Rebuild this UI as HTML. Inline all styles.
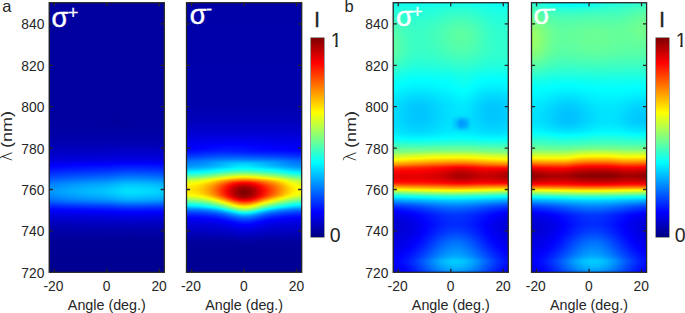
<!DOCTYPE html>
<html><head><meta charset="utf-8"><title>figure</title>
<style>
html,body{margin:0;padding:0;background:#fff}
#fig{position:relative;width:685px;height:313px;overflow:hidden;background:#fff;font-family:"Liberation Sans",sans-serif}
.hm{position:absolute;top:3px;width:115.1px;height:269.3px;overflow:hidden}
.hm i{display:block;height:1px;width:100%}
.cb{position:absolute;top:37.6px;width:13px;height:199.6px;background:linear-gradient(180deg,#800000 0%,#ff0000 12.5%,#ffff00 37.5%,#80ff80 50%,#00ffff 62.5%,#0000ff 87.5%,#000080 100%);box-shadow:0 0 0 0.6px rgba(38,38,38,.75)}
svg{position:absolute;left:0;top:0}
svg text{font-family:"Liberation Sans",sans-serif;fill:#262626}

</style></head>
<body>
<div id="fig">
<div class="hm" style="left:49.2px"><i style="background:#0000a0;height:99px"></i><i style="background:linear-gradient(90deg,#0000a1,#0000a1,#0000a0,#0000a0,#0000a0,#0000a0,#0000a0,#0000a0,#0000a0,#0000a0,#0000a0,#0000a0,#0000a0,#0000a0,#0000a0,#0000a0,#0000a0,#0000a0,#0000a0,#0000a0,#0000a0,#0000a0,#0000a0)"></i><i style="background:linear-gradient(90deg,#0000a1,#0000a1,#0000a1,#0000a1,#0000a1,#0000a1,#0000a1,#0000a0,#0000a0,#0000a0,#0000a0,#0000a0,#0000a0,#0000a0,#0000a0,#0000a0,#0000a0,#0000a0,#0000a0,#0000a0,#0000a0,#0000a0,#0000a0)"></i><i style="background:linear-gradient(90deg,#0000a1,#0000a1,#0000a1,#0000a1,#0000a1,#0000a1,#0000a1,#0000a1,#0000a1,#0000a1,#0000a1,#0000a1,#0000a0,#0000a0,#0000a0,#0000a0,#0000a0,#0000a0,#0000a0,#0000a0,#0000a0,#0000a0,#0000a0)"></i><i style="background:linear-gradient(90deg,#0000a1,#0000a1,#0000a1,#0000a1,#0000a1,#0000a1,#0000a1,#0000a1,#0000a1,#0000a1,#0000a1,#0000a1,#0000a1,#0000a0,#0000a0,#0000a0,#0000a1,#0000a1,#0000a1,#0000a1,#0000a1,#0000a1,#0000a1)"></i><i style="background:#0000a1;height:2px"></i><i style="background:linear-gradient(90deg,#0000a1,#0000a1,#0000a1,#0000a1,#0000a1,#0000a1,#0000a1,#0000a1,#0000a1,#0000a1,#0000a1,#0000a1,#0000a1,#0000a0,#0000a0,#0000a1,#0000a1,#0000a1,#0000a1,#0000a1,#0000a1,#0000a1,#0000a1)"></i><i style="background:linear-gradient(90deg,#0000a1,#0000a1,#0000a1,#0000a1,#0000a1,#0000a1,#0000a1,#0000a1,#0000a1,#0000a1,#0000a1,#0000a1,#0000a0,#0000a0,#0000a0,#0000a1,#0000a1,#0000a1,#0000a1,#0000a1,#0000a1,#0000a1,#0000a1);height:3px"></i><i style="background:linear-gradient(90deg,#0000a1,#0000a1,#0000a1,#0000a1,#0000a1,#0000a1,#0000a1,#0000a1,#0000a1,#0000a1,#0000a1,#0000a1,#0000a0,#0000a0,#0000a0,#0000a0,#0000a1,#0000a1,#0000a1,#0000a1,#0000a1,#0000a1,#0000a1)"></i><i style="background:linear-gradient(90deg,#0000a1,#0000a1,#0000a1,#0000a1,#0000a1,#0000a1,#0000a1,#0000a1,#0000a1,#0000a1,#0000a1,#0000a1,#0000a0,#00009f,#0000a0,#0000a0,#0000a1,#0000a1,#0000a1,#0000a1,#0000a1,#0000a1,#0000a1)"></i><i style="background:linear-gradient(90deg,#0000a1,#0000a1,#0000a1,#0000a1,#0000a1,#0000a1,#0000a1,#0000a1,#0000a1,#0000a1,#0000a1,#0000a0,#0000a0,#00009f,#00009f,#0000a0,#0000a1,#0000a1,#0000a1,#0000a1,#0000a1,#0000a1,#0000a1)"></i><i style="background:linear-gradient(90deg,#0000a1,#0000a1,#0000a1,#0000a1,#0000a1,#0000a1,#0000a1,#0000a1,#0000a1,#0000a1,#0000a1,#0000a0,#00009f,#00009e,#00009f,#0000a0,#0000a1,#0000a1,#0000a1,#0000a1,#0000a1,#0000a1,#0000a1)"></i><i style="background:linear-gradient(90deg,#0000a1,#0000a1,#0000a1,#0000a1,#0000a1,#0000a1,#0000a1,#0000a1,#0000a1,#0000a1,#0000a1,#0000a0,#00009f,#00009e,#00009e,#0000a0,#0000a1,#0000a1,#0000a1,#0000a1,#0000a1,#0000a1,#0000a1)"></i><i style="background:linear-gradient(90deg,#0000a1,#0000a1,#0000a1,#0000a1,#0000a1,#0000a1,#0000a1,#0000a1,#0000a1,#0000a1,#0000a1,#0000a0,#00009e,#00009d,#00009e,#0000a0,#0000a1,#0000a1,#0000a1,#0000a1,#0000a1,#0000a1,#0000a1)"></i><i style="background:linear-gradient(90deg,#0000a1,#0000a1,#0000a1,#0000a1,#0000a1,#0000a1,#0000a1,#0000a1,#0000a1,#0000a1,#0000a1,#0000a0,#00009e,#00009c,#00009d,#00009f,#0000a1,#0000a1,#0000a1,#0000a1,#0000a1,#0000a1,#0000a1);height:2px"></i><i style="background:linear-gradient(90deg,#0000a1,#0000a1,#0000a1,#0000a1,#0000a1,#0000a1,#0000a1,#0000a1,#0000a1,#0000a1,#0000a1,#0000a0,#00009d,#00009b,#00009d,#00009f,#0000a1,#0000a1,#0000a1,#0000a1,#0000a1,#0000a1,#0000a1)"></i><i style="background:linear-gradient(90deg,#0000a1,#0000a1,#0000a1,#0000a1,#0000a1,#0000a1,#0000a1,#0000a1,#0000a1,#0000a1,#0000a1,#0000a0,#00009d,#00009b,#00009c,#00009f,#0000a1,#0000a1,#0000a1,#0000a1,#0000a1,#0000a1,#0000a1)"></i><i style="background:linear-gradient(90deg,#0000a1,#0000a1,#0000a1,#0000a1,#0000a1,#0000a1,#0000a1,#0000a1,#0000a1,#0000a1,#0000a1,#0000a0,#00009d,#00009b,#00009d,#00009f,#0000a1,#0000a1,#0000a1,#0000a1,#0000a1,#0000a1,#0000a1)"></i><i style="background:linear-gradient(90deg,#0000a2,#0000a2,#0000a2,#0000a2,#0000a2,#0000a2,#0000a2,#0000a2,#0000a2,#0000a2,#0000a1,#0000a0,#00009e,#00009c,#00009d,#0000a0,#0000a1,#0000a2,#0000a2,#0000a2,#0000a2,#0000a2,#0000a2)"></i><i style="background:linear-gradient(90deg,#0000a2,#0000a2,#0000a2,#0000a2,#0000a2,#0000a2,#0000a2,#0000a2,#0000a2,#0000a2,#0000a2,#0000a1,#00009e,#00009d,#00009e,#0000a0,#0000a1,#0000a2,#0000a2,#0000a2,#0000a2,#0000a2,#0000a2)"></i><i style="background:linear-gradient(90deg,#0000a2,#0000a2,#0000a2,#0000a2,#0000a2,#0000a2,#0000a2,#0000a2,#0000a2,#0000a2,#0000a2,#0000a1,#00009f,#00009d,#00009e,#0000a1,#0000a2,#0000a2,#0000a2,#0000a2,#0000a2,#0000a2,#0000a2)"></i><i style="background:linear-gradient(90deg,#0000a3,#0000a3,#0000a3,#0000a3,#0000a3,#0000a3,#0000a3,#0000a3,#0000a3,#0000a3,#0000a2,#0000a2,#0000a0,#00009e,#00009f,#0000a1,#0000a2,#0000a2,#0000a3,#0000a3,#0000a3,#0000a3,#0000a3)"></i><i style="background:linear-gradient(90deg,#0000a3,#0000a3,#0000a3,#0000a3,#0000a3,#0000a3,#0000a3,#0000a3,#0000a3,#0000a3,#0000a3,#0000a2,#0000a1,#0000a0,#0000a0,#0000a2,#0000a3,#0000a3,#0000a3,#0000a3,#0000a3,#0000a3,#0000a3)"></i><i style="background:linear-gradient(90deg,#0000a4,#0000a3,#0000a3,#0000a3,#0000a3,#0000a3,#0000a3,#0000a3,#0000a3,#0000a3,#0000a3,#0000a3,#0000a2,#0000a1,#0000a1,#0000a2,#0000a3,#0000a3,#0000a3,#0000a3,#0000a3,#0000a3,#0000a3)"></i><i style="background:linear-gradient(90deg,#0000a4,#0000a4,#0000a4,#0000a4,#0000a4,#0000a4,#0000a4,#0000a4,#0000a4,#0000a4,#0000a4,#0000a3,#0000a3,#0000a2,#0000a2,#0000a3,#0000a4,#0000a4,#0000a4,#0000a4,#0000a4,#0000a4,#0000a4)"></i><i style="background:linear-gradient(90deg,#0000a5,#0000a5,#0000a5,#0000a5,#0000a4,#0000a4,#0000a4,#0000a4,#0000a4,#0000a4,#0000a4,#0000a4,#0000a3,#0000a3,#0000a3,#0000a4,#0000a4,#0000a4,#0000a4,#0000a4,#0000a4,#0000a4,#0000a4)"></i><i style="background:linear-gradient(90deg,#0000a5,#0000a5,#0000a5,#0000a5,#0000a5,#0000a5,#0000a5,#0000a5,#0000a5,#0000a5,#0000a5,#0000a5,#0000a4,#0000a4,#0000a4,#0000a5,#0000a5,#0000a5,#0000a5,#0000a5,#0000a5,#0000a5,#0000a5)"></i><i style="background:linear-gradient(90deg,#0000a6,#0000a6,#0000a6,#0000a6,#0000a6,#0000a6,#0000a6,#0000a6,#0000a6,#0000a6,#0000a6,#0000a5,#0000a5,#0000a5,#0000a5,#0000a5,#0000a5,#0000a5,#0000a6,#0000a6,#0000a6,#0000a6,#0000a6)"></i><i style="background:#0000a6"></i><i style="background:#0000a7"></i><i style="background:linear-gradient(90deg,#0000a8,#0000a8,#0000a8,#0000a8,#0000a8,#0000a8,#0000a8,#0000a8,#0000a8,#0000a8,#0000a8,#0000a8,#0000a8,#0000a7,#0000a7,#0000a7,#0000a8,#0000a8,#0000a8,#0000a8,#0000a8,#0000a8,#0000a8)"></i><i style="background:linear-gradient(90deg,#0000a9,#0000a9,#0000a9,#0000a9,#0000a9,#0000a9,#0000a9,#0000a8,#0000a8,#0000a8,#0000a8,#0000a8,#0000a8,#0000a8,#0000a8,#0000a8,#0000a8,#0000a8,#0000a8,#0000a8,#0000a8,#0000a8,#0000a8)"></i><i style="background:#0000a9"></i><i style="background:#0000aa"></i><i style="background:#0000ab"></i><i style="background:#0000ac"></i><i style="background:#0000ad"></i><i style="background:#0000af"></i><i style="background:#0000b1"></i><i style="background:linear-gradient(90deg,#0000b3,#0000b3,#0000b3,#0000b3,#0000b3,#0000b3,#0000b3,#0000b3,#0000b3,#0000b3,#0000b4,#0000b4,#0000b4,#0000b4,#0000b4,#0000b4,#0000b4,#0000b4,#0000b4,#0000b4,#0000b4,#0000b4,#0000b4)"></i><i style="background:linear-gradient(90deg,#0000b5,#0000b5,#0000b5,#0000b5,#0000b6,#0000b6,#0000b6,#0000b6,#0000b6,#0000b6,#0000b6,#0000b6,#0000b6,#0000b6,#0000b7,#0000b7,#0000b7,#0000b7,#0000b7,#0000b7,#0000b7,#0000b6,#0000b6)"></i><i style="background:linear-gradient(90deg,#0000b8,#0000b8,#0000b8,#0000b8,#0000b8,#0000b8,#0000b8,#0000b9,#0000b9,#0000b9,#0000b9,#0000b9,#0000b9,#0000b9,#0000ba,#0000ba,#0000ba,#0000ba,#0000ba,#0000ba,#0000b9,#0000b9,#0000b9)"></i><i style="background:linear-gradient(90deg,#0000ba,#0000ba,#0000ba,#0000bb,#0000bb,#0000bb,#0000bb,#0000bb,#0000bb,#0000bb,#0000bc,#0000bc,#0000bc,#0000bc,#0000bd,#0000bd,#0000bd,#0000bd,#0000bd,#0000bd,#0000bc,#0000bc,#0000bc)"></i><i style="background:linear-gradient(90deg,#0000bc,#0000bd,#0000bd,#0000bd,#0000bd,#0000be,#0000be,#0000be,#0000be,#0000be,#0000be,#0000bf,#0000bf,#0000bf,#0000c0,#0000c0,#0000c0,#0000c0,#0000c0,#0000c0,#0000bf,#0000bf,#0000bf)"></i><i style="background:linear-gradient(90deg,#0000bf,#0000bf,#0000bf,#0000c0,#0000c0,#0000c0,#0000c0,#0000c1,#0000c1,#0000c1,#0000c1,#0000c1,#0000c2,#0000c2,#0000c3,#0000c3,#0000c3,#0000c3,#0000c3,#0000c2,#0000c2,#0000c2,#0000c2)"></i><i style="background:linear-gradient(90deg,#0000c1,#0000c1,#0000c2,#0000c2,#0000c2,#0000c3,#0000c3,#0000c3,#0000c3,#0000c4,#0000c4,#0000c4,#0000c4,#0000c5,#0000c5,#0000c6,#0000c6,#0000c6,#0000c5,#0000c5,#0000c5,#0000c5,#0000c4)"></i><i style="background:linear-gradient(90deg,#0000c3,#0000c3,#0000c4,#0000c4,#0000c5,#0000c5,#0000c5,#0000c5,#0000c6,#0000c6,#0000c6,#0000c7,#0000c7,#0000c8,#0000c8,#0000c8,#0000c8,#0000c8,#0000c8,#0000c8,#0000c8,#0000c7,#0000c7)"></i><i style="background:linear-gradient(90deg,#0000c5,#0000c6,#0000c6,#0000c6,#0000c7,#0000c7,#0000c8,#0000c8,#0000c8,#0000c8,#0000c9,#0000c9,#0000ca,#0000ca,#0000cb,#0000cb,#0000cb,#0000cb,#0000cb,#0000cb,#0000ca,#0000ca,#0000ca)"></i><i style="background:linear-gradient(90deg,#0000c7,#0000c8,#0000c8,#0000c9,#0000c9,#0000ca,#0000ca,#0000ca,#0000cb,#0000cb,#0000cb,#0000cc,#0000cc,#0000cd,#0000cd,#0000ce,#0000ce,#0000ce,#0000ce,#0000cd,#0000cd,#0000cd,#0000cc)"></i><i style="background:linear-gradient(90deg,#0000c9,#0000ca,#0000cb,#0000cb,#0000cb,#0000cc,#0000cc,#0000cd,#0000cd,#0000cd,#0000ce,#0000ce,#0000cf,#0000cf,#0000d0,#0000d1,#0000d1,#0000d1,#0000d0,#0000d0,#0000d0,#0000cf,#0000cf)"></i><i style="background:linear-gradient(90deg,#0000cc,#0000cc,#0000cd,#0000cd,#0000ce,#0000cf,#0000cf,#0000cf,#0000d0,#0000d0,#0000d0,#0000d1,#0000d2,#0000d2,#0000d3,#0000d4,#0000d4,#0000d4,#0000d3,#0000d3,#0000d3,#0000d2,#0000d2)"></i><i style="background:linear-gradient(90deg,#0000ce,#0000cf,#0000d0,#0000d0,#0000d1,#0000d1,#0000d2,#0000d2,#0000d3,#0000d3,#0000d3,#0000d4,#0000d5,#0000d6,#0000d6,#0000d7,#0000d7,#0000d7,#0000d7,#0000d6,#0000d6,#0000d5,#0000d5)"></i><i style="background:linear-gradient(90deg,#0000d1,#0000d2,#0000d2,#0000d3,#0000d4,#0000d4,#0000d5,#0000d5,#0000d6,#0000d6,#0000d7,#0000d7,#0000d8,#0000d9,#0000da,#0000db,#0000db,#0000da,#0000da,#0000da,#0000d9,#0000d9,#0000d8)"></i><i style="background:linear-gradient(90deg,#0000d4,#0000d5,#0000d6,#0000d6,#0000d7,#0000d8,#0000d8,#0000d9,#0000d9,#0000da,#0000da,#0000db,#0000dc,#0000dd,#0000de,#0000de,#0000df,#0000de,#0000de,#0000de,#0000dd,#0000dd,#0000dc)"></i><i style="background:linear-gradient(90deg,#0000d7,#0000d8,#0000d9,#0000da,#0000db,#0000db,#0000dc,#0000dd,#0000dd,#0000de,#0000de,#0000df,#0000e0,#0000e1,#0000e2,#0000e3,#0000e3,#0000e3,#0000e2,#0000e2,#0000e1,#0000e1,#0000e0)"></i><i style="background:linear-gradient(90deg,#0000db,#0000dc,#0000dd,#0000de,#0000df,#0000e0,#0000e1,#0000e1,#0000e2,#0000e2,#0000e3,#0000e4,#0000e5,#0000e6,#0000e7,#0000e8,#0000e8,#0000e8,#0000e8,#0000e7,#0000e7,#0000e6,#0000e5)"></i><i style="background:linear-gradient(90deg,#0000e1,#0000e2,#0000e3,#0000e4,#0000e5,#0000e6,#0000e7,#0000e8,#0000e8,#0000e9,#0000ea,#0000ea,#0000ec,#0000ed,#0000ef,#0000f0,#0000f0,#0000ef,#0000ef,#0000ee,#0000ee,#0000ed,#0000ec)"></i><i style="background:linear-gradient(90deg,#0000e8,#0000e9,#0000ea,#0000eb,#0000ec,#0000ed,#0000ee,#0000ef,#0000f0,#0000f1,#0000f2,#0000f3,#0000f4,#0000f6,#0000f7,#0000f8,#0000f9,#0000f8,#0000f8,#0000f7,#0000f6,#0000f5,#0000f4)"></i><i style="background:linear-gradient(90deg,#0000ee,#0000f0,#0000f1,#0000f3,#0000f4,#0000f5,#0000f6,#0000f7,#0000f8,#0000f9,#0000fa,#0000fb,#0000fc,#0000fe,#0001ff,#0002ff,#0003ff,#0002ff,#0001ff,#0001ff,#0000ff,#0000fe,#0000fc)"></i><i style="background:linear-gradient(90deg,#0000f4,#0000f6,#0000f8,#0000f9,#0000fa,#0000fc,#0000fd,#0000fe,#0000ff,#0001ff,#0002ff,#0003ff,#0005ff,#0007ff,#0009ff,#000bff,#000bff,#000aff,#000aff,#0009ff,#0008ff,#0007ff,#0005ff)"></i><i style="background:linear-gradient(90deg,#0000fa,#0000fc,#0000fe,#0000ff,#0002ff,#0003ff,#0005ff,#0006ff,#0007ff,#0008ff,#0009ff,#000aff,#000cff,#000fff,#0011ff,#0012ff,#0012ff,#0012ff,#0011ff,#0010ff,#000fff,#000eff,#000cff)"></i><i style="background:linear-gradient(90deg,#0001ff,#0003ff,#0005ff,#0007ff,#0008ff,#000aff,#000bff,#000cff,#000eff,#000fff,#0010ff,#0011ff,#0013ff,#0016ff,#0018ff,#001aff,#001aff,#001aff,#0019ff,#0018ff,#0017ff,#0015ff,#0014ff)"></i><i style="background:linear-gradient(90deg,#0007ff,#0009ff,#000bff,#000dff,#000eff,#0010ff,#0012ff,#0013ff,#0014ff,#0015ff,#0017ff,#0018ff,#001aff,#001dff,#0020ff,#0022ff,#0022ff,#0021ff,#0020ff,#001fff,#001eff,#001dff,#001bff)"></i><i style="background:linear-gradient(90deg,#000dff,#000fff,#0011ff,#0013ff,#0015ff,#0017ff,#0018ff,#001aff,#001bff,#001cff,#001eff,#001fff,#0022ff,#0025ff,#0028ff,#0029ff,#002aff,#0029ff,#0028ff,#0027ff,#0026ff,#0024ff,#0022ff)"></i><i style="background:linear-gradient(90deg,#0013ff,#0015ff,#0017ff,#0019ff,#001bff,#001dff,#001fff,#0021ff,#0022ff,#0023ff,#0025ff,#0027ff,#0029ff,#002cff,#002fff,#0031ff,#0032ff,#0031ff,#0030ff,#002fff,#002dff,#002cff,#0029ff)"></i><i style="background:linear-gradient(90deg,#0019ff,#001bff,#001eff,#0020ff,#0022ff,#0024ff,#0026ff,#0028ff,#0029ff,#002bff,#002cff,#002eff,#0031ff,#0034ff,#0038ff,#003aff,#003aff,#0039ff,#0038ff,#0037ff,#0036ff,#0034ff,#0031ff)"></i><i style="background:linear-gradient(90deg,#001fff,#0022ff,#0025ff,#0027ff,#0029ff,#002cff,#002eff,#002fff,#0031ff,#0033ff,#0034ff,#0036ff,#0039ff,#003dff,#0040ff,#0043ff,#0043ff,#0042ff,#0041ff,#0040ff,#003eff,#003cff,#0039ff)"></i><i style="background:linear-gradient(90deg,#0026ff,#0029ff,#002cff,#002eff,#0031ff,#0033ff,#0035ff,#0037ff,#0039ff,#003bff,#003cff,#003eff,#0042ff,#0046ff,#0049ff,#004cff,#004cff,#004bff,#004aff,#0049ff,#0047ff,#0045ff,#0042ff)"></i><i style="background:linear-gradient(90deg,#002dff,#0030ff,#0033ff,#0036ff,#0039ff,#003bff,#003dff,#0040ff,#0041ff,#0043ff,#0045ff,#0047ff,#004aff,#004fff,#0053ff,#0055ff,#0056ff,#0055ff,#0053ff,#0052ff,#0050ff,#004eff,#004bff)"></i><i style="background:linear-gradient(90deg,#0035ff,#0038ff,#003bff,#003eff,#0041ff,#0043ff,#0046ff,#0048ff,#004aff,#004cff,#004eff,#0050ff,#0054ff,#0058ff,#005cff,#005fff,#005fff,#005fff,#005dff,#005cff,#005aff,#0057ff,#0054ff)"></i><i style="background:linear-gradient(90deg,#003cff,#0040ff,#0043ff,#0046ff,#0049ff,#004cff,#004eff,#0051ff,#0053ff,#0055ff,#0057ff,#0059ff,#005dff,#0062ff,#0066ff,#0069ff,#0069ff,#0069ff,#0067ff,#0065ff,#0063ff,#0061ff,#005dff)"></i><i style="background:linear-gradient(90deg,#0044ff,#0047ff,#004bff,#004eff,#0051ff,#0054ff,#0057ff,#0059ff,#005bff,#005eff,#0060ff,#0062ff,#0066ff,#006bff,#0070ff,#0073ff,#0074ff,#0073ff,#0071ff,#006fff,#006dff,#006aff,#0067ff)"></i><i style="background:linear-gradient(90deg,#004bff,#004fff,#0053ff,#0056ff,#0059ff,#005dff,#0060ff,#0062ff,#0064ff,#0067ff,#0069ff,#006cff,#0070ff,#0075ff,#007aff,#007dff,#007eff,#007dff,#007bff,#0079ff,#0077ff,#0074ff,#0070ff)"></i><i style="background:linear-gradient(90deg,#0053ff,#0057ff,#005bff,#005eff,#0062ff,#0065ff,#0068ff,#006bff,#006dff,#006fff,#0072ff,#0075ff,#0079ff,#007fff,#0084ff,#0088ff,#0088ff,#0087ff,#0085ff,#0083ff,#0081ff,#007eff,#007aff)"></i><i style="background:linear-gradient(90deg,#005aff,#005eff,#0062ff,#0066ff,#006aff,#006dff,#0071ff,#0073ff,#0076ff,#0078ff,#007bff,#007eff,#0083ff,#0088ff,#008eff,#0092ff,#0092ff,#0091ff,#008fff,#008dff,#008aff,#0087ff,#0083ff)"></i><i style="background:linear-gradient(90deg,#0062ff,#0066ff,#006bff,#006fff,#0073ff,#0076ff,#007aff,#007dff,#007fff,#0082ff,#0084ff,#0088ff,#008cff,#0093ff,#0098ff,#009cff,#009dff,#009bff,#0099ff,#0097ff,#0095ff,#0091ff,#008dff)"></i><i style="background:linear-gradient(90deg,#006aff,#006fff,#0073ff,#0078ff,#007cff,#0080ff,#0083ff,#0086ff,#0089ff,#008cff,#008fff,#0092ff,#0097ff,#009dff,#00a4ff,#00a8ff,#00a8ff,#00a7ff,#00a5ff,#00a2ff,#00a0ff,#009cff,#0098ff)"></i><i style="background:linear-gradient(90deg,#0073ff,#0077ff,#007cff,#0080ff,#0085ff,#0089ff,#008cff,#0090ff,#0093ff,#0095ff,#0098ff,#009cff,#00a1ff,#00a8ff,#00aeff,#00b3ff,#00b3ff,#00b2ff,#00afff,#00adff,#00aaff,#00a6ff,#00a2ff)"></i><i style="background:linear-gradient(90deg,#007aff,#007fff,#0084ff,#0088ff,#008dff,#0091ff,#0095ff,#0098ff,#009bff,#009eff,#00a1ff,#00a5ff,#00aaff,#00b1ff,#00b8ff,#00bcff,#00bdff,#00bbff,#00b9ff,#00b7ff,#00b4ff,#00b0ff,#00abff)"></i><i style="background:linear-gradient(90deg,#007fff,#0085ff,#0089ff,#008eff,#0093ff,#0097ff,#009bff,#009eff,#00a2ff,#00a5ff,#00a8ff,#00acff,#00b1ff,#00b9ff,#00bfff,#00c4ff,#00c4ff,#00c3ff,#00c1ff,#00beff,#00bbff,#00b7ff,#00b2ff)"></i><i style="background:linear-gradient(90deg,#0084ff,#0089ff,#008eff,#0093ff,#0098ff,#009cff,#00a0ff,#00a4ff,#00a7ff,#00aaff,#00adff,#00b1ff,#00b7ff,#00beff,#00c5ff,#00caff,#00caff,#00c9ff,#00c7ff,#00c4ff,#00c1ff,#00bdff,#00b8ff)"></i><i style="background:linear-gradient(90deg,#0088ff,#008eff,#0093ff,#0098ff,#009dff,#00a1ff,#00a5ff,#00a9ff,#00acff,#00afff,#00b3ff,#00b7ff,#00bdff,#00c4ff,#00cbff,#00d0ff,#00d0ff,#00cfff,#00cdff,#00caff,#00c7ff,#00c2ff,#00bdff)"></i><i style="background:linear-gradient(90deg,#008cff,#0092ff,#0097ff,#009cff,#00a1ff,#00a6ff,#00aaff,#00aeff,#00b1ff,#00b4ff,#00b8ff,#00bcff,#00c2ff,#00c9ff,#00d1ff,#00d5ff,#00d6ff,#00d4ff,#00d2ff,#00cfff,#00ccff,#00c8ff,#00c2ff)"></i><i style="background:linear-gradient(90deg,#0090ff,#0095ff,#009bff,#00a0ff,#00a5ff,#00a9ff,#00aeff,#00b2ff,#00b5ff,#00b8ff,#00bcff,#00c0ff,#00c6ff,#00ceff,#00d5ff,#00daff,#00dbff,#00d9ff,#00d7ff,#00d4ff,#00d0ff,#00ccff,#00c7ff)"></i><i style="background:linear-gradient(90deg,#0092ff,#0098ff,#009eff,#00a3ff,#00a8ff,#00acff,#00b1ff,#00b5ff,#00b8ff,#00bbff,#00bfff,#00c3ff,#00c9ff,#00d1ff,#00d9ff,#00deff,#00deff,#00dcff,#00daff,#00d7ff,#00d4ff,#00cfff,#00caff)"></i><i style="background:linear-gradient(90deg,#0094ff,#0099ff,#009fff,#00a4ff,#00a9ff,#00aeff,#00b2ff,#00b6ff,#00baff,#00bdff,#00c0ff,#00c5ff,#00cbff,#00d3ff,#00dbff,#00dfff,#00e0ff,#00deff,#00dcff,#00d9ff,#00d6ff,#00d1ff,#00ccff);height:2px"></i><i style="background:linear-gradient(90deg,#0092ff,#0098ff,#009dff,#00a3ff,#00a8ff,#00acff,#00b1ff,#00b5ff,#00b8ff,#00bbff,#00bfff,#00c3ff,#00c9ff,#00d1ff,#00d9ff,#00deff,#00deff,#00dcff,#00daff,#00d7ff,#00d4ff,#00cfff,#00caff)"></i><i style="background:linear-gradient(90deg,#0090ff,#0095ff,#009bff,#00a0ff,#00a5ff,#00a9ff,#00aeff,#00b2ff,#00b5ff,#00b8ff,#00bcff,#00c0ff,#00c6ff,#00ceff,#00d5ff,#00daff,#00daff,#00d9ff,#00d6ff,#00d4ff,#00d0ff,#00ccff,#00c7ff)"></i><i style="background:linear-gradient(90deg,#008cff,#0092ff,#0097ff,#009cff,#00a1ff,#00a5ff,#00aaff,#00adff,#00b1ff,#00b4ff,#00b7ff,#00bbff,#00c1ff,#00c9ff,#00d0ff,#00d5ff,#00d6ff,#00d4ff,#00d2ff,#00cfff,#00ccff,#00c7ff,#00c2ff)"></i><i style="background:linear-gradient(90deg,#0088ff,#008dff,#0092ff,#0097ff,#009cff,#00a1ff,#00a5ff,#00a8ff,#00acff,#00afff,#00b2ff,#00b6ff,#00bcff,#00c4ff,#00cbff,#00cfff,#00d0ff,#00ceff,#00ccff,#00c9ff,#00c6ff,#00c2ff,#00bdff)"></i><i style="background:linear-gradient(90deg,#0083ff,#0088ff,#008dff,#0092ff,#0097ff,#009bff,#009fff,#00a3ff,#00a6ff,#00a9ff,#00acff,#00b0ff,#00b6ff,#00bdff,#00c4ff,#00c9ff,#00c9ff,#00c8ff,#00c5ff,#00c3ff,#00c0ff,#00bbff,#00b7ff)"></i><i style="background:linear-gradient(90deg,#007eff,#0083ff,#0088ff,#008dff,#0091ff,#0095ff,#0099ff,#009dff,#00a0ff,#00a3ff,#00a6ff,#00aaff,#00afff,#00b7ff,#00bdff,#00c2ff,#00c2ff,#00c1ff,#00bfff,#00bcff,#00b9ff,#00b5ff,#00b0ff)"></i><i style="background:linear-gradient(90deg,#0078ff,#007dff,#0082ff,#0087ff,#008bff,#008fff,#0093ff,#0096ff,#0099ff,#009cff,#009fff,#00a3ff,#00a8ff,#00afff,#00b6ff,#00baff,#00bbff,#00b9ff,#00b7ff,#00b5ff,#00b2ff,#00aeff,#00a9ff)"></i><i style="background:linear-gradient(90deg,#0071ff,#0075ff,#007aff,#007eff,#0083ff,#0086ff,#008aff,#008dff,#0090ff,#0093ff,#0096ff,#0099ff,#009fff,#00a5ff,#00acff,#00b0ff,#00b0ff,#00afff,#00adff,#00abff,#00a8ff,#00a4ff,#009fff)"></i><i style="background:linear-gradient(90deg,#0067ff,#006cff,#0070ff,#0074ff,#0078ff,#007cff,#0080ff,#0083ff,#0085ff,#0088ff,#008bff,#008eff,#0093ff,#0099ff,#00a0ff,#00a3ff,#00a4ff,#00a3ff,#00a1ff,#009eff,#009cff,#0098ff,#0094ff)"></i><i style="background:linear-gradient(90deg,#005dff,#0061ff,#0066ff,#006aff,#006dff,#0071ff,#0074ff,#0077ff,#0079ff,#007cff,#007fff,#0082ff,#0086ff,#008cff,#0092ff,#0096ff,#0096ff,#0095ff,#0093ff,#0091ff,#008eff,#008bff,#0087ff)"></i><i style="background:linear-gradient(90deg,#0052ff,#0056ff,#005aff,#005eff,#0061ff,#0065ff,#0068ff,#006aff,#006dff,#006fff,#0072ff,#0075ff,#0079ff,#007fff,#0084ff,#0087ff,#0088ff,#0086ff,#0085ff,#0083ff,#0080ff,#007dff,#0079ff)"></i><i style="background:linear-gradient(90deg,#0046ff,#004aff,#004dff,#0050ff,#0054ff,#0057ff,#0059ff,#005cff,#005eff,#0060ff,#0063ff,#0065ff,#0069ff,#006eff,#0073ff,#0076ff,#0077ff,#0076ff,#0074ff,#0072ff,#0070ff,#006dff,#006aff)"></i><i style="background:linear-gradient(90deg,#0039ff,#003cff,#0040ff,#0043ff,#0046ff,#0048ff,#004bff,#004dff,#004fff,#0051ff,#0053ff,#0056ff,#0059ff,#005eff,#0062ff,#0065ff,#0065ff,#0065ff,#0063ff,#0061ff,#005fff,#005dff,#005aff)"></i><i style="background:linear-gradient(90deg,#002dff,#0030ff,#0033ff,#0036ff,#0039ff,#003bff,#003eff,#0040ff,#0041ff,#0043ff,#0045ff,#0047ff,#004bff,#004fff,#0053ff,#0055ff,#0056ff,#0055ff,#0054ff,#0052ff,#0050ff,#004eff,#004bff)"></i><i style="background:linear-gradient(90deg,#0022ff,#0025ff,#0027ff,#002aff,#002cff,#002fff,#0031ff,#0033ff,#0034ff,#0036ff,#0037ff,#0039ff,#003cff,#0040ff,#0044ff,#0046ff,#0047ff,#0046ff,#0045ff,#0043ff,#0042ff,#003fff,#003dff)"></i><i style="background:linear-gradient(90deg,#0017ff,#0019ff,#001cff,#001eff,#0020ff,#0022ff,#0024ff,#0026ff,#0027ff,#0029ff,#002aff,#002cff,#002fff,#0032ff,#0035ff,#0037ff,#0038ff,#0037ff,#0036ff,#0035ff,#0033ff,#0031ff,#002fff)"></i><i style="background:linear-gradient(90deg,#000cff,#000fff,#0011ff,#0013ff,#0015ff,#0016ff,#0018ff,#001aff,#001bff,#001cff,#001dff,#001fff,#0021ff,#0025ff,#0027ff,#0029ff,#0029ff,#0029ff,#0028ff,#0027ff,#0026ff,#0024ff,#0022ff)"></i><i style="background:linear-gradient(90deg,#0003ff,#0005ff,#0007ff,#0008ff,#000aff,#000cff,#000dff,#000fff,#0010ff,#0011ff,#0012ff,#0013ff,#0016ff,#0018ff,#001bff,#001dff,#001dff,#001cff,#001bff,#001aff,#0019ff,#0018ff,#0016ff)"></i><i style="background:linear-gradient(90deg,#0000fa,#0000fb,#0000fd,#0000ff,#0001ff,#0003ff,#0004ff,#0005ff,#0006ff,#0007ff,#0008ff,#000aff,#000bff,#000eff,#0010ff,#0012ff,#0012ff,#0011ff,#0011ff,#0010ff,#000fff,#000dff,#000cff)"></i><i style="background:linear-gradient(90deg,#0000f3,#0000f4,#0000f6,#0000f7,#0000f9,#0000fa,#0000fb,#0000fc,#0000fd,#0000fe,#0000ff,#0001ff,#0003ff,#0005ff,#0007ff,#0009ff,#0009ff,#0008ff,#0008ff,#0007ff,#0006ff,#0005ff,#0003ff)"></i><i style="background:linear-gradient(90deg,#0000ec,#0000ee,#0000ef,#0000f1,#0000f2,#0000f3,#0000f4,#0000f5,#0000f6,#0000f7,#0000f8,#0000f9,#0000fa,#0000fc,#0000fe,#0000ff,#0001ff,#0000ff,#0000ff,#0000fe,#0000fd,#0000fc,#0000fa)"></i><i style="background:linear-gradient(90deg,#0000e7,#0000e8,#0000e9,#0000eb,#0000ec,#0000ed,#0000ee,#0000ef,#0000ef,#0000f0,#0000f1,#0000f2,#0000f3,#0000f5,#0000f7,#0000f8,#0000f8,#0000f8,#0000f7,#0000f6,#0000f6,#0000f5,#0000f3)"></i><i style="background:linear-gradient(90deg,#0000e2,#0000e3,#0000e4,#0000e5,#0000e6,#0000e7,#0000e8,#0000e9,#0000e9,#0000ea,#0000eb,#0000ec,#0000ed,#0000ef,#0000f0,#0000f1,#0000f1,#0000f1,#0000f0,#0000f0,#0000ef,#0000ee,#0000ed)"></i><i style="background:linear-gradient(90deg,#0000dd,#0000de,#0000df,#0000e0,#0000e1,#0000e1,#0000e2,#0000e3,#0000e4,#0000e4,#0000e5,#0000e6,#0000e7,#0000e8,#0000ea,#0000eb,#0000eb,#0000ea,#0000ea,#0000e9,#0000e9,#0000e8,#0000e7)"></i><i style="background:linear-gradient(90deg,#0000d8,#0000d9,#0000da,#0000db,#0000db,#0000dc,#0000dd,#0000de,#0000de,#0000df,#0000df,#0000e0,#0000e1,#0000e2,#0000e4,#0000e5,#0000e5,#0000e4,#0000e4,#0000e3,#0000e3,#0000e2,#0000e1)"></i><i style="background:linear-gradient(90deg,#0000d3,#0000d4,#0000d5,#0000d6,#0000d7,#0000d7,#0000d8,#0000d8,#0000d9,#0000d9,#0000da,#0000db,#0000dc,#0000dd,#0000de,#0000df,#0000df,#0000de,#0000de,#0000de,#0000dd,#0000dc,#0000dc)"></i><i style="background:linear-gradient(90deg,#0000cf,#0000d0,#0000d0,#0000d1,#0000d2,#0000d2,#0000d3,#0000d4,#0000d4,#0000d4,#0000d5,#0000d5,#0000d6,#0000d7,#0000d8,#0000d9,#0000d9,#0000d9,#0000d9,#0000d8,#0000d8,#0000d7,#0000d6)"></i><i style="background:linear-gradient(90deg,#0000cb,#0000cc,#0000cc,#0000cd,#0000cd,#0000ce,#0000ce,#0000cf,#0000cf,#0000d0,#0000d0,#0000d1,#0000d1,#0000d2,#0000d3,#0000d4,#0000d4,#0000d4,#0000d3,#0000d3,#0000d3,#0000d2,#0000d1)"></i><i style="background:linear-gradient(90deg,#0000c7,#0000c8,#0000c8,#0000c9,#0000c9,#0000ca,#0000ca,#0000ca,#0000cb,#0000cb,#0000cc,#0000cc,#0000cd,#0000cd,#0000ce,#0000cf,#0000cf,#0000cf,#0000ce,#0000ce,#0000ce,#0000cd,#0000cd)"></i><i style="background:linear-gradient(90deg,#0000c3,#0000c4,#0000c4,#0000c5,#0000c5,#0000c6,#0000c6,#0000c6,#0000c7,#0000c7,#0000c7,#0000c8,#0000c8,#0000c9,#0000ca,#0000ca,#0000ca,#0000ca,#0000ca,#0000c9,#0000c9,#0000c9,#0000c8)"></i><i style="background:linear-gradient(90deg,#0000c0,#0000c0,#0000c1,#0000c1,#0000c1,#0000c2,#0000c2,#0000c2,#0000c3,#0000c3,#0000c3,#0000c4,#0000c4,#0000c5,#0000c5,#0000c6,#0000c6,#0000c6,#0000c5,#0000c5,#0000c5,#0000c5,#0000c4)"></i><i style="background:linear-gradient(90deg,#0000bd,#0000bd,#0000bd,#0000be,#0000be,#0000be,#0000bf,#0000bf,#0000bf,#0000bf,#0000c0,#0000c0,#0000c0,#0000c1,#0000c1,#0000c2,#0000c2,#0000c1,#0000c1,#0000c1,#0000c1,#0000c1,#0000c0)"></i><i style="background:linear-gradient(90deg,#0000b9,#0000ba,#0000ba,#0000ba,#0000bb,#0000bb,#0000bb,#0000bb,#0000bc,#0000bc,#0000bc,#0000bc,#0000bd,#0000bd,#0000bd,#0000be,#0000be,#0000be,#0000bd,#0000bd,#0000bd,#0000bd,#0000bd)"></i><i style="background:linear-gradient(90deg,#0000b6,#0000b7,#0000b7,#0000b7,#0000b7,#0000b8,#0000b8,#0000b8,#0000b8,#0000b8,#0000b8,#0000b9,#0000b9,#0000b9,#0000ba,#0000ba,#0000ba,#0000ba,#0000ba,#0000ba,#0000b9,#0000b9,#0000b9)"></i><i style="background:linear-gradient(90deg,#0000b4,#0000b4,#0000b4,#0000b4,#0000b4,#0000b5,#0000b5,#0000b5,#0000b5,#0000b5,#0000b5,#0000b5,#0000b6,#0000b6,#0000b6,#0000b6,#0000b6,#0000b6,#0000b6,#0000b6,#0000b6,#0000b6,#0000b6)"></i><i style="background:linear-gradient(90deg,#0000b1,#0000b1,#0000b1,#0000b1,#0000b1,#0000b2,#0000b2,#0000b2,#0000b2,#0000b2,#0000b2,#0000b2,#0000b2,#0000b3,#0000b3,#0000b3,#0000b3,#0000b3,#0000b3,#0000b3,#0000b3,#0000b3,#0000b2)"></i><i style="background:linear-gradient(90deg,#0000ae,#0000ae,#0000af,#0000af,#0000af,#0000af,#0000af,#0000af,#0000af,#0000af,#0000af,#0000af,#0000af,#0000b0,#0000b0,#0000b0,#0000b0,#0000b0,#0000b0,#0000b0,#0000b0,#0000b0,#0000af)"></i><i style="background:linear-gradient(90deg,#0000ac,#0000ac,#0000ac,#0000ac,#0000ac,#0000ac,#0000ac,#0000ac,#0000ad,#0000ad,#0000ad,#0000ad,#0000ad,#0000ad,#0000ad,#0000ad,#0000ad,#0000ad,#0000ad,#0000ad,#0000ad,#0000ad,#0000ad)"></i><i style="background:linear-gradient(90deg,#0000aa,#0000aa,#0000aa,#0000aa,#0000aa,#0000aa,#0000aa,#0000aa,#0000aa,#0000aa,#0000aa,#0000aa,#0000aa,#0000aa,#0000ab,#0000ab,#0000ab,#0000ab,#0000ab,#0000aa,#0000aa,#0000aa,#0000aa)"></i><i style="background:#0000a8"></i><i style="background:#0000a6"></i><i style="background:#0000a4"></i><i style="background:linear-gradient(90deg,#0000a2,#0000a2,#0000a2,#0000a2,#0000a2,#0000a2,#0000a2,#0000a2,#0000a2,#0000a2,#0000a2,#0000a2,#0000a2,#0000a2,#0000a2,#0000a1,#0000a1,#0000a2,#0000a2,#0000a2,#0000a2,#0000a2,#0000a2)"></i><i style="background:linear-gradient(90deg,#0000a0,#0000a0,#0000a0,#0000a0,#0000a0,#0000a0,#0000a0,#0000a0,#0000a0,#0000a0,#0000a0,#0000a0,#0000a0,#0000a0,#00009f,#00009f,#00009f,#00009f,#00009f,#0000a0,#0000a0,#0000a0,#0000a0)"></i><i style="background:#00009e"></i><i style="background:#00009c"></i><i style="background:linear-gradient(90deg,#00009b,#00009b,#00009b,#00009b,#00009b,#00009b,#00009b,#00009b,#00009b,#00009b,#00009b,#00009b,#00009b,#00009b,#00009b,#00009a,#00009a,#00009b,#00009b,#00009b,#00009b,#00009b,#00009b)"></i><i style="background:linear-gradient(90deg,#00009a,#00009a,#00009a,#00009a,#00009a,#00009a,#00009a,#00009a,#00009a,#00009a,#00009a,#000099,#000099,#000099,#000099,#000099,#000099,#000099,#000099,#000099,#000099,#000099,#000099)"></i><i style="background:linear-gradient(90deg,#000099,#000099,#000099,#000099,#000099,#000099,#000099,#000099,#000099,#000099,#000099,#000099,#000099,#000099,#000098,#000098,#000098,#000098,#000098,#000098,#000098,#000099,#000099)"></i><i style="background:#000098;height:2px"></i><i style="background:#000097;height:2px"></i><i style="background:linear-gradient(90deg,#000096,#000096,#000096,#000096,#000096,#000096,#000096,#000096,#000096,#000096,#000096,#000096,#000096,#000096,#000097,#000097,#000097,#000097,#000097,#000096,#000096,#000096,#000096)"></i><i style="background:#000096;height:2px"></i><i style="background:linear-gradient(90deg,#000095,#000095,#000095,#000095,#000095,#000095,#000095,#000095,#000095,#000095,#000095,#000095,#000095,#000095,#000095,#000096,#000096,#000096,#000095,#000095,#000095,#000095,#000095)"></i><i style="background:#000095;height:3px"></i><i style="background:#000094;height:4px"></i><i style="background:#000093;height:6px"></i><i style="background:#000092;height:10px"></i></div>
<div class="hm" style="left:186.5px"><i style="background:#0000a8;height:4px"></i><i style="background:#0000a9;height:18px"></i><i style="background:#0000aa;height:19px"></i><i style="background:#0000ab;height:19px"></i><i style="background:#0000ac;height:25px"></i><i style="background:#0000ad;height:13px"></i><i style="background:#0000ae;height:3px"></i><i style="background:#0000af;height:3px"></i><i style="background:#0000b0;height:2px"></i><i style="background:#0000b1"></i><i style="background:#0000b2;height:2px"></i><i style="background:#0000b3"></i><i style="background:#0000b4"></i><i style="background:#0000b5;height:2px"></i><i style="background:#0000b6"></i><i style="background:#0000b7"></i><i style="background:#0000b8"></i><i style="background:#0000b9"></i><i style="background:#0000ba"></i><i style="background:#0000bc"></i><i style="background:#0000bd"></i><i style="background:#0000bf"></i><i style="background:#0000c0"></i><i style="background:#0000c2"></i><i style="background:#0000c4"></i><i style="background:#0000c6"></i><i style="background:#0000c8"></i><i style="background:#0000ca"></i><i style="background:#0000cc"></i><i style="background:#0000ce"></i><i style="background:linear-gradient(90deg,#0000d0,#0000d0,#0000d0,#0000d1,#0000d1,#0000d1,#0000d1,#0000d1,#0000d1,#0000d1,#0000d1,#0000d1,#0000d1,#0000d0,#0000d0,#0000d0,#0000d0,#0000d0,#0000d0,#0000d0,#0000d0,#0000d0,#0000d0)"></i><i style="background:linear-gradient(90deg,#0000d3,#0000d3,#0000d3,#0000d3,#0000d3,#0000d3,#0000d3,#0000d3,#0000d3,#0000d3,#0000d3,#0000d3,#0000d3,#0000d3,#0000d3,#0000d3,#0000d3,#0000d3,#0000d2,#0000d2,#0000d2,#0000d2,#0000d2)"></i><i style="background:linear-gradient(90deg,#0000d5,#0000d5,#0000d5,#0000d5,#0000d5,#0000d6,#0000d6,#0000d6,#0000d6,#0000d6,#0000d6,#0000d5,#0000d5,#0000d5,#0000d5,#0000d5,#0000d5,#0000d5,#0000d5,#0000d5,#0000d5,#0000d5,#0000d5)"></i><i style="background:linear-gradient(90deg,#0000d8,#0000d8,#0000d8,#0000d8,#0000d8,#0000d9,#0000d9,#0000d9,#0000d9,#0000d9,#0000d9,#0000d8,#0000d8,#0000d8,#0000d8,#0000d8,#0000d8,#0000d8,#0000d8,#0000d8,#0000d7,#0000d7,#0000d7)"></i><i style="background:linear-gradient(90deg,#0000db,#0000db,#0000db,#0000db,#0000db,#0000dc,#0000dc,#0000dc,#0000dc,#0000dc,#0000dc,#0000dc,#0000dc,#0000db,#0000db,#0000db,#0000db,#0000db,#0000da,#0000da,#0000da,#0000da,#0000da)"></i><i style="background:linear-gradient(90deg,#0000dd,#0000de,#0000de,#0000de,#0000df,#0000df,#0000e0,#0000e0,#0000e0,#0000e0,#0000e0,#0000df,#0000df,#0000df,#0000de,#0000de,#0000de,#0000de,#0000dd,#0000dd,#0000dd,#0000dd,#0000dd)"></i><i style="background:linear-gradient(90deg,#0000e0,#0000e1,#0000e1,#0000e2,#0000e2,#0000e3,#0000e3,#0000e4,#0000e4,#0000e4,#0000e3,#0000e3,#0000e3,#0000e2,#0000e2,#0000e1,#0000e1,#0000e1,#0000e0,#0000e0,#0000e0,#0000e0,#0000e0)"></i><i style="background:linear-gradient(90deg,#0000e3,#0000e4,#0000e4,#0000e5,#0000e6,#0000e7,#0000e7,#0000e8,#0000e8,#0000e8,#0000e7,#0000e7,#0000e6,#0000e6,#0000e5,#0000e5,#0000e4,#0000e4,#0000e3,#0000e3,#0000e3,#0000e3,#0000e3)"></i><i style="background:linear-gradient(90deg,#0000e6,#0000e7,#0000e8,#0000e8,#0000e9,#0000ea,#0000eb,#0000ec,#0000ec,#0000ec,#0000ec,#0000eb,#0000ea,#0000e9,#0000e9,#0000e8,#0000e7,#0000e7,#0000e6,#0000e6,#0000e5,#0000e5,#0000e5)"></i><i style="background:linear-gradient(90deg,#0000e9,#0000ea,#0000eb,#0000ec,#0000ed,#0000ee,#0000ef,#0000f0,#0000f0,#0000f0,#0000f0,#0000ef,#0000ee,#0000ed,#0000ec,#0000eb,#0000ea,#0000e9,#0000e9,#0000e8,#0000e8,#0000e8,#0000e8)"></i><i style="background:linear-gradient(90deg,#0000ec,#0000ec,#0000ee,#0000ef,#0000f0,#0000f2,#0000f3,#0000f4,#0000f4,#0000f4,#0000f4,#0000f3,#0000f2,#0000f0,#0000ef,#0000ee,#0000ed,#0000ec,#0000eb,#0000eb,#0000ea,#0000ea,#0000ea)"></i><i style="background:linear-gradient(90deg,#0000ee,#0000ef,#0000f1,#0000f2,#0000f4,#0000f6,#0000f7,#0000f8,#0000f9,#0000f9,#0000f8,#0000f7,#0000f6,#0000f4,#0000f3,#0000f1,#0000f0,#0000ef,#0000ee,#0000ed,#0000ed,#0000ec,#0000ec)"></i><i style="background:linear-gradient(90deg,#0000f1,#0000f2,#0000f4,#0000f6,#0000f8,#0000fa,#0000fc,#0000fd,#0000fe,#0000fe,#0000fd,#0000fc,#0000fa,#0000f8,#0000f6,#0000f5,#0000f3,#0000f2,#0000f1,#0000f0,#0000ef,#0000ef,#0000ef)"></i><i style="background:linear-gradient(90deg,#0000f4,#0000f5,#0000f7,#0000f9,#0000fc,#0000fe,#0001ff,#0003ff,#0004ff,#0004ff,#0003ff,#0001ff,#0000fe,#0000fc,#0000fa,#0000f8,#0000f6,#0000f5,#0000f3,#0000f2,#0000f2,#0000f1,#0000f1)"></i><i style="background:linear-gradient(90deg,#0000f7,#0000f8,#0000fa,#0000fd,#0000ff,#0003ff,#0005ff,#0007ff,#0008ff,#0008ff,#0007ff,#0006ff,#0004ff,#0001ff,#0000fd,#0000fb,#0000f9,#0000f7,#0000f6,#0000f5,#0000f4,#0000f4,#0000f3)"></i><i style="background:linear-gradient(90deg,#0000f9,#0000fb,#0000fd,#0001ff,#0004ff,#0007ff,#0009ff,#000bff,#000dff,#000dff,#000cff,#000aff,#0007ff,#0005ff,#0002ff,#0000fe,#0000fc,#0000fa,#0000f9,#0000f7,#0000f6,#0000f6,#0000f5)"></i><i style="background:linear-gradient(90deg,#0000fc,#0000fe,#0001ff,#0004ff,#0007ff,#000aff,#000dff,#000fff,#0010ff,#0011ff,#0010ff,#000eff,#000bff,#0008ff,#0005ff,#0002ff,#0000fe,#0000fc,#0000fb,#0000fa,#0000f9,#0000f8,#0000f8)"></i><i style="background:linear-gradient(90deg,#0001ff,#0003ff,#0006ff,#0009ff,#000cff,#000fff,#0011ff,#0013ff,#0014ff,#0014ff,#0013ff,#0011ff,#000eff,#000bff,#0007ff,#0005ff,#0003ff,#0002ff,#0000ff,#0000fe,#0000fd,#0000fc,#0000fc)"></i><i style="background:linear-gradient(90deg,#0007ff,#0009ff,#000cff,#000fff,#0012ff,#0015ff,#0017ff,#0018ff,#0018ff,#0018ff,#0016ff,#0014ff,#0011ff,#000eff,#000cff,#000aff,#0009ff,#0008ff,#0006ff,#0005ff,#0004ff,#0003ff,#0002ff)"></i><i style="background:linear-gradient(90deg,#000eff,#0010ff,#0013ff,#0016ff,#001aff,#001dff,#001fff,#0020ff,#0020ff,#001eff,#001cff,#0019ff,#0017ff,#0014ff,#0012ff,#0011ff,#0010ff,#000fff,#000eff,#000cff,#000bff,#000aff,#0009ff)"></i><i style="background:linear-gradient(90deg,#0016ff,#0018ff,#001bff,#001fff,#0023ff,#0026ff,#0028ff,#0029ff,#0029ff,#0027ff,#0024ff,#0022ff,#001fff,#001dff,#001cff,#001bff,#001aff,#0019ff,#0017ff,#0015ff,#0013ff,#0011ff,#0010ff)"></i><i style="background:linear-gradient(90deg,#001fff,#0021ff,#0024ff,#0028ff,#002cff,#002fff,#0032ff,#0034ff,#0033ff,#0031ff,#002fff,#002cff,#002aff,#0028ff,#0026ff,#0025ff,#0024ff,#0023ff,#0021ff,#001eff,#001bff,#001aff,#0019ff)"></i><i style="background:linear-gradient(90deg,#0027ff,#002aff,#002dff,#0031ff,#0035ff,#0039ff,#003cff,#003eff,#003eff,#003dff,#003bff,#0038ff,#0036ff,#0034ff,#0032ff,#0031ff,#002fff,#002dff,#002bff,#0027ff,#0024ff,#0022ff,#0021ff)"></i><i style="background:linear-gradient(90deg,#0030ff,#0032ff,#0035ff,#0039ff,#003eff,#0043ff,#0046ff,#0049ff,#004aff,#0049ff,#0047ff,#0045ff,#0042ff,#0040ff,#003eff,#003cff,#003bff,#0038ff,#0035ff,#0031ff,#002dff,#002bff,#0029ff)"></i><i style="background:linear-gradient(90deg,#003aff,#003cff,#003fff,#0043ff,#0048ff,#004cff,#0050ff,#0053ff,#0055ff,#0055ff,#0054ff,#0052ff,#004fff,#004dff,#004aff,#0048ff,#0046ff,#0043ff,#003fff,#003bff,#0037ff,#0034ff,#0033ff)"></i><i style="background:linear-gradient(90deg,#0045ff,#0048ff,#004bff,#004fff,#0053ff,#0058ff,#005cff,#005fff,#0060ff,#0061ff,#0060ff,#005eff,#005cff,#0059ff,#0057ff,#0055ff,#0053ff,#0050ff,#004cff,#0048ff,#0043ff,#0040ff,#003eff)"></i><i style="background:linear-gradient(90deg,#0052ff,#0054ff,#0057ff,#005cff,#0060ff,#0065ff,#006aff,#006dff,#006eff,#006fff,#006eff,#006cff,#006aff,#0068ff,#0066ff,#0064ff,#0062ff,#0060ff,#005bff,#0056ff,#0050ff,#004dff,#004bff)"></i><i style="background:linear-gradient(90deg,#005fff,#0061ff,#0064ff,#0069ff,#006eff,#0073ff,#0078ff,#007cff,#007fff,#007fff,#007fff,#007dff,#007cff,#007aff,#0078ff,#0075ff,#0073ff,#0070ff,#006aff,#0064ff,#005eff,#0059ff,#0057ff)"></i><i style="background:linear-gradient(90deg,#006bff,#006dff,#0070ff,#0075ff,#007bff,#0081ff,#0087ff,#008cff,#0090ff,#0092ff,#0092ff,#0091ff,#008fff,#008dff,#008aff,#0087ff,#0084ff,#007fff,#0078ff,#0071ff,#006aff,#0065ff,#0063ff)"></i><i style="background:linear-gradient(90deg,#0075ff,#0077ff,#007aff,#007fff,#0086ff,#008dff,#0095ff,#009bff,#00a1ff,#00a4ff,#00a5ff,#00a5ff,#00a3ff,#00a0ff,#009cff,#0098ff,#0093ff,#008dff,#0085ff,#007cff,#0075ff,#006fff,#006cff)"></i><i style="background:linear-gradient(90deg,#007cff,#007eff,#0082ff,#0087ff,#008eff,#0097ff,#00a0ff,#00a8ff,#00b0ff,#00b5ff,#00b8ff,#00b8ff,#00b6ff,#00b2ff,#00acff,#00a6ff,#009fff,#0098ff,#008fff,#0085ff,#007dff,#0077ff,#0074ff)"></i><i style="background:linear-gradient(90deg,#0082ff,#0084ff,#0087ff,#008dff,#0094ff,#009dff,#00a8ff,#00b2ff,#00bcff,#00c4ff,#00c8ff,#00c9ff,#00c6ff,#00c1ff,#00b9ff,#00b1ff,#00a8ff,#00a0ff,#0096ff,#008bff,#0083ff,#007dff,#0079ff)"></i><i style="background:linear-gradient(90deg,#0088ff,#008aff,#008dff,#0093ff,#009aff,#00a3ff,#00aeff,#00b9ff,#00c5ff,#00ceff,#00d4ff,#00d6ff,#00d3ff,#00ccff,#00c2ff,#00b9ff,#00b0ff,#00a7ff,#009cff,#0092ff,#0089ff,#0082ff,#007fff)"></i><i style="background:linear-gradient(90deg,#008fff,#0091ff,#0094ff,#0099ff,#00a1ff,#00aaff,#00b5ff,#00c0ff,#00ccff,#00d6ff,#00ddff,#00dfff,#00dcff,#00d4ff,#00cbff,#00c1ff,#00b7ff,#00aeff,#00a4ff,#0099ff,#0090ff,#0089ff,#0086ff)"></i><i style="background:linear-gradient(90deg,#0099ff,#009bff,#009eff,#00a3ff,#00abff,#00b4ff,#00beff,#00c9ff,#00d4ff,#00dfff,#00e6ff,#00e8ff,#00e5ff,#00ddff,#00d3ff,#00caff,#00c1ff,#00b9ff,#00afff,#00a4ff,#009aff,#0093ff,#0090ff)"></i><i style="background:linear-gradient(90deg,#00a6ff,#00a8ff,#00abff,#00b1ff,#00b8ff,#00c1ff,#00cbff,#00d5ff,#00e0ff,#00eaff,#00f1ff,#00f3ff,#00f0ff,#00e9ff,#00e0ff,#00d7ff,#00d0ff,#00c7ff,#00bdff,#00b2ff,#00a7ff,#00a0ff,#009cff)"></i><i style="background:linear-gradient(90deg,#00b6ff,#00b8ff,#00bbff,#00c1ff,#00c9ff,#00d2ff,#00dcff,#00e6ff,#00f1ff,#00faff,#01fffe,#03fffc,#00ffff,#00f9ff,#00f1ff,#00e9ff,#00e2ff,#00d9ff,#00ceff,#00c2ff,#00b7ff,#00afff,#00abff)"></i><i style="background:linear-gradient(90deg,#00c7ff,#00c9ff,#00cdff,#00d3ff,#00dcff,#00e5ff,#00f0ff,#00fbff,#06fff9,#0ffff0,#15ffea,#17ffe8,#14ffeb,#0efff1,#07fff8,#00feff,#00f6ff,#00edff,#00e2ff,#00d4ff,#00c8ff,#00c0ff,#00bbff)"></i><i style="background:linear-gradient(90deg,#00d9ff,#00dbff,#00dfff,#00e6ff,#00efff,#00faff,#07fff8,#13ffec,#1effe1,#28ffd7,#2effd1,#30ffcf,#2dffd2,#27ffd8,#1fffe0,#16ffe9,#0efff1,#04fffb,#00f6ff,#00e8ff,#00daff,#00d1ff,#00ccff)"></i><i style="background:linear-gradient(90deg,#00ebff,#00eeff,#00f2ff,#00f9ff,#05fffa,#10ffef,#1dffe2,#2bffd4,#38ffc7,#43ffbc,#49ffb6,#4bffb4,#49ffb6,#42ffbd,#39ffc6,#2fffd0,#25ffda,#1affe5,#0cfff3,#00fbff,#00edff,#00e3ff,#00deff)"></i><i style="background:linear-gradient(90deg,#01fffe,#03fffc,#08fff7,#10ffef,#1bffe4,#28ffd7,#36ffc9,#44ffbb,#52ffad,#5effa1,#66ff99,#69ff96,#65ff9a,#5effa1,#53ffac,#48ffb7,#3effc1,#33ffcc,#23ffdc,#12ffed,#03fffc,#00f7ff,#00f1ff)"></i><i style="background:linear-gradient(90deg,#17ffe8,#1affe5,#1fffe0,#28ffd7,#33ffcc,#41ffbe,#50ffaf,#60ff9f,#6fff90,#7cff83,#84ff7b,#87ff78,#83ff7c,#7bff84,#70ff8f,#65ff9a,#5affa5,#4dffb2,#3dffc2,#2affd5,#19ffe6,#0efff1,#07fff8)"></i><i style="background:linear-gradient(90deg,#2effd1,#31ffce,#37ffc8,#40ffbf,#4dffb2,#5cffa3,#6dff92,#7eff81,#8eff71,#9cff63,#a5ff5a,#a8ff57,#a4ff5b,#9bff64,#8fff70,#83ff7c,#77ff88,#69ff96,#57ffa8,#43ffbc,#31ffce,#24ffdb,#1dffe2)"></i><i style="background:linear-gradient(90deg,#46ffb9,#49ffb6,#4fffb0,#5affa5,#67ff98,#78ff87,#8aff75,#9dff62,#afff50,#bfff40,#c9ff36,#ccff33,#c8ff37,#beff41,#b1ff4e,#a3ff5c,#95ff6a,#86ff79,#72ff8d,#5cffa3,#49ffb6,#3cffc3,#34ffcb)"></i><i style="background:linear-gradient(90deg,#60ff9f,#63ff9c,#6aff95,#75ff8a,#84ff7b,#96ff69,#a9ff56,#beff41,#d2ff2d,#e3ff1c,#eeff11,#f2ff0d,#edff12,#e2ff1d,#d3ff2c,#c4ff3b,#b5ff4a,#a5ff5a,#90ff6f,#78ff87,#63ff9c,#55ffaa,#4cffb3)"></i><i style="background:linear-gradient(90deg,#7aff85,#7eff81,#85ff7a,#91ff6e,#a1ff5e,#b5ff4a,#caff35,#e1ff1e,#f6ff09,#fff500,#ffe900,#ffe500,#ffea00,#fff600,#f8ff07,#e7ff18,#d7ff28,#c5ff3a,#aeff51,#94ff6b,#7eff81,#6eff91,#65ff9a)"></i><i style="background:linear-gradient(90deg,#95ff6a,#99ff66,#a0ff5f,#adff52,#bfff40,#d4ff2b,#ebff14,#fffa00,#ffe100,#ffcd00,#ffbf00,#ffbb00,#ffc000,#ffce00,#ffe000,#fff200,#f9ff06,#e5ff1a,#ccff33,#b1ff4e,#99ff66,#88ff77,#7fff80)"></i><i style="background:linear-gradient(90deg,#b1ff4e,#b5ff4a,#bdff42,#cbff34,#deff21,#f5ff0a,#fff000,#ffd500,#ffbb00,#ffa400,#ff9500,#ff9000,#ff9600,#ffa500,#ffb900,#ffce00,#ffe100,#fff700,#edff12,#cfff30,#b5ff4a,#a3ff5c,#99ff66)"></i><i style="background:linear-gradient(90deg,#c9ff36,#cdff32,#d6ff29,#e5ff1a,#fbff04,#ffe900,#ffcd00,#ffaf00,#ff9200,#ff7a00,#ff6a00,#ff6400,#ff6b00,#ff7b00,#ff9000,#ffa700,#ffbd00,#ffd600,#fff400,#e9ff16,#cdff32,#baff45,#afff50)"></i><i style="background:linear-gradient(90deg,#d9ff26,#deff21,#e7ff18,#f8ff07,#ffef00,#ffd300,#ffb100,#ff8d00,#ff6a00,#ff4e00,#ff3c00,#ff3600,#ff3d00,#ff4f00,#ff6900,#ff8400,#ffa000,#ffbe00,#ffe000,#fcff03,#deff21,#caff35,#bfff40)"></i><i style="background:linear-gradient(90deg,#e8ff17,#ecff13,#f6ff09,#fff700,#ffde00,#ffc000,#ff9d00,#ff7500,#ff4d00,#ff2a00,#ff1300,#ff0c00,#ff1500,#ff2c00,#ff4b00,#ff6d00,#ff8c00,#ffab00,#ffce00,#fff200,#edff12,#d8ff27,#ccff33)"></i><i style="background:linear-gradient(90deg,#f5ff0a,#f9ff06,#fffa00,#ffe800,#ffcf00,#ffb000,#ff8b00,#ff6100,#ff3600,#ff1100,#f60000,#ee0000,#f80000,#ff1200,#ff3400,#ff5800,#ff7900,#ff9a00,#ffbf00,#ffe400,#faff05,#e5ff1a,#d9ff26)"></i><i style="background:linear-gradient(90deg,#ffff00,#fffa00,#ffef00,#ffdd00,#ffc300,#ffa200,#ff7b00,#ff4f00,#ff2200,#f90000,#de0000,#d50000,#df0000,#fa0000,#ff2000,#ff4500,#ff6900,#ff8c00,#ffb200,#ffd800,#fff900,#efff10,#e3ff1c)"></i><i style="background:linear-gradient(90deg,#fff700,#fff100,#ffe600,#ffd300,#ffb800,#ff9600,#ff6e00,#ff4000,#ff1000,#e50000,#c80000,#be0000,#ca0000,#e60000,#ff0e00,#ff3600,#ff5b00,#ff8000,#ffa700,#ffcf00,#fff000,#f7ff08,#eaff15)"></i><i style="background:linear-gradient(90deg,#fff100,#ffec00,#ffe000,#ffcd00,#ffb100,#ff8e00,#ff6400,#ff3400,#ff0200,#d40000,#b60000,#ac0000,#b70000,#d60000,#ff0000,#ff2a00,#ff5100,#ff7700,#ffa000,#ffc800,#ffeb00,#fcff03,#f0ff0f)"></i><i style="background:linear-gradient(90deg,#ffec00,#ffe700,#ffdc00,#ffc800,#ffac00,#ff8800,#ff5d00,#ff2b00,#f60000,#c80000,#a70000,#9d0000,#a90000,#c90000,#f40000,#ff2100,#ff4a00,#ff7100,#ff9a00,#ffc300,#ffe600,#fffd00,#f4ff0b)"></i><i style="background:linear-gradient(90deg,#ffe900,#ffe300,#ffd800,#ffc400,#ffa700,#ff8300,#ff5700,#ff2500,#ef0000,#bf0000,#9d0000,#920000,#9f0000,#c00000,#ed0000,#ff1b00,#ff4400,#ff6c00,#ff9600,#ffbf00,#ffe200,#fffa00,#f7ff08)"></i><i style="background:linear-gradient(90deg,#ffe700,#ffe200,#ffd600,#ffc200,#ffa500,#ff8000,#ff5300,#ff1f00,#e80000,#b80000,#950000,#8a0000,#970000,#b90000,#e60000,#ff1500,#ff4000,#ff6800,#ff9300,#ffbd00,#ffe000,#fff800,#f9ff06)"></i><i style="background:linear-gradient(90deg,#ffe800,#ffe300,#ffd700,#ffc300,#ffa500,#ff7f00,#ff5100,#ff1d00,#e40000,#b20000,#8f0000,#830000,#910000,#b40000,#e20000,#ff1200,#ff3e00,#ff6800,#ff9300,#ffbe00,#ffe100,#fff900,#f8ff07)"></i><i style="background:linear-gradient(90deg,#ffeb00,#ffe500,#ffd900,#ffc500,#ffa800,#ff8100,#ff5300,#ff1d00,#e30000,#b00000,#8c0000,#800000,#8d0000,#b10000,#e10000,#ff1300,#ff4000,#ff6a00,#ff9600,#ffc000,#ffe400,#fffb00,#f5ff0a)"></i><i style="background:linear-gradient(90deg,#ffef00,#ffe900,#ffde00,#ffc900,#ffac00,#ff8500,#ff5700,#ff2000,#e60000,#b10000,#8c0000,#800000,#8e0000,#b20000,#e30000,#ff1600,#ff4300,#ff6e00,#ff9a00,#ffc500,#ffe800,#ffff00,#f2ff0d)"></i><i style="background:linear-gradient(90deg,#fff400,#ffef00,#ffe300,#ffcf00,#ffb100,#ff8b00,#ff5c00,#ff2500,#ea0000,#b50000,#8f0000,#820000,#910000,#b60000,#e80000,#ff1b00,#ff4900,#ff7400,#ffa000,#ffca00,#ffed00,#faff05,#edff12)"></i><i style="background:linear-gradient(90deg,#fffc00,#fff700,#ffeb00,#ffd600,#ffb900,#ff9200,#ff6200,#ff2c00,#f00000,#bb0000,#950000,#880000,#960000,#bc0000,#ee0000,#ff2200,#ff5000,#ff7b00,#ffa700,#ffd200,#fff500,#f2ff0d,#e5ff1a)"></i><i style="background:linear-gradient(90deg,#f3ff0c,#f8ff07,#fffa00,#ffe600,#ffc700,#ffa000,#ff6e00,#ff3500,#f80000,#c20000,#9c0000,#8f0000,#9d0000,#c30000,#f50000,#ff2b00,#ff5b00,#ff8900,#ffb600,#ffe100,#faff05,#e3ff1c,#d6ff29)"></i><i style="background:linear-gradient(90deg,#dfff20,#e4ff1b,#f0ff0f,#fffa00,#ffdc00,#ffb400,#ff8200,#ff4700,#ff0700,#cd0000,#a50000,#970000,#a60000,#cd0000,#ff0400,#ff3d00,#ff7000,#ff9e00,#ffcb00,#fff600,#e7ff18,#d0ff2f,#c4ff3b)"></i><i style="background:linear-gradient(90deg,#caff35,#cfff30,#daff25,#eeff11,#fff300,#ffcd00,#ff9b00,#ff6000,#ff1f00,#e10000,#b60000,#a70000,#b60000,#e10000,#ff1b00,#ff5500,#ff8900,#ffb800,#ffe300,#f2ff0d,#d1ff2e,#bcff43,#b0ff4f)"></i><i style="background:linear-gradient(90deg,#b3ff4c,#b8ff47,#c3ff3c,#d6ff29,#f2ff0d,#ffe600,#ffb600,#ff7c00,#ff3b00,#fc0000,#cf0000,#bf0000,#d00000,#fb0000,#ff3700,#ff7100,#ffa400,#ffd200,#fffc00,#daff25,#baff45,#a6ff59,#9aff65)"></i><i style="background:linear-gradient(90deg,#98ff67,#9dff62,#a7ff58,#b9ff46,#d5ff2a,#faff05,#ffd400,#ff9900,#ff5900,#ff1c00,#ee0000,#dd0000,#ed0000,#ff1b00,#ff5500,#ff8f00,#ffc300,#fff000,#e3ff1c,#bdff42,#9fff60,#8bff74,#80ff7f)"></i><i style="background:linear-gradient(90deg,#7bff84,#80ff7f,#8aff75,#9bff64,#b5ff4a,#d9ff26,#fff600,#ffbc00,#ff7a00,#ff3c00,#ff0e00,#fd0000,#ff0e00,#ff3a00,#ff7500,#ffb100,#ffe600,#ebff14,#c3ff3c,#9fff60,#82ff7d,#70ff8f,#66ff99)"></i><i style="background:linear-gradient(90deg,#61ff9e,#65ff9a,#6eff91,#7fff80,#97ff68,#b9ff46,#e5ff1a,#ffe200,#ffa100,#ff6200,#ff3200,#ff2000,#ff3100,#ff5e00,#ff9b00,#ffd800,#f4ff0b,#caff35,#a4ff5b,#82ff7d,#67ff98,#56ffa9,#4cffb3)"></i><i style="background:linear-gradient(90deg,#46ffb9,#4affb5,#53ffac,#62ff9d,#79ff86,#99ff66,#c3ff3c,#f8ff07,#ffc900,#ff8b00,#ff5b00,#ff4900,#ff5900,#ff8700,#ffc300,#fffc00,#d2ff2d,#a9ff56,#85ff7a,#65ff9a,#4cffb3,#3cffc3,#33ffcc)"></i><i style="background:linear-gradient(90deg,#2bffd4,#2fffd0,#37ffc8,#46ffb9,#5cffa3,#7aff85,#a2ff5d,#d4ff2b,#ffef00,#ffb300,#ff8500,#ff7300,#ff8300,#ffaf00,#ffe800,#deff21,#b0ff4f,#89ff76,#67ff98,#49ffb6,#31ffce,#22ffdd,#1affe5)"></i><i style="background:linear-gradient(90deg,#11ffee,#14ffeb,#1cffe3,#2affd5,#3effc1,#5affa5,#80ff7f,#b1ff4e,#eaff15,#ffda00,#ffad00,#ff9c00,#ffab00,#ffd600,#f0ff0f,#baff45,#8dff72,#68ff97,#48ffb7,#2cffd3,#16ffe9,#08fff7,#01fffe)"></i><i style="background:linear-gradient(90deg,#00f6ff,#00f9ff,#01fffe,#0efff1,#21ffde,#3bffc4,#5fffa0,#8dff72,#c4ff3b,#fdff02,#ffd500,#ffc400,#ffd200,#fffc00,#cbff34,#96ff69,#6bff94,#48ffb7,#2affd5,#10ffef,#00fbff,#00eeff,#00e7ff)"></i><i style="background:linear-gradient(90deg,#00daff,#00ddff,#00e4ff,#00f0ff,#03fffc,#1cffe3,#3effc1,#6aff95,#9fff60,#d6ff29,#fffd00,#ffec00,#fffa00,#dbff24,#a6ff59,#73ff8c,#4affb5,#28ffd7,#0cfff3,#00f2ff,#00dfff,#00d3ff,#00cdff)"></i><i style="background:linear-gradient(90deg,#00bcff,#00bfff,#00c5ff,#00d0ff,#00e1ff,#00faff,#1cffe3,#47ffb8,#7aff85,#afff50,#d9ff26,#ebff14,#ddff22,#b5ff4a,#81ff7e,#50ffaf,#27ffd8,#06fff9,#00e9ff,#00d2ff,#00c1ff,#00b6ff,#00b0ff)"></i><i style="background:linear-gradient(90deg,#009bff,#009eff,#00a3ff,#00adff,#00bdff,#00d4ff,#00f4ff,#20ffdf,#54ffab,#88ff77,#b2ff4d,#c3ff3c,#b6ff49,#8fff70,#5cffa3,#2affd5,#00feff,#00deff,#00c4ff,#00afff,#00a0ff,#0096ff,#0091ff)"></i><i style="background:linear-gradient(90deg,#0080ff,#0082ff,#0087ff,#008fff,#009cff,#00afff,#00cbff,#00f4ff,#2affd5,#60ff9f,#8aff75,#9cff63,#8eff71,#67ff98,#33ffcc,#00fdff,#00d5ff,#00b8ff,#00a2ff,#0091ff,#0084ff,#007cff,#0077ff)"></i><i style="background:linear-gradient(90deg,#0069ff,#006bff,#006fff,#0076ff,#0082ff,#0092ff,#00aaff,#00cbff,#00faff,#33ffcc,#60ff9f,#72ff8d,#65ff9a,#3cffc3,#05fffa,#00d4ff,#00b2ff,#009aff,#0087ff,#0077ff,#006cff,#0065ff,#0061ff)"></i><i style="background:linear-gradient(90deg,#0054ff,#0056ff,#0059ff,#005fff,#0069ff,#0078ff,#008dff,#00abff,#00d3ff,#03fffc,#2fffd0,#43ffbc,#36ffc9,#0cfff3,#00daff,#00b2ff,#0094ff,#007eff,#006eff,#0061ff,#0057ff,#0051ff,#004dff)"></i><i style="background:linear-gradient(90deg,#0042ff,#0043ff,#0046ff,#004cff,#0054ff,#0061ff,#0073ff,#008dff,#00b1ff,#00dbff,#01fffe,#13ffec,#07fff8,#00e2ff,#00b9ff,#0094ff,#0079ff,#0066ff,#0058ff,#004dff,#0044ff,#003fff,#003cff)"></i><i style="background:linear-gradient(90deg,#0033ff,#0034ff,#0037ff,#003bff,#0043ff,#004dff,#005dff,#0073ff,#0093ff,#00b9ff,#00daff,#00e9ff,#00dfff,#00c0ff,#009aff,#0079ff,#0062ff,#0052ff,#0046ff,#003cff,#0035ff,#0030ff,#002eff)"></i><i style="background:linear-gradient(90deg,#0026ff,#0027ff,#0029ff,#002dff,#0033ff,#003dff,#004aff,#005eff,#0078ff,#009aff,#00b8ff,#00c6ff,#00bdff,#00a0ff,#007fff,#0063ff,#004fff,#0041ff,#0036ff,#002eff,#0027ff,#0023ff,#0021ff)"></i><i style="background:linear-gradient(90deg,#0019ff,#001aff,#001cff,#0020ff,#0025ff,#002eff,#003aff,#004bff,#0062ff,#007fff,#0099ff,#00a6ff,#009eff,#0085ff,#0068ff,#0050ff,#003eff,#0031ff,#0028ff,#0020ff,#001bff,#0017ff,#0015ff)"></i><i style="background:linear-gradient(90deg,#000eff,#000eff,#0010ff,#0013ff,#0018ff,#0020ff,#002aff,#003aff,#004fff,#0068ff,#007fff,#008aff,#0083ff,#006dff,#0054ff,#003eff,#002eff,#0023ff,#001aff,#0014ff,#000fff,#000cff,#000aff)"></i><i style="background:linear-gradient(90deg,#0003ff,#0004ff,#0006ff,#0008ff,#000cff,#0013ff,#001cff,#002aff,#003eff,#0055ff,#0069ff,#0073ff,#006dff,#005aff,#0042ff,#002eff,#0020ff,#0016ff,#000eff,#0009ff,#0005ff,#0002ff,#0001ff)"></i><i style="background:linear-gradient(90deg,#0000fa,#0000fa,#0000fb,#0000fe,#0002ff,#0008ff,#0010ff,#001cff,#002dff,#0042ff,#0055ff,#005eff,#0059ff,#0047ff,#0032ff,#001fff,#0013ff,#000aff,#0004ff,#0000fe,#0000fb,#0000f8,#0000f7)"></i><i style="background:linear-gradient(90deg,#0000f2,#0000f3,#0000f4,#0000f6,#0000f9,#0000fd,#0005ff,#000fff,#001eff,#0031ff,#0043ff,#004bff,#0046ff,#0036ff,#0022ff,#0012ff,#0007ff,#0000ff,#0000fa,#0000f6,#0000f3,#0000f1,#0000f0)"></i><i style="background:linear-gradient(90deg,#0000ec,#0000ed,#0000ee,#0000ef,#0000f2,#0000f6,#0000fb,#0005ff,#0011ff,#0022ff,#0032ff,#003aff,#0035ff,#0026ff,#0015ff,#0007ff,#0000fd,#0000f7,#0000f3,#0000f0,#0000ed,#0000eb,#0000ea)"></i><i style="background:linear-gradient(90deg,#0000e7,#0000e7,#0000e8,#0000e9,#0000ec,#0000ef,#0000f4,#0000fb,#0006ff,#0014ff,#0022ff,#0029ff,#0025ff,#0018ff,#0009ff,#0000fd,#0000f6,#0000f1,#0000ed,#0000ea,#0000e7,#0000e6,#0000e5)"></i><i style="background:linear-gradient(90deg,#0000e2,#0000e2,#0000e3,#0000e4,#0000e6,#0000e9,#0000ed,#0000f4,#0000fd,#0009ff,#0015ff,#001bff,#0017ff,#000cff,#0000ff,#0000f6,#0000ef,#0000ea,#0000e7,#0000e4,#0000e2,#0000e1,#0000e0)"></i><i style="background:linear-gradient(90deg,#0000dd,#0000dd,#0000de,#0000df,#0000e1,#0000e3,#0000e7,#0000ed,#0000f5,#0000ff,#000aff,#000fff,#000cff,#0002ff,#0000f7,#0000ef,#0000e9,#0000e4,#0000e1,#0000df,#0000dd,#0000dc,#0000dc)"></i><i style="background:linear-gradient(90deg,#0000d8,#0000d9,#0000d9,#0000da,#0000dc,#0000de,#0000e1,#0000e7,#0000ee,#0000f7,#0000ff,#0005ff,#0002ff,#0000f9,#0000f0,#0000e8,#0000e3,#0000df,#0000dc,#0000da,#0000d9,#0000d8,#0000d7)"></i><i style="background:linear-gradient(90deg,#0000d4,#0000d5,#0000d5,#0000d6,#0000d7,#0000d9,#0000dc,#0000e1,#0000e7,#0000f0,#0000f7,#0000fb,#0000f9,#0000f2,#0000e9,#0000e2,#0000dd,#0000da,#0000d8,#0000d6,#0000d5,#0000d4,#0000d3)"></i><i style="background:linear-gradient(90deg,#0000d1,#0000d1,#0000d1,#0000d2,#0000d3,#0000d5,#0000d7,#0000db,#0000e1,#0000e9,#0000f0,#0000f3,#0000f1,#0000eb,#0000e3,#0000dd,#0000d8,#0000d6,#0000d4,#0000d2,#0000d1,#0000d0,#0000d0)"></i><i style="background:linear-gradient(90deg,#0000cd,#0000cd,#0000ce,#0000ce,#0000cf,#0000d1,#0000d3,#0000d7,#0000dc,#0000e2,#0000e9,#0000ec,#0000ea,#0000e4,#0000dd,#0000d8,#0000d4,#0000d2,#0000d0,#0000cf,#0000ce,#0000cd,#0000cd)"></i><i style="background:linear-gradient(90deg,#0000ca,#0000ca,#0000cb,#0000cb,#0000cc,#0000cd,#0000cf,#0000d2,#0000d7,#0000dd,#0000e2,#0000e5,#0000e4,#0000de,#0000d8,#0000d3,#0000d0,#0000ce,#0000cc,#0000cb,#0000ca,#0000ca,#0000ca)"></i><i style="background:linear-gradient(90deg,#0000c7,#0000c7,#0000c7,#0000c8,#0000c9,#0000ca,#0000cc,#0000ce,#0000d2,#0000d7,#0000dc,#0000df,#0000de,#0000d9,#0000d3,#0000cf,#0000cc,#0000ca,#0000c9,#0000c8,#0000c7,#0000c7,#0000c7)"></i><i style="background:linear-gradient(90deg,#0000c4,#0000c4,#0000c4,#0000c5,#0000c5,#0000c7,#0000c8,#0000cb,#0000ce,#0000d2,#0000d7,#0000d9,#0000d8,#0000d4,#0000cf,#0000cb,#0000c9,#0000c7,#0000c6,#0000c5,#0000c4,#0000c4,#0000c4)"></i><i style="background:linear-gradient(90deg,#0000c1,#0000c1,#0000c1,#0000c1,#0000c2,#0000c3,#0000c4,#0000c7,#0000ca,#0000ce,#0000d2,#0000d4,#0000d3,#0000cf,#0000cb,#0000c7,#0000c5,#0000c3,#0000c2,#0000c1,#0000c1,#0000c0,#0000c0)"></i><i style="background:linear-gradient(90deg,#0000bd,#0000bd,#0000bd,#0000bd,#0000be,#0000bf,#0000c0,#0000c2,#0000c5,#0000c9,#0000cd,#0000ce,#0000cd,#0000ca,#0000c6,#0000c3,#0000c1,#0000bf,#0000be,#0000be,#0000bd,#0000bd,#0000bd)"></i><i style="background:linear-gradient(90deg,#0000b9,#0000b9,#0000b9,#0000ba,#0000ba,#0000bb,#0000bc,#0000be,#0000c1,#0000c4,#0000c8,#0000c9,#0000c8,#0000c5,#0000c2,#0000be,#0000bc,#0000bb,#0000ba,#0000ba,#0000b9,#0000b9,#0000b9)"></i><i style="background:linear-gradient(90deg,#0000b5,#0000b5,#0000b5,#0000b6,#0000b6,#0000b6,#0000b7,#0000b9,#0000bc,#0000bf,#0000c2,#0000c4,#0000c3,#0000c0,#0000bd,#0000ba,#0000b8,#0000b7,#0000b6,#0000b6,#0000b5,#0000b5,#0000b5)"></i><i style="background:linear-gradient(90deg,#0000b1,#0000b1,#0000b1,#0000b2,#0000b2,#0000b2,#0000b3,#0000b5,#0000b7,#0000ba,#0000bd,#0000bf,#0000be,#0000bb,#0000b8,#0000b5,#0000b3,#0000b2,#0000b2,#0000b2,#0000b1,#0000b1,#0000b1)"></i><i style="background:linear-gradient(90deg,#0000ad,#0000ae,#0000ae,#0000ae,#0000ae,#0000ae,#0000af,#0000b0,#0000b2,#0000b5,#0000b8,#0000b9,#0000b9,#0000b6,#0000b3,#0000b1,#0000af,#0000ae,#0000ae,#0000ae,#0000ae,#0000ad,#0000ad)"></i><i style="background:linear-gradient(90deg,#0000aa,#0000aa,#0000aa,#0000aa,#0000aa,#0000aa,#0000ab,#0000ac,#0000ae,#0000b0,#0000b3,#0000b4,#0000b4,#0000b1,#0000ae,#0000ac,#0000ab,#0000aa,#0000aa,#0000aa,#0000aa,#0000aa,#0000aa)"></i><i style="background:linear-gradient(90deg,#0000a7,#0000a7,#0000a7,#0000a7,#0000a7,#0000a7,#0000a7,#0000a8,#0000a9,#0000ac,#0000ae,#0000af,#0000af,#0000ac,#0000aa,#0000a8,#0000a7,#0000a7,#0000a7,#0000a7,#0000a7,#0000a7,#0000a7)"></i><i style="background:linear-gradient(90deg,#0000a4,#0000a4,#0000a4,#0000a4,#0000a4,#0000a4,#0000a4,#0000a4,#0000a5,#0000a7,#0000a9,#0000ab,#0000aa,#0000a8,#0000a6,#0000a5,#0000a4,#0000a4,#0000a4,#0000a4,#0000a4,#0000a4,#0000a4)"></i><i style="background:linear-gradient(90deg,#0000a1,#0000a1,#0000a1,#0000a1,#0000a1,#0000a1,#0000a1,#0000a1,#0000a2,#0000a3,#0000a5,#0000a6,#0000a6,#0000a4,#0000a2,#0000a1,#0000a1,#0000a1,#0000a1,#0000a1,#0000a1,#0000a1,#0000a1)"></i><i style="background:linear-gradient(90deg,#00009f,#00009f,#00009f,#00009f,#00009f,#00009f,#00009f,#00009f,#00009f,#0000a0,#0000a2,#0000a3,#0000a2,#0000a1,#00009f,#00009f,#00009f,#00009f,#00009f,#00009f,#00009f,#00009f,#00009f)"></i><i style="background:linear-gradient(90deg,#00009d,#00009d,#00009d,#00009d,#00009d,#00009d,#00009d,#00009d,#00009d,#00009d,#00009f,#00009f,#00009f,#00009e,#00009d,#00009d,#00009d,#00009d,#00009d,#00009d,#00009d,#00009d,#00009d)"></i><i style="background:linear-gradient(90deg,#00009b,#00009b,#00009b,#00009b,#00009b,#00009b,#00009b,#00009b,#00009b,#00009b,#00009c,#00009d,#00009c,#00009c,#00009b,#00009b,#00009b,#00009b,#00009b,#00009b,#00009b,#00009b,#00009b)"></i><i style="background:linear-gradient(90deg,#00009a,#00009a,#00009a,#00009a,#00009a,#00009a,#00009a,#00009a,#00009a,#00009a,#00009b,#00009b,#00009b,#00009a,#00009a,#00009a,#00009a,#00009a,#00009a,#00009a,#00009a,#00009a,#00009a)"></i><i style="background:#00009a"></i><i style="background:#000099;height:3px"></i><i style="background:#000098;height:2px"></i><i style="background:#000097;height:3px"></i><i style="background:#000096;height:4px"></i><i style="background:#000095;height:6px"></i><i style="background:#000094;height:8px"></i></div>
<div class="hm" style="left:393.2px"><i style="background:linear-gradient(90deg,#0efff1,#0dfff2,#0dfff2,#0cfff3,#0cfff3,#0cfff3,#0dfff2,#0dfff2,#0efff1,#0ffff0,#11ffee,#12ffed,#13ffec,#13ffec,#12ffed,#11ffee,#0ffff0,#0dfff2,#0afff5,#08fff7,#07fff8,#08fff7,#08fff7)"></i><i style="background:linear-gradient(90deg,#11ffee,#11ffee,#10ffef,#10ffef,#10ffef,#10ffef,#10ffef,#11ffee,#12ffed,#13ffec,#14ffeb,#16ffe9,#17ffe8,#17ffe8,#17ffe8,#15ffea,#13ffec,#10ffef,#0efff1,#0cfff3,#0bfff4,#0bfff4,#0cfff3)"></i><i style="background:linear-gradient(90deg,#15ffea,#15ffea,#14ffeb,#13ffec,#13ffec,#13ffec,#14ffeb,#14ffeb,#15ffea,#17ffe8,#18ffe7,#1affe5,#1bffe4,#1bffe4,#1bffe4,#19ffe6,#17ffe8,#14ffeb,#11ffee,#0ffff0,#0efff1,#0efff1,#0ffff0)"></i><i style="background:linear-gradient(90deg,#19ffe6,#18ffe7,#17ffe8,#17ffe8,#16ffe9,#16ffe9,#17ffe8,#18ffe7,#19ffe6,#1affe5,#1cffe3,#1effe1,#1fffe0,#1fffe0,#1fffe0,#1dffe2,#1affe5,#17ffe8,#14ffeb,#12ffed,#11ffee,#11ffee,#12ffed)"></i><i style="background:linear-gradient(90deg,#1cffe3,#1bffe4,#1affe5,#1affe5,#19ffe6,#19ffe6,#1affe5,#1bffe4,#1cffe3,#1effe1,#20ffdf,#22ffdd,#23ffdc,#23ffdc,#22ffdd,#21ffde,#1effe1,#1bffe4,#17ffe8,#15ffea,#13ffec,#13ffec,#14ffeb)"></i><i style="background:linear-gradient(90deg,#1fffe0,#1effe1,#1dffe2,#1cffe3,#1cffe3,#1cffe3,#1dffe2,#1effe1,#1fffe0,#21ffde,#23ffdc,#25ffda,#26ffd9,#27ffd8,#26ffd9,#24ffdb,#21ffde,#1effe1,#1affe5,#17ffe8,#16ffe9,#16ffe9,#17ffe8)"></i><i style="background:linear-gradient(90deg,#22ffdd,#21ffde,#20ffdf,#1fffe0,#1effe1,#1effe1,#1fffe0,#20ffdf,#22ffdd,#24ffdb,#26ffd9,#28ffd7,#2affd5,#2affd5,#29ffd6,#27ffd8,#24ffdb,#20ffdf,#1cffe3,#19ffe6,#18ffe7,#18ffe7,#19ffe6)"></i><i style="background:linear-gradient(90deg,#24ffdb,#23ffdc,#22ffdd,#21ffde,#20ffdf,#20ffdf,#21ffde,#22ffdd,#24ffdb,#26ffd9,#28ffd7,#2bffd4,#2cffd3,#2dffd2,#2cffd3,#2affd5,#26ffd9,#22ffdd,#1effe1,#1bffe4,#19ffe6,#19ffe6,#1affe5)"></i><i style="background:linear-gradient(90deg,#26ffd9,#25ffda,#24ffdb,#22ffdd,#22ffdd,#22ffdd,#23ffdc,#24ffdb,#26ffd9,#28ffd7,#2bffd4,#2dffd2,#2fffd0,#2fffd0,#2effd1,#2cffd3,#28ffd7,#24ffdb,#20ffdf,#1cffe3,#1bffe4,#1affe5,#1cffe3)"></i><i style="background:linear-gradient(90deg,#28ffd7,#27ffd8,#25ffda,#24ffdb,#23ffdc,#24ffdb,#24ffdb,#26ffd9,#27ffd8,#2affd5,#2dffd2,#30ffcf,#32ffcd,#32ffcd,#31ffce,#2fffd0,#2bffd4,#26ffd9,#21ffde,#1effe1,#1cffe3,#1cffe3,#1dffe2)"></i><i style="background:linear-gradient(90deg,#2bffd4,#29ffd6,#27ffd8,#26ffd9,#25ffda,#25ffda,#26ffd9,#27ffd8,#29ffd6,#2cffd3,#2fffd0,#32ffcd,#34ffcb,#35ffca,#34ffcb,#31ffce,#2dffd2,#28ffd7,#23ffdc,#1fffe0,#1dffe2,#1dffe2,#1effe1)"></i><i style="background:linear-gradient(90deg,#2dffd2,#2bffd4,#29ffd6,#28ffd7,#27ffd8,#27ffd8,#28ffd7,#29ffd6,#2bffd4,#2effd1,#32ffcd,#35ffca,#37ffc8,#38ffc7,#36ffc9,#33ffcc,#2fffd0,#2affd5,#25ffda,#21ffde,#1fffe0,#1effe1,#20ffdf)"></i><i style="background:linear-gradient(90deg,#2fffd0,#2dffd2,#2bffd4,#29ffd6,#28ffd7,#28ffd7,#29ffd6,#2bffd4,#2dffd2,#30ffcf,#34ffcb,#37ffc8,#3affc5,#3affc5,#39ffc6,#36ffc9,#31ffce,#2cffd3,#26ffd9,#22ffdd,#20ffdf,#20ffdf,#21ffde)"></i><i style="background:linear-gradient(90deg,#31ffce,#2fffd0,#2dffd2,#2bffd4,#2affd5,#2affd5,#2bffd4,#2dffd2,#2fffd0,#32ffcd,#36ffc9,#3affc5,#3cffc3,#3dffc2,#3cffc3,#38ffc7,#33ffcc,#2effd1,#28ffd7,#24ffdb,#21ffde,#21ffde,#22ffdd)"></i><i style="background:linear-gradient(90deg,#34ffcb,#32ffcd,#2fffd0,#2dffd2,#2bffd4,#2bffd4,#2cffd3,#2effd1,#31ffce,#34ffcb,#38ffc7,#3cffc3,#3fffc0,#40ffbf,#3effc1,#3bffc4,#36ffc9,#2fffd0,#2affd5,#25ffda,#22ffdd,#22ffdd,#23ffdc)"></i><i style="background:linear-gradient(90deg,#36ffc9,#34ffcb,#31ffce,#2effd1,#2dffd2,#2dffd2,#2effd1,#30ffcf,#33ffcc,#36ffc9,#3bffc4,#3fffc0,#41ffbe,#42ffbd,#41ffbe,#3dffc2,#38ffc7,#31ffce,#2bffd4,#26ffd9,#23ffdc,#23ffdc,#25ffda)"></i><i style="background:linear-gradient(90deg,#38ffc7,#36ffc9,#32ffcd,#30ffcf,#2effd1,#2effd1,#2fffd0,#31ffce,#34ffcb,#38ffc7,#3dffc2,#41ffbe,#44ffbb,#45ffba,#43ffbc,#3fffc0,#3affc5,#33ffcc,#2dffd2,#27ffd8,#25ffda,#24ffdb,#26ffd9)"></i><i style="background:linear-gradient(90deg,#3bffc4,#38ffc7,#34ffcb,#31ffce,#30ffcf,#30ffcf,#31ffce,#33ffcc,#36ffc9,#3affc5,#3fffc0,#43ffbc,#46ffb9,#47ffb8,#46ffb9,#42ffbd,#3cffc3,#35ffca,#2effd1,#29ffd6,#26ffd9,#25ffda,#27ffd8)"></i><i style="background:linear-gradient(90deg,#3dffc2,#3affc5,#36ffc9,#33ffcc,#31ffce,#31ffce,#32ffcd,#34ffcb,#38ffc7,#3cffc3,#41ffbe,#45ffba,#49ffb6,#4affb5,#48ffb7,#44ffbb,#3effc1,#36ffc9,#2fffd0,#2affd5,#27ffd8,#26ffd9,#28ffd7)"></i><i style="background:linear-gradient(90deg,#3fffc0,#3cffc3,#37ffc8,#34ffcb,#32ffcd,#32ffcd,#33ffcc,#36ffc9,#39ffc6,#3effc1,#43ffbc,#47ffb8,#4bffb4,#4cffb3,#4affb5,#46ffb9,#3fffc0,#38ffc7,#31ffce,#2bffd4,#28ffd7,#27ffd8,#29ffd6)"></i><i style="background:linear-gradient(90deg,#41ffbe,#3effc1,#39ffc6,#35ffca,#34ffcb,#33ffcc,#35ffca,#37ffc8,#3affc5,#3fffc0,#44ffbb,#49ffb6,#4dffb2,#4effb1,#4cffb3,#48ffb7,#41ffbe,#39ffc6,#32ffcd,#2cffd3,#29ffd6,#28ffd7,#2affd5)"></i><i style="background:linear-gradient(90deg,#44ffbb,#40ffbf,#3bffc4,#37ffc8,#35ffca,#34ffcb,#36ffc9,#38ffc7,#3cffc3,#41ffbe,#46ffb9,#4bffb4,#4fffb0,#50ffaf,#4fffb0,#4affb5,#43ffbc,#3bffc4,#33ffcc,#2dffd2,#2affd5,#29ffd6,#2bffd4)"></i><i style="background:linear-gradient(90deg,#46ffb9,#42ffbd,#3cffc3,#38ffc7,#36ffc9,#35ffca,#37ffc8,#39ffc6,#3dffc2,#42ffbd,#48ffb7,#4dffb2,#51ffae,#52ffad,#50ffaf,#4cffb3,#44ffbb,#3cffc3,#34ffcb,#2effd1,#2bffd4,#2affd5,#2cffd3)"></i><i style="background:linear-gradient(90deg,#48ffb7,#44ffbb,#3effc1,#39ffc6,#37ffc8,#36ffc9,#38ffc7,#3affc5,#3effc1,#43ffbc,#49ffb6,#4fffb0,#53ffac,#54ffab,#52ffad,#4dffb2,#46ffb9,#3effc1,#35ffca,#2fffd0,#2cffd3,#2bffd4,#2cffd3)"></i><i style="background:linear-gradient(90deg,#4affb5,#45ffba,#3fffc0,#3affc5,#38ffc7,#37ffc8,#39ffc6,#3bffc4,#3fffc0,#45ffba,#4bffb4,#50ffaf,#54ffab,#56ffa9,#54ffab,#4fffb0,#47ffb8,#3fffc0,#36ffc9,#30ffcf,#2cffd3,#2cffd3,#2dffd2)"></i><i style="background:linear-gradient(90deg,#4cffb3,#47ffb8,#40ffbf,#3bffc4,#38ffc7,#38ffc7,#39ffc6,#3cffc3,#40ffbf,#46ffb9,#4cffb3,#52ffad,#56ffa9,#57ffa8,#55ffaa,#50ffaf,#49ffb6,#40ffbf,#37ffc8,#31ffce,#2dffd2,#2cffd3,#2effd1)"></i><i style="background:linear-gradient(90deg,#4effb1,#49ffb6,#42ffbd,#3cffc3,#39ffc6,#39ffc6,#3affc5,#3dffc2,#41ffbe,#47ffb8,#4dffb2,#53ffac,#57ffa8,#59ffa6,#57ffa8,#51ffae,#4affb5,#41ffbe,#38ffc7,#31ffce,#2effd1,#2dffd2,#2effd1)"></i><i style="background:linear-gradient(90deg,#50ffaf,#4affb5,#43ffbc,#3dffc2,#3affc5,#39ffc6,#3bffc4,#3dffc2,#42ffbd,#47ffb8,#4effb1,#54ffab,#58ffa7,#5affa5,#58ffa7,#52ffad,#4bffb4,#41ffbe,#39ffc6,#32ffcd,#2effd1,#2dffd2,#2fffd0)"></i><i style="background:linear-gradient(90deg,#51ffae,#4cffb3,#44ffbb,#3effc1,#3affc5,#3affc5,#3bffc4,#3effc1,#42ffbd,#48ffb7,#4fffb0,#55ffaa,#59ffa6,#5bffa4,#59ffa6,#53ffac,#4bffb4,#42ffbd,#39ffc6,#33ffcc,#2fffd0,#2effd1,#2fffd0)"></i><i style="background:linear-gradient(90deg,#53ffac,#4dffb2,#45ffba,#3effc1,#3bffc4,#3affc5,#3bffc4,#3effc1,#43ffbc,#49ffb6,#4fffb0,#56ffa9,#5affa5,#5cffa3,#59ffa6,#54ffab,#4cffb3,#43ffbc,#3affc5,#33ffcc,#2fffd0,#2effd1,#30ffcf)"></i><i style="background:linear-gradient(90deg,#55ffaa,#4effb1,#46ffb9,#3fffc0,#3bffc4,#3affc5,#3cffc3,#3fffc0,#43ffbc,#49ffb6,#50ffaf,#56ffa9,#5bffa4,#5cffa3,#5affa5,#54ffab,#4cffb3,#43ffbc,#3affc5,#33ffcc,#2fffd0,#2fffd0,#30ffcf)"></i><i style="background:linear-gradient(90deg,#56ffa9,#4fffb0,#46ffb9,#3fffc0,#3bffc4,#3bffc4,#3cffc3,#3fffc0,#43ffbc,#49ffb6,#50ffaf,#56ffa9,#5bffa4,#5dffa2,#5affa5,#55ffaa,#4dffb2,#43ffbc,#3bffc4,#34ffcb,#30ffcf,#2fffd0,#30ffcf)"></i><i style="background:linear-gradient(90deg,#57ffa8,#50ffaf,#47ffb8,#3fffc0,#3bffc4,#3bffc4,#3cffc3,#3fffc0,#43ffbc,#49ffb6,#50ffaf,#56ffa9,#5bffa4,#5dffa2,#5bffa4,#55ffaa,#4dffb2,#44ffbb,#3bffc4,#34ffcb,#30ffcf,#2fffd0,#30ffcf)"></i><i style="background:linear-gradient(90deg,#58ffa7,#51ffae,#47ffb8,#40ffbf,#3cffc3,#3bffc4,#3cffc3,#3fffc0,#43ffbc,#49ffb6,#50ffaf,#56ffa9,#5bffa4,#5dffa2,#5bffa4,#55ffaa,#4dffb2,#44ffbb,#3bffc4,#34ffcb,#30ffcf,#2fffd0,#30ffcf)"></i><i style="background:linear-gradient(90deg,#59ffa6,#52ffad,#48ffb7,#40ffbf,#3cffc3,#3bffc4,#3cffc3,#3fffc0,#43ffbc,#49ffb6,#50ffaf,#56ffa9,#5bffa4,#5dffa2,#5affa5,#55ffaa,#4dffb2,#44ffbb,#3bffc4,#34ffcb,#30ffcf,#2fffd0,#31ffce)"></i><i style="background:linear-gradient(90deg,#5affa5,#53ffac,#48ffb7,#40ffbf,#3cffc3,#3bffc4,#3cffc3,#3fffc0,#43ffbc,#49ffb6,#50ffaf,#56ffa9,#5bffa4,#5cffa3,#5affa5,#55ffaa,#4dffb2,#44ffbb,#3bffc4,#34ffcb,#30ffcf,#2fffd0,#31ffce)"></i><i style="background:linear-gradient(90deg,#5bffa4,#53ffac,#49ffb6,#40ffbf,#3cffc3,#3affc5,#3cffc3,#3effc1,#43ffbc,#49ffb6,#4fffb0,#56ffa9,#5affa5,#5cffa3,#5affa5,#54ffab,#4cffb3,#43ffbc,#3bffc4,#34ffcb,#30ffcf,#30ffcf,#31ffce)"></i><i style="background:linear-gradient(90deg,#5cffa3,#54ffab,#49ffb6,#40ffbf,#3cffc3,#3affc5,#3bffc4,#3effc1,#43ffbc,#48ffb7,#4fffb0,#55ffaa,#5affa5,#5bffa4,#59ffa6,#54ffab,#4cffb3,#43ffbc,#3bffc4,#34ffcb,#31ffce,#30ffcf,#31ffce)"></i><i style="background:linear-gradient(90deg,#5dffa2,#55ffaa,#49ffb6,#40ffbf,#3bffc4,#3affc5,#3bffc4,#3effc1,#42ffbd,#48ffb7,#4fffb0,#55ffaa,#59ffa6,#5bffa4,#59ffa6,#53ffac,#4cffb3,#43ffbc,#3bffc4,#34ffcb,#31ffce,#30ffcf,#31ffce)"></i><i style="background:linear-gradient(90deg,#5dffa2,#55ffaa,#49ffb6,#40ffbf,#3bffc4,#3affc5,#3bffc4,#3effc1,#42ffbd,#48ffb7,#4effb1,#54ffab,#58ffa7,#5affa5,#58ffa7,#53ffac,#4bffb4,#43ffbc,#3bffc4,#34ffcb,#31ffce,#30ffcf,#31ffce)"></i><i style="background:linear-gradient(90deg,#5effa1,#55ffaa,#4affb5,#40ffbf,#3bffc4,#3affc5,#3bffc4,#3effc1,#42ffbd,#47ffb8,#4dffb2,#53ffac,#58ffa7,#59ffa6,#57ffa8,#52ffad,#4bffb4,#42ffbd,#3bffc4,#34ffcb,#31ffce,#30ffcf,#31ffce)"></i><i style="background:linear-gradient(90deg,#5effa1,#55ffaa,#4affb5,#40ffbf,#3bffc4,#3affc5,#3bffc4,#3dffc2,#41ffbe,#47ffb8,#4dffb2,#52ffad,#57ffa8,#58ffa7,#56ffa9,#51ffae,#4affb5,#42ffbd,#3affc5,#34ffcb,#31ffce,#30ffcf,#31ffce)"></i><i style="background:linear-gradient(90deg,#5effa1,#56ffa9,#4affb5,#40ffbf,#3bffc4,#39ffc6,#3affc5,#3dffc2,#41ffbe,#46ffb9,#4cffb3,#52ffad,#56ffa9,#57ffa8,#55ffaa,#51ffae,#49ffb6,#42ffbd,#3affc5,#34ffcb,#31ffce,#30ffcf,#31ffce)"></i><i style="background:linear-gradient(90deg,#5effa1,#56ffa9,#4affb5,#40ffbf,#3bffc4,#39ffc6,#3affc5,#3cffc3,#40ffbf,#45ffba,#4bffb4,#51ffae,#55ffaa,#56ffa9,#54ffab,#50ffaf,#49ffb6,#41ffbe,#3affc5,#34ffcb,#31ffce,#30ffcf,#31ffce)"></i><i style="background:linear-gradient(90deg,#5effa1,#55ffaa,#49ffb6,#40ffbf,#3affc5,#39ffc6,#3affc5,#3cffc3,#40ffbf,#45ffba,#4affb5,#4fffb0,#53ffac,#55ffaa,#53ffac,#4fffb0,#48ffb7,#41ffbe,#3affc5,#34ffcb,#31ffce,#30ffcf,#31ffce)"></i><i style="background:linear-gradient(90deg,#5effa1,#55ffaa,#49ffb6,#3fffc0,#3affc5,#39ffc6,#39ffc6,#3cffc3,#3fffc0,#44ffbb,#49ffb6,#4effb1,#52ffad,#54ffab,#52ffad,#4effb1,#47ffb8,#40ffbf,#39ffc6,#34ffcb,#31ffce,#30ffcf,#31ffce)"></i><i style="background:linear-gradient(90deg,#5effa1,#55ffaa,#49ffb6,#3fffc0,#3affc5,#38ffc7,#39ffc6,#3bffc4,#3fffc0,#43ffbc,#48ffb7,#4dffb2,#51ffae,#52ffad,#51ffae,#4dffb2,#46ffb9,#3fffc0,#39ffc6,#34ffcb,#31ffce,#30ffcf,#31ffce)"></i><i style="background:linear-gradient(90deg,#5dffa2,#54ffab,#48ffb7,#3fffc0,#3affc5,#38ffc7,#39ffc6,#3bffc4,#3effc1,#42ffbd,#47ffb8,#4cffb3,#50ffaf,#51ffae,#50ffaf,#4bffb4,#45ffba,#3fffc0,#39ffc6,#34ffcb,#31ffce,#30ffcf,#31ffce)"></i><i style="background:linear-gradient(90deg,#5cffa3,#54ffab,#48ffb7,#3effc1,#39ffc6,#37ffc8,#38ffc7,#3affc5,#3dffc2,#41ffbe,#46ffb9,#4bffb4,#4effb1,#50ffaf,#4effb1,#4affb5,#44ffbb,#3effc1,#38ffc7,#34ffcb,#31ffce,#30ffcf,#31ffce)"></i><i style="background:linear-gradient(90deg,#5bffa4,#53ffac,#47ffb8,#3effc1,#38ffc7,#37ffc8,#37ffc8,#39ffc6,#3cffc3,#40ffbf,#45ffba,#49ffb6,#4cffb3,#4effb1,#4dffb2,#49ffb6,#43ffbc,#3dffc2,#37ffc8,#33ffcc,#31ffce,#30ffcf,#31ffce)"></i><i style="background:linear-gradient(90deg,#5affa5,#52ffad,#46ffb9,#3dffc2,#38ffc7,#36ffc9,#36ffc9,#38ffc7,#3bffc4,#3fffc0,#43ffbc,#47ffb8,#4bffb4,#4cffb3,#4bffb4,#47ffb8,#42ffbd,#3cffc3,#37ffc8,#32ffcd,#30ffcf,#2fffd0,#30ffcf)"></i><i style="background:linear-gradient(90deg,#58ffa7,#50ffaf,#45ffba,#3cffc3,#37ffc8,#35ffca,#35ffca,#37ffc8,#3affc5,#3dffc2,#41ffbe,#45ffba,#49ffb6,#4affb5,#49ffb6,#45ffba,#40ffbf,#3bffc4,#35ffca,#32ffcd,#2fffd0,#2fffd0,#2fffd0)"></i><i style="background:linear-gradient(90deg,#57ffa8,#4fffb0,#43ffbc,#3affc5,#36ffc9,#34ffcb,#34ffcb,#36ffc9,#38ffc7,#3cffc3,#40ffbf,#43ffbc,#47ffb8,#48ffb7,#47ffb8,#43ffbc,#3effc1,#39ffc6,#34ffcb,#31ffce,#2fffd0,#2effd1,#2fffd0)"></i><i style="background:linear-gradient(90deg,#55ffaa,#4dffb2,#42ffbd,#39ffc6,#34ffcb,#33ffcc,#33ffcc,#35ffca,#37ffc8,#3affc5,#3effc1,#41ffbe,#44ffbb,#46ffb9,#45ffba,#42ffbd,#3dffc2,#38ffc7,#33ffcc,#30ffcf,#2effd1,#2dffd2,#2effd1)"></i><i style="background:linear-gradient(90deg,#52ffad,#4bffb4,#40ffbf,#38ffc7,#33ffcc,#31ffce,#32ffcd,#33ffcc,#35ffca,#38ffc7,#3cffc3,#3fffc0,#42ffbd,#44ffbb,#43ffbc,#3fffc0,#3bffc4,#36ffc9,#32ffcd,#2effd1,#2dffd2,#2cffd3,#2dffd2)"></i><i style="background:linear-gradient(90deg,#50ffaf,#49ffb6,#3effc1,#36ffc9,#32ffcd,#30ffcf,#30ffcf,#32ffcd,#34ffcb,#37ffc8,#3affc5,#3dffc2,#40ffbf,#41ffbe,#41ffbe,#3dffc2,#39ffc6,#34ffcb,#30ffcf,#2dffd2,#2cffd3,#2bffd4,#2cffd3)"></i><i style="background:linear-gradient(90deg,#4effb1,#46ffb9,#3dffc2,#34ffcb,#30ffcf,#2fffd0,#2fffd0,#30ffcf,#32ffcd,#35ffca,#38ffc7,#3bffc4,#3effc1,#3fffc0,#3effc1,#3bffc4,#37ffc8,#33ffcc,#2fffd0,#2cffd3,#2affd5,#2affd5,#2affd5)"></i><i style="background:linear-gradient(90deg,#4bffb4,#44ffbb,#3bffc4,#33ffcc,#2effd1,#2dffd2,#2dffd2,#2effd1,#30ffcf,#33ffcc,#36ffc9,#39ffc6,#3bffc4,#3dffc2,#3cffc3,#39ffc6,#35ffca,#31ffce,#2dffd2,#2affd5,#29ffd6,#29ffd6,#29ffd6)"></i><i style="background:linear-gradient(90deg,#48ffb7,#42ffbd,#38ffc7,#31ffce,#2dffd2,#2bffd4,#2cffd3,#2dffd2,#2effd1,#31ffce,#33ffcc,#36ffc9,#39ffc6,#3bffc4,#3affc5,#37ffc8,#33ffcc,#2fffd0,#2bffd4,#29ffd6,#28ffd7,#27ffd8,#28ffd7)"></i><i style="background:linear-gradient(90deg,#46ffb9,#3fffc0,#36ffc9,#2fffd0,#2bffd4,#2affd5,#2affd5,#2bffd4,#2dffd2,#2fffd0,#31ffce,#34ffcb,#37ffc8,#38ffc7,#38ffc7,#35ffca,#31ffce,#2dffd2,#2affd5,#27ffd8,#26ffd9,#26ffd9,#26ffd9)"></i><i style="background:linear-gradient(90deg,#43ffbc,#3dffc2,#34ffcb,#2dffd2,#29ffd6,#28ffd7,#28ffd7,#29ffd6,#2bffd4,#2dffd2,#2fffd0,#32ffcd,#34ffcb,#36ffc9,#36ffc9,#33ffcc,#2fffd0,#2bffd4,#28ffd7,#26ffd9,#25ffda,#25ffda,#25ffda)"></i><i style="background:linear-gradient(90deg,#40ffbf,#3affc5,#32ffcd,#2bffd4,#28ffd7,#26ffd9,#27ffd8,#27ffd8,#29ffd6,#2bffd4,#2dffd2,#2fffd0,#32ffcd,#34ffcb,#34ffcb,#31ffce,#2dffd2,#29ffd6,#26ffd9,#24ffdb,#23ffdc,#23ffdc,#24ffdb)"></i><i style="background:linear-gradient(90deg,#3dffc2,#38ffc7,#30ffcf,#29ffd6,#26ffd9,#25ffda,#25ffda,#26ffd9,#27ffd8,#29ffd6,#2bffd4,#2dffd2,#30ffcf,#32ffcd,#32ffcd,#2fffd0,#2bffd4,#27ffd8,#24ffdb,#23ffdc,#22ffdd,#22ffdd,#22ffdd)"></i><i style="background:linear-gradient(90deg,#3affc5,#35ffca,#2dffd2,#27ffd8,#24ffdb,#23ffdc,#23ffdc,#24ffdb,#25ffda,#27ffd8,#29ffd6,#2bffd4,#2dffd2,#2fffd0,#2fffd0,#2cffd3,#28ffd7,#25ffda,#22ffdd,#21ffde,#20ffdf,#20ffdf,#20ffdf)"></i><i style="background:linear-gradient(90deg,#37ffc8,#32ffcd,#2bffd4,#25ffda,#22ffdd,#20ffdf,#20ffdf,#21ffde,#23ffdc,#24ffdb,#26ffd9,#28ffd7,#2bffd4,#2dffd2,#2dffd2,#2affd5,#26ffd9,#23ffdc,#20ffdf,#1fffe0,#1effe1,#1effe1,#1effe1)"></i><i style="background:linear-gradient(90deg,#33ffcc,#2effd1,#28ffd7,#22ffdd,#1fffe0,#1effe1,#1effe1,#1fffe0,#20ffdf,#22ffdd,#23ffdc,#25ffda,#28ffd7,#2affd5,#2affd5,#27ffd8,#23ffdc,#20ffdf,#1effe1,#1cffe3,#1bffe4,#1bffe4,#1cffe3)"></i><i style="background:linear-gradient(90deg,#2fffd0,#2bffd4,#25ffda,#1fffe0,#1cffe3,#1bffe4,#1bffe4,#1cffe3,#1dffe2,#1fffe0,#20ffdf,#22ffdd,#25ffda,#28ffd7,#28ffd7,#24ffdb,#20ffdf,#1dffe2,#1bffe4,#1affe5,#19ffe6,#19ffe6,#1affe5)"></i><i style="background:linear-gradient(90deg,#2cffd3,#27ffd8,#21ffde,#1cffe3,#1affe5,#19ffe6,#19ffe6,#19ffe6,#1bffe4,#1cffe3,#1effe1,#20ffdf,#22ffdd,#25ffda,#25ffda,#22ffdd,#1dffe2,#1affe5,#18ffe7,#17ffe8,#16ffe9,#16ffe9,#17ffe8)"></i><i style="background:linear-gradient(90deg,#28ffd7,#24ffdb,#1effe1,#19ffe6,#17ffe8,#16ffe9,#16ffe9,#17ffe8,#18ffe7,#19ffe6,#1bffe4,#1dffe2,#1fffe0,#22ffdd,#22ffdd,#1fffe0,#1bffe4,#17ffe8,#15ffea,#14ffeb,#14ffeb,#14ffeb,#15ffea)"></i><i style="background:linear-gradient(90deg,#24ffdb,#20ffdf,#1bffe4,#16ffe9,#14ffeb,#13ffec,#13ffec,#14ffeb,#15ffea,#16ffe9,#18ffe7,#1affe5,#1dffe2,#1fffe0,#20ffdf,#1cffe3,#18ffe7,#14ffeb,#12ffed,#11ffee,#11ffee,#11ffee,#12ffed)"></i><i style="background:linear-gradient(90deg,#21ffde,#1dffe2,#18ffe7,#14ffeb,#11ffee,#10ffef,#10ffef,#11ffee,#12ffed,#14ffeb,#15ffea,#17ffe8,#1affe5,#1dffe2,#1dffe2,#19ffe6,#15ffea,#12ffed,#10ffef,#0efff1,#0efff1,#0ffff0,#0ffff0)"></i><i style="background:linear-gradient(90deg,#1dffe2,#1affe5,#15ffea,#11ffee,#0efff1,#0dfff2,#0efff1,#0efff1,#10ffef,#11ffee,#12ffed,#14ffeb,#17ffe8,#1affe5,#1bffe4,#17ffe8,#12ffed,#0ffff0,#0dfff2,#0cfff3,#0cfff3,#0cfff3,#0dfff2)"></i><i style="background:linear-gradient(90deg,#1affe5,#16ffe9,#12ffed,#0efff1,#0cfff3,#0bfff4,#0bfff4,#0cfff3,#0dfff2,#0efff1,#10ffef,#12ffed,#15ffea,#18ffe7,#18ffe7,#15ffea,#10ffef,#0cfff3,#0afff5,#09fff6,#09fff6,#09fff6,#0afff5)"></i><i style="background:linear-gradient(90deg,#17ffe8,#14ffeb,#0ffff0,#0cfff3,#09fff6,#09fff6,#09fff6,#0afff5,#0bfff4,#0cfff3,#0efff1,#10ffef,#13ffec,#16ffe9,#16ffe9,#12ffed,#0dfff2,#0afff5,#08fff7,#07fff8,#07fff8,#07fff8,#08fff7)"></i><i style="background:linear-gradient(90deg,#14ffeb,#11ffee,#0dfff2,#09fff6,#07fff8,#06fff9,#07fff8,#07fff8,#09fff6,#0afff5,#0cfff3,#0efff1,#11ffee,#14ffeb,#15ffea,#11ffee,#0bfff4,#08fff7,#06fff9,#05fffa,#04fffb,#05fffa,#06fff9)"></i><i style="background:linear-gradient(90deg,#12ffed,#0efff1,#0afff5,#07fff8,#05fffa,#04fffb,#04fffb,#05fffa,#07fff8,#08fff7,#0afff5,#0cfff3,#0ffff0,#13ffec,#13ffec,#0ffff0,#09fff6,#06fff9,#04fffb,#03fffc,#02fffd,#03fffc,#04fffb)"></i><i style="background:linear-gradient(90deg,#0ffff0,#0cfff3,#08fff7,#05fffa,#03fffc,#02fffd,#03fffc,#03fffc,#05fffa,#06fff9,#08fff7,#0afff5,#0efff1,#11ffee,#12ffed,#0dfff2,#08fff7,#04fffb,#01fffe,#00ffff,#00ffff,#01fffe,#03fffc)"></i><i style="background:linear-gradient(90deg,#0dfff2,#0afff5,#06fff9,#03fffc,#01fffe,#00ffff,#01fffe,#02fffd,#03fffc,#05fffa,#06fff9,#09fff6,#0cfff3,#10ffef,#10ffef,#0cfff3,#06fff9,#02fffd,#00feff,#00fdff,#00fdff,#00feff,#01fffe)"></i><i style="background:linear-gradient(90deg,#0bfff4,#08fff7,#04fffb,#01fffe,#00feff,#00fdff,#00feff,#00ffff,#01fffe,#03fffc,#05fffa,#07fff8,#0bfff4,#0ffff0,#0ffff0,#0afff5,#04fffb,#00ffff,#00fcff,#00fbff,#00fcff,#00fdff,#00feff)"></i><i style="background:linear-gradient(90deg,#09fff6,#06fff9,#02fffd,#00feff,#00fcff,#00fbff,#00fcff,#00fdff,#00ffff,#01fffe,#03fffc,#06fff9,#09fff6,#0dfff2,#0efff1,#09fff6,#02fffd,#00fdff,#00faff,#00f9ff,#00faff,#00fbff,#00fcff)"></i><i style="background:linear-gradient(90deg,#06fff9,#04fffb,#00ffff,#00fcff,#00faff,#00f9ff,#00faff,#00fbff,#00fdff,#00ffff,#02fffd,#04fffb,#08fff7,#0cfff3,#0cfff3,#07fff8,#01fffe,#00fbff,#00f8ff,#00f7ff,#00f8ff,#00f9ff,#00fbff)"></i><i style="background:linear-gradient(90deg,#04fffb,#02fffd,#00fdff,#00faff,#00f8ff,#00f7ff,#00f8ff,#00f9ff,#00fbff,#00fdff,#00ffff,#03fffc,#07fff8,#0bfff4,#0bfff4,#06fff9,#00feff,#00f9ff,#00f6ff,#00f5ff,#00f5ff,#00f7ff,#00f9ff)"></i><i style="background:linear-gradient(90deg,#02fffd,#00ffff,#00fbff,#00f8ff,#00f6ff,#00f5ff,#00f6ff,#00f7ff,#00f9ff,#00fbff,#00fdff,#01fffe,#05fffa,#09fff6,#0afff5,#04fffb,#00fcff,#00f7ff,#00f4ff,#00f3ff,#00f3ff,#00f5ff,#00f7ff)"></i><i style="background:linear-gradient(90deg,#00ffff,#00fcff,#00f9ff,#00f6ff,#00f4ff,#00f3ff,#00f3ff,#00f5ff,#00f7ff,#00faff,#00fcff,#00ffff,#04fffb,#08fff7,#08fff7,#02fffd,#00faff,#00f5ff,#00f2ff,#00f1ff,#00f1ff,#00f3ff,#00f5ff)"></i><i style="background:linear-gradient(90deg,#00fdff,#00faff,#00f7ff,#00f4ff,#00f1ff,#00f1ff,#00f1ff,#00f3ff,#00f5ff,#00f8ff,#00faff,#00fdff,#02fffd,#07fff8,#06fff9,#01fffe,#00f8ff,#00f3ff,#00f0ff,#00efff,#00efff,#00f0ff,#00f3ff)"></i><i style="background:linear-gradient(90deg,#00fbff,#00f8ff,#00f4ff,#00f1ff,#00efff,#00eeff,#00efff,#00f1ff,#00f3ff,#00f6ff,#00f8ff,#00fbff,#00ffff,#05fffa,#05fffa,#00feff,#00f6ff,#00f0ff,#00edff,#00ecff,#00ecff,#00eeff,#00f1ff)"></i><i style="background:linear-gradient(90deg,#00f9ff,#00f6ff,#00f2ff,#00efff,#00edff,#00ecff,#00ecff,#00eeff,#00f1ff,#00f4ff,#00f6ff,#00f9ff,#00feff,#03fffc,#03fffc,#00fcff,#00f4ff,#00eeff,#00ebff,#00eaff,#00eaff,#00ecff,#00efff)"></i><i style="background:linear-gradient(90deg,#00f7ff,#00f4ff,#00f0ff,#00ecff,#00eaff,#00e9ff,#00eaff,#00ecff,#00efff,#00f2ff,#00f5ff,#00f8ff,#00fcff,#01fffe,#01fffe,#00faff,#00f2ff,#00ecff,#00e8ff,#00e7ff,#00e7ff,#00e9ff,#00ecff)"></i><i style="background:linear-gradient(90deg,#00f5ff,#00f1ff,#00edff,#00eaff,#00e7ff,#00e7ff,#00e7ff,#00eaff,#00edff,#00f0ff,#00f3ff,#00f6ff,#00faff,#00ffff,#00feff,#00f8ff,#00efff,#00e9ff,#00e6ff,#00e4ff,#00e5ff,#00e7ff,#00eaff)"></i><i style="background:linear-gradient(90deg,#00f2ff,#00efff,#00ebff,#00e8ff,#00e5ff,#00e4ff,#00e5ff,#00e7ff,#00eaff,#00eeff,#00f1ff,#00f4ff,#00f9ff,#00fdff,#00fdff,#00f6ff,#00edff,#00e7ff,#00e3ff,#00e2ff,#00e2ff,#00e4ff,#00e8ff)"></i><i style="background:linear-gradient(90deg,#00f0ff,#00edff,#00e9ff,#00e5ff,#00e2ff,#00e1ff,#00e2ff,#00e5ff,#00e8ff,#00ecff,#00efff,#00f2ff,#00f7ff,#00fbff,#00fbff,#00f4ff,#00ebff,#00e5ff,#00e1ff,#00dfff,#00e0ff,#00e2ff,#00e6ff)"></i><i style="background:linear-gradient(90deg,#00efff,#00ebff,#00e7ff,#00e3ff,#00e0ff,#00dfff,#00e0ff,#00e2ff,#00e6ff,#00eaff,#00edff,#00f1ff,#00f5ff,#00f9ff,#00f9ff,#00f2ff,#00e9ff,#00e2ff,#00deff,#00ddff,#00ddff,#00e0ff,#00e3ff)"></i><i style="background:linear-gradient(90deg,#00edff,#00e9ff,#00e5ff,#00e0ff,#00deff,#00dcff,#00ddff,#00e0ff,#00e4ff,#00e8ff,#00ebff,#00efff,#00f4ff,#00f8ff,#00f7ff,#00f0ff,#00e7ff,#00e0ff,#00dcff,#00daff,#00dbff,#00ddff,#00e1ff)"></i><i style="background:linear-gradient(90deg,#00ebff,#00e7ff,#00e2ff,#00deff,#00dbff,#00daff,#00dbff,#00deff,#00e2ff,#00e6ff,#00eaff,#00eeff,#00f2ff,#00f6ff,#00f5ff,#00eeff,#00e5ff,#00deff,#00daff,#00d8ff,#00d9ff,#00dbff,#00dfff)"></i><i style="background:linear-gradient(90deg,#00e9ff,#00e5ff,#00e1ff,#00dcff,#00d9ff,#00d8ff,#00d9ff,#00dcff,#00e0ff,#00e4ff,#00e8ff,#00ecff,#00f1ff,#00f5ff,#00f4ff,#00ecff,#00e3ff,#00dcff,#00d8ff,#00d6ff,#00d6ff,#00d9ff,#00deff)"></i><i style="background:linear-gradient(90deg,#00e8ff,#00e4ff,#00dfff,#00daff,#00d7ff,#00d6ff,#00d7ff,#00daff,#00deff,#00e3ff,#00e7ff,#00ebff,#00efff,#00f3ff,#00f2ff,#00ebff,#00e1ff,#00daff,#00d6ff,#00d4ff,#00d4ff,#00d7ff,#00dcff)"></i><i style="background:linear-gradient(90deg,#00e6ff,#00e2ff,#00ddff,#00d8ff,#00d5ff,#00d4ff,#00d5ff,#00d8ff,#00dcff,#00e1ff,#00e5ff,#00e9ff,#00eeff,#00f2ff,#00f0ff,#00e9ff,#00e0ff,#00d8ff,#00d4ff,#00d2ff,#00d2ff,#00d5ff,#00daff)"></i><i style="background:linear-gradient(90deg,#00e5ff,#00e0ff,#00dbff,#00d6ff,#00d3ff,#00d1ff,#00d3ff,#00d6ff,#00dbff,#00e0ff,#00e4ff,#00e8ff,#00ecff,#00f0ff,#00efff,#00e7ff,#00deff,#00d6ff,#00d2ff,#00cfff,#00d0ff,#00d3ff,#00d8ff)"></i><i style="background:linear-gradient(90deg,#00e3ff,#00deff,#00d9ff,#00d4ff,#00d1ff,#00cfff,#00d1ff,#00d4ff,#00d9ff,#00deff,#00e2ff,#00e6ff,#00ebff,#00eeff,#00edff,#00e5ff,#00dcff,#00d4ff,#00d0ff,#00cdff,#00ceff,#00d1ff,#00d6ff)"></i><i style="background:linear-gradient(90deg,#00e2ff,#00ddff,#00d7ff,#00d2ff,#00cfff,#00cdff,#00cfff,#00d2ff,#00d7ff,#00dcff,#00e1ff,#00e5ff,#00e9ff,#00edff,#00ebff,#00e4ff,#00daff,#00d3ff,#00ceff,#00ccff,#00ccff,#00d0ff,#00d5ff)"></i><i style="background:linear-gradient(90deg,#00e0ff,#00dbff,#00d6ff,#00d1ff,#00cdff,#00cbff,#00cdff,#00d1ff,#00d6ff,#00dbff,#00e0ff,#00e4ff,#00e8ff,#00ebff,#00eaff,#00e2ff,#00d9ff,#00d1ff,#00ccff,#00caff,#00cbff,#00ceff,#00d3ff)"></i><i style="background:linear-gradient(90deg,#00dfff,#00daff,#00d5ff,#00cfff,#00cbff,#00caff,#00cbff,#00cfff,#00d4ff,#00daff,#00dfff,#00e3ff,#00e7ff,#00eaff,#00e9ff,#00e1ff,#00d8ff,#00d0ff,#00cbff,#00c8ff,#00c9ff,#00cdff,#00d2ff)"></i><i style="background:linear-gradient(90deg,#00dfff,#00d9ff,#00d3ff,#00ceff,#00caff,#00c9ff,#00caff,#00ceff,#00d3ff,#00d9ff,#00deff,#00e2ff,#00e6ff,#00e9ff,#00e7ff,#00e0ff,#00d6ff,#00cfff,#00caff,#00c7ff,#00c8ff,#00ccff,#00d1ff)"></i><i style="background:linear-gradient(90deg,#00deff,#00d9ff,#00d3ff,#00cdff,#00c9ff,#00c8ff,#00c9ff,#00cdff,#00d3ff,#00d8ff,#00ddff,#00e2ff,#00e6ff,#00e8ff,#00e7ff,#00dfff,#00d6ff,#00ceff,#00c9ff,#00c6ff,#00c7ff,#00cbff,#00d0ff)"></i><i style="background:linear-gradient(90deg,#00deff,#00d8ff,#00d2ff,#00cdff,#00c8ff,#00c7ff,#00c8ff,#00ccff,#00d2ff,#00d8ff,#00ddff,#00e1ff,#00e5ff,#00e8ff,#00e6ff,#00dfff,#00d5ff,#00ceff,#00c8ff,#00c6ff,#00c7ff,#00caff,#00d0ff)"></i><i style="background:linear-gradient(90deg,#00ddff,#00d8ff,#00d2ff,#00ccff,#00c8ff,#00c6ff,#00c8ff,#00ccff,#00d2ff,#00d8ff,#00ddff,#00e1ff,#00e5ff,#00e8ff,#00e5ff,#00deff,#00d5ff,#00cdff,#00c8ff,#00c6ff,#00c6ff,#00caff,#00d0ff)"></i><i style="background:linear-gradient(90deg,#00ddff,#00d8ff,#00d2ff,#00ccff,#00c7ff,#00c6ff,#00c7ff,#00ccff,#00d1ff,#00d8ff,#00ddff,#00e1ff,#00e5ff,#00e7ff,#00e5ff,#00deff,#00d5ff,#00cdff,#00c8ff,#00c5ff,#00c6ff,#00caff,#00d0ff)"></i><i style="background:linear-gradient(90deg,#00ddff,#00d8ff,#00d1ff,#00cbff,#00c7ff,#00c5ff,#00c7ff,#00cbff,#00d1ff,#00d7ff,#00ddff,#00e1ff,#00e5ff,#00e7ff,#00e5ff,#00ddff,#00d4ff,#00cdff,#00c7ff,#00c5ff,#00c6ff,#00caff,#00cfff)"></i><i style="background:linear-gradient(90deg,#00ddff,#00d7ff,#00d1ff,#00cbff,#00c7ff,#00c5ff,#00c7ff,#00cbff,#00d1ff,#00d7ff,#00ddff,#00e1ff,#00e4ff,#00e6ff,#00e4ff,#00ddff,#00d4ff,#00cdff,#00c7ff,#00c5ff,#00c6ff,#00caff,#00cfff);height:2px"></i><i style="background:linear-gradient(90deg,#00ddff,#00d7ff,#00d1ff,#00cbff,#00c6ff,#00c5ff,#00c6ff,#00cbff,#00d1ff,#00d7ff,#00dcff,#00e1ff,#00e4ff,#00e5ff,#00e3ff,#00ddff,#00d4ff,#00cdff,#00c7ff,#00c5ff,#00c6ff,#00caff,#00cfff)"></i><i style="background:linear-gradient(90deg,#00ddff,#00d7ff,#00d1ff,#00cbff,#00c6ff,#00c5ff,#00c6ff,#00cbff,#00d1ff,#00d7ff,#00dcff,#00e1ff,#00e3ff,#00e3ff,#00e1ff,#00dcff,#00d4ff,#00cdff,#00c8ff,#00c5ff,#00c6ff,#00caff,#00d0ff)"></i><i style="background:linear-gradient(90deg,#00ddff,#00d7ff,#00d1ff,#00cbff,#00c7ff,#00c5ff,#00c7ff,#00cbff,#00d1ff,#00d7ff,#00ddff,#00e1ff,#00e1ff,#00dfff,#00deff,#00dcff,#00d4ff,#00cdff,#00c8ff,#00c6ff,#00c6ff,#00caff,#00d0ff)"></i><i style="background:linear-gradient(90deg,#00ddff,#00d7ff,#00d1ff,#00cbff,#00c7ff,#00c5ff,#00c7ff,#00cbff,#00d1ff,#00d7ff,#00ddff,#00e1ff,#00deff,#00d7ff,#00d9ff,#00dcff,#00d4ff,#00cdff,#00c8ff,#00c6ff,#00c7ff,#00caff,#00d0ff)"></i><i style="background:linear-gradient(90deg,#00ddff,#00d8ff,#00d1ff,#00cbff,#00c7ff,#00c5ff,#00c7ff,#00cbff,#00d1ff,#00d7ff,#00ddff,#00e1ff,#00d9ff,#00caff,#00d0ff,#00dbff,#00d4ff,#00ceff,#00c9ff,#00c6ff,#00c7ff,#00cbff,#00d0ff)"></i><i style="background:linear-gradient(90deg,#00ddff,#00d8ff,#00d2ff,#00ccff,#00c7ff,#00c6ff,#00c7ff,#00ccff,#00d1ff,#00d8ff,#00ddff,#00e1ff,#00d2ff,#00bbff,#00c5ff,#00dbff,#00d5ff,#00ceff,#00c9ff,#00c7ff,#00c8ff,#00cbff,#00d1ff)"></i><i style="background:linear-gradient(90deg,#00ddff,#00d8ff,#00d2ff,#00ccff,#00c8ff,#00c6ff,#00c8ff,#00ccff,#00d2ff,#00d8ff,#00ddff,#00e1ff,#00ccff,#00acff,#00baff,#00dbff,#00d5ff,#00cfff,#00caff,#00c8ff,#00c8ff,#00ccff,#00d1ff)"></i><i style="background:linear-gradient(90deg,#00deff,#00d8ff,#00d2ff,#00ccff,#00c8ff,#00c7ff,#00c8ff,#00ccff,#00d2ff,#00d8ff,#00ddff,#00e1ff,#00c7ff,#00a0ff,#00b2ff,#00dbff,#00d5ff,#00cfff,#00caff,#00c8ff,#00c9ff,#00ccff,#00d2ff)"></i><i style="background:linear-gradient(90deg,#00deff,#00d9ff,#00d3ff,#00cdff,#00c9ff,#00c8ff,#00c9ff,#00cdff,#00d3ff,#00d8ff,#00ddff,#00e1ff,#00c4ff,#0098ff,#00adff,#00dbff,#00d6ff,#00d0ff,#00cbff,#00c9ff,#00caff,#00cdff,#00d2ff)"></i><i style="background:linear-gradient(90deg,#00deff,#00d9ff,#00d3ff,#00ceff,#00caff,#00c9ff,#00caff,#00ceff,#00d3ff,#00d9ff,#00deff,#00e1ff,#00c3ff,#0095ff,#00abff,#00dbff,#00d7ff,#00d1ff,#00ccff,#00caff,#00cbff,#00ceff,#00d3ff)"></i><i style="background:linear-gradient(90deg,#00dfff,#00daff,#00d4ff,#00cfff,#00cbff,#00caff,#00cbff,#00cfff,#00d4ff,#00daff,#00deff,#00e2ff,#00c3ff,#0095ff,#00abff,#00dbff,#00d7ff,#00d2ff,#00cdff,#00cbff,#00ccff,#00cfff,#00d4ff)"></i><i style="background:linear-gradient(90deg,#00e0ff,#00dbff,#00d5ff,#00d0ff,#00ccff,#00cbff,#00ccff,#00d0ff,#00d5ff,#00dbff,#00dfff,#00e2ff,#00c4ff,#0096ff,#00abff,#00dcff,#00d8ff,#00d3ff,#00cfff,#00cdff,#00cdff,#00d0ff,#00d5ff)"></i><i style="background:linear-gradient(90deg,#00e0ff,#00dcff,#00d6ff,#00d1ff,#00ceff,#00ccff,#00ceff,#00d1ff,#00d6ff,#00dbff,#00e0ff,#00e3ff,#00c5ff,#0098ff,#00adff,#00ddff,#00d9ff,#00d4ff,#00d0ff,#00ceff,#00cfff,#00d2ff,#00d6ff)"></i><i style="background:linear-gradient(90deg,#00e1ff,#00ddff,#00d8ff,#00d3ff,#00cfff,#00ceff,#00cfff,#00d3ff,#00d8ff,#00ddff,#00e1ff,#00e4ff,#00c8ff,#009eff,#00b2ff,#00deff,#00dbff,#00d6ff,#00d2ff,#00d0ff,#00d1ff,#00d3ff,#00d8ff)"></i><i style="background:linear-gradient(90deg,#00e2ff,#00deff,#00d9ff,#00d4ff,#00d1ff,#00d0ff,#00d1ff,#00d4ff,#00d9ff,#00deff,#00e2ff,#00e5ff,#00cdff,#00a9ff,#00baff,#00dfff,#00dcff,#00d7ff,#00d3ff,#00d2ff,#00d2ff,#00d5ff,#00d9ff)"></i><i style="background:linear-gradient(90deg,#00e3ff,#00dfff,#00daff,#00d6ff,#00d3ff,#00d1ff,#00d3ff,#00d6ff,#00daff,#00dfff,#00e3ff,#00e6ff,#00d4ff,#00b8ff,#00c4ff,#00e1ff,#00ddff,#00d9ff,#00d5ff,#00d4ff,#00d4ff,#00d7ff,#00dbff)"></i><i style="background:linear-gradient(90deg,#00e5ff,#00e1ff,#00dcff,#00d8ff,#00d4ff,#00d3ff,#00d4ff,#00d8ff,#00dcff,#00e0ff,#00e4ff,#00e7ff,#00dbff,#00c8ff,#00d0ff,#00e2ff,#00dfff,#00daff,#00d7ff,#00d6ff,#00d6ff,#00d9ff,#00dcff)"></i><i style="background:linear-gradient(90deg,#00e6ff,#00e2ff,#00deff,#00d9ff,#00d6ff,#00d5ff,#00d6ff,#00d9ff,#00deff,#00e2ff,#00e6ff,#00e8ff,#00e2ff,#00d7ff,#00dbff,#00e4ff,#00e0ff,#00dcff,#00d9ff,#00d8ff,#00d8ff,#00daff,#00deff)"></i><i style="background:linear-gradient(90deg,#00e7ff,#00e4ff,#00dfff,#00dcff,#00d9ff,#00d8ff,#00d9ff,#00dcff,#00dfff,#00e4ff,#00e7ff,#00e9ff,#00e7ff,#00e2ff,#00e3ff,#00e6ff,#00e2ff,#00deff,#00dbff,#00daff,#00daff,#00ddff,#00e0ff)"></i><i style="background:linear-gradient(90deg,#00eaff,#00e6ff,#00e2ff,#00deff,#00dcff,#00dbff,#00dcff,#00deff,#00e2ff,#00e6ff,#00e9ff,#00ecff,#00ecff,#00eaff,#00e9ff,#00e8ff,#00e5ff,#00e1ff,#00deff,#00ddff,#00ddff,#00e0ff,#00e3ff)"></i><i style="background:linear-gradient(90deg,#00edff,#00eaff,#00e6ff,#00e2ff,#00e0ff,#00dfff,#00e0ff,#00e2ff,#00e6ff,#00eaff,#00edff,#00efff,#00f0ff,#00efff,#00eeff,#00ecff,#00e8ff,#00e5ff,#00e2ff,#00e1ff,#00e1ff,#00e3ff,#00e6ff)"></i><i style="background:linear-gradient(90deg,#00f1ff,#00eeff,#00eaff,#00e7ff,#00e4ff,#00e3ff,#00e4ff,#00e7ff,#00eaff,#00eeff,#00f1ff,#00f3ff,#00f4ff,#00f4ff,#00f2ff,#00f0ff,#00ecff,#00e9ff,#00e7ff,#00e6ff,#00e6ff,#00e8ff,#00ebff)"></i><i style="background:linear-gradient(90deg,#00f5ff,#00f2ff,#00efff,#00ecff,#00e9ff,#00e8ff,#00e9ff,#00ecff,#00efff,#00f2ff,#00f5ff,#00f7ff,#00f8ff,#00f8ff,#00f7ff,#00f4ff,#00f1ff,#00eeff,#00ecff,#00ebff,#00ebff,#00edff,#00efff)"></i><i style="background:linear-gradient(90deg,#00faff,#00f7ff,#00f4ff,#00f1ff,#00efff,#00eeff,#00efff,#00f1ff,#00f4ff,#00f7ff,#00f9ff,#00fbff,#00fcff,#00fcff,#00fbff,#00f9ff,#00f6ff,#00f3ff,#00f1ff,#00f0ff,#00f0ff,#00f2ff,#00f4ff)"></i><i style="background:linear-gradient(90deg,#00ffff,#00fcff,#00f9ff,#00f6ff,#00f4ff,#00f4ff,#00f4ff,#00f7ff,#00f9ff,#00fcff,#00ffff,#01fffe,#02fffd,#02fffd,#01fffe,#00feff,#00fbff,#00f9ff,#00f7ff,#00f6ff,#00f6ff,#00f8ff,#00faff)"></i><i style="background:linear-gradient(90deg,#06fff9,#03fffc,#01fffe,#00fdff,#00fbff,#00fbff,#00fbff,#00fdff,#01fffe,#04fffb,#06fff9,#08fff7,#08fff7,#08fff7,#07fff8,#05fffa,#03fffc,#00ffff,#00feff,#00fdff,#00fdff,#00feff,#01fffe)"></i><i style="background:linear-gradient(90deg,#0dfff2,#0bfff4,#08fff7,#06fff9,#04fffb,#03fffc,#04fffb,#06fff9,#08fff7,#0bfff4,#0dfff2,#0ffff0,#0ffff0,#0ffff0,#0efff1,#0dfff2,#0afff5,#08fff7,#06fff9,#05fffa,#06fff9,#07fff8,#09fff6)"></i><i style="background:linear-gradient(90deg,#14ffeb,#12ffed,#10ffef,#0efff1,#0cfff3,#0cfff3,#0dfff2,#0efff1,#11ffee,#13ffec,#15ffea,#16ffe9,#17ffe8,#17ffe8,#16ffe9,#14ffeb,#12ffed,#10ffef,#0efff1,#0efff1,#0efff1,#0ffff0,#11ffee)"></i><i style="background:linear-gradient(90deg,#1cffe3,#1bffe4,#18ffe7,#17ffe8,#15ffea,#15ffea,#15ffea,#17ffe8,#19ffe6,#1bffe4,#1dffe2,#1fffe0,#1fffe0,#1fffe0,#1effe1,#1dffe2,#1bffe4,#19ffe6,#17ffe8,#16ffe9,#16ffe9,#17ffe8,#19ffe6)"></i><i style="background:linear-gradient(90deg,#24ffdb,#23ffdc,#21ffde,#1fffe0,#1effe1,#1effe1,#1fffe0,#20ffdf,#22ffdd,#24ffdb,#26ffd9,#27ffd8,#28ffd7,#28ffd7,#27ffd8,#26ffd9,#24ffdb,#22ffdd,#20ffdf,#1fffe0,#1fffe0,#20ffdf,#22ffdd)"></i><i style="background:linear-gradient(90deg,#2dffd2,#2bffd4,#2affd5,#28ffd7,#27ffd8,#27ffd8,#28ffd7,#29ffd6,#2bffd4,#2dffd2,#2fffd0,#30ffcf,#31ffce,#31ffce,#30ffcf,#2fffd0,#2dffd2,#2bffd4,#29ffd6,#28ffd7,#28ffd7,#29ffd6,#2affd5)"></i><i style="background:linear-gradient(90deg,#36ffc9,#35ffca,#34ffcb,#32ffcd,#32ffcd,#32ffcd,#32ffcd,#34ffcb,#36ffc9,#38ffc7,#39ffc6,#3affc5,#3bffc4,#3bffc4,#3affc5,#39ffc6,#37ffc8,#35ffca,#34ffcb,#33ffcc,#32ffcd,#33ffcc,#34ffcb)"></i><i style="background:linear-gradient(90deg,#40ffbf,#3fffc0,#3effc1,#3dffc2,#3dffc2,#3dffc2,#3effc1,#3fffc0,#41ffbe,#43ffbc,#44ffbb,#45ffba,#46ffb9,#46ffb9,#45ffba,#44ffbb,#42ffbd,#40ffbf,#3fffc0,#3effc1,#3dffc2,#3dffc2,#3effc1)"></i><i style="background:linear-gradient(90deg,#4affb5,#4affb5,#49ffb6,#48ffb7,#48ffb7,#48ffb7,#49ffb6,#4bffb4,#4dffb2,#4effb1,#50ffaf,#51ffae,#51ffae,#51ffae,#50ffaf,#4fffb0,#4dffb2,#4bffb4,#4affb5,#49ffb6,#48ffb7,#48ffb7,#49ffb6)"></i><i style="background:linear-gradient(90deg,#54ffab,#54ffab,#54ffab,#54ffab,#53ffac,#54ffab,#55ffaa,#56ffa9,#58ffa7,#5affa5,#5bffa4,#5cffa3,#5cffa3,#5cffa3,#5cffa3,#5affa5,#59ffa6,#57ffa8,#55ffaa,#54ffab,#53ffac,#53ffac,#53ffac)"></i><i style="background:linear-gradient(90deg,#5effa1,#5effa1,#5effa1,#5effa1,#5effa1,#5fffa0,#60ff9f,#61ff9e,#63ff9c,#65ff9a,#66ff99,#67ff98,#67ff98,#67ff98,#66ff99,#65ff9a,#63ff9c,#62ff9d,#60ff9f,#5fffa0,#5effa1,#5effa1,#5effa1)"></i><i style="background:linear-gradient(90deg,#67ff98,#67ff98,#68ff97,#68ff97,#68ff97,#69ff96,#6aff95,#6bff94,#6dff92,#6eff91,#6fff90,#70ff8f,#70ff8f,#70ff8f,#70ff8f,#6fff90,#6dff92,#6bff94,#6aff95,#68ff97,#68ff97,#67ff98,#67ff98)"></i><i style="background:linear-gradient(90deg,#6fff90,#70ff8f,#70ff8f,#71ff8e,#71ff8e,#72ff8d,#74ff8b,#75ff8a,#77ff88,#79ff86,#7aff85,#7aff85,#7bff84,#7bff84,#7aff85,#79ff86,#77ff88,#75ff8a,#73ff8c,#72ff8d,#71ff8e,#70ff8f,#6fff90)"></i><i style="background:linear-gradient(90deg,#77ff88,#79ff86,#7aff85,#7cff83,#7dff82,#7fff80,#81ff7e,#84ff7b,#86ff79,#88ff77,#89ff76,#8aff75,#8aff75,#8aff75,#8aff75,#88ff77,#85ff7a,#82ff7d,#7fff80,#7dff82,#7bff84,#7aff85,#79ff86)"></i><i style="background:linear-gradient(90deg,#82ff7d,#85ff7a,#89ff76,#8cff73,#8fff70,#92ff6d,#95ff6a,#99ff66,#9cff63,#9dff62,#9fff60,#a0ff5f,#a0ff5f,#a0ff5f,#a0ff5f,#9dff62,#99ff66,#95ff6a,#92ff6d,#8eff71,#8bff74,#88ff77,#86ff79)"></i><i style="background:linear-gradient(90deg,#92ff6d,#97ff68,#9cff63,#a1ff5e,#a5ff5a,#a8ff57,#acff53,#b0ff4f,#b3ff4c,#b5ff4a,#b6ff49,#b7ff48,#b8ff47,#b8ff47,#b7ff48,#b4ff4b,#b0ff4f,#acff53,#a8ff57,#a4ff5b,#a0ff5f,#9cff63,#98ff67)"></i><i style="background:linear-gradient(90deg,#a5ff5a,#acff53,#b1ff4e,#b6ff49,#baff45,#beff41,#c1ff3e,#c5ff3a,#c8ff37,#c9ff36,#cbff34,#ccff33,#ccff33,#ccff33,#cbff34,#c9ff36,#c5ff3a,#c1ff3e,#bdff42,#b9ff46,#b5ff4a,#b1ff4e,#adff52)"></i><i style="background:linear-gradient(90deg,#b9ff46,#bfff40,#c4ff3b,#c9ff36,#ccff33,#d0ff2f,#d3ff2c,#d6ff29,#d9ff26,#dbff24,#dcff23,#ddff22,#ddff22,#ddff22,#ddff22,#daff25,#d7ff28,#d3ff2c,#cfff30,#ccff33,#c8ff37,#c5ff3a,#c1ff3e)"></i><i style="background:linear-gradient(90deg,#caff35,#d0ff2f,#d4ff2b,#d9ff26,#dcff23,#e0ff1f,#e3ff1c,#e7ff18,#e9ff16,#ebff14,#edff12,#eeff11,#eeff11,#eeff11,#eeff11,#ebff14,#e7ff18,#e3ff1c,#e0ff1f,#dcff23,#d9ff26,#d5ff2a,#d2ff2d)"></i><i style="background:linear-gradient(90deg,#d9ff26,#dfff20,#e4ff1b,#e8ff17,#ecff13,#f0ff0f,#f4ff0b,#f8ff07,#fbff04,#fdff02,#ffff00,#fffe00,#fffd00,#fffd00,#fffe00,#fdff02,#f9ff06,#f4ff0b,#f0ff0f,#ecff13,#e9ff16,#e5ff1a,#e2ff1d)"></i><i style="background:linear-gradient(90deg,#e8ff17,#eeff11,#f3ff0c,#f9ff06,#feff01,#fffc00,#fff700,#fff300,#ffef00,#ffed00,#ffeb00,#ffea00,#ffe900,#ffe800,#ffe900,#ffed00,#fff200,#fff700,#fffc00,#feff01,#faff05,#f6ff09,#f2ff0d)"></i><i style="background:linear-gradient(90deg,#f8ff07,#ffff00,#fff800,#fff200,#ffed00,#ffe800,#ffe300,#ffde00,#ffdb00,#ffd800,#ffd600,#ffd400,#ffd300,#ffd200,#ffd300,#ffd700,#ffdd00,#ffe300,#ffe800,#ffec00,#fff100,#fff500,#fff900)"></i><i style="background:linear-gradient(90deg,#fff300,#ffec00,#ffe500,#ffde00,#ffd900,#ffd400,#ffce00,#ffc900,#ffc500,#ffc200,#ffc000,#ffbd00,#ffbc00,#ffbb00,#ffbc00,#ffc100,#ffc700,#ffcd00,#ffd200,#ffd700,#ffdb00,#ffe000,#ffe400)"></i><i style="background:linear-gradient(90deg,#ffdf00,#ffd700,#ffd000,#ffc900,#ffc300,#ffbe00,#ffb800,#ffb300,#ffaf00,#ffac00,#ffa900,#ffa600,#ffa400,#ffa300,#ffa400,#ffa900,#ffb000,#ffb600,#ffbb00,#ffc000,#ffc500,#ffc900,#ffcd00)"></i><i style="background:linear-gradient(90deg,#ffc900,#ffc100,#ffba00,#ffb300,#ffad00,#ffa800,#ffa200,#ff9c00,#ff9800,#ff9400,#ff9100,#ff8e00,#ff8b00,#ff8a00,#ff8b00,#ff9000,#ff9800,#ff9f00,#ffa400,#ffa800,#ffad00,#ffb100,#ffb400)"></i><i style="background:linear-gradient(90deg,#ffb200,#ffaa00,#ffa300,#ff9c00,#ff9600,#ff9100,#ff8b00,#ff8500,#ff8000,#ff7c00,#ff7800,#ff7400,#ff7100,#ff7000,#ff7100,#ff7700,#ff7f00,#ff8600,#ff8b00,#ff9000,#ff9300,#ff9700,#ff9a00)"></i><i style="background:linear-gradient(90deg,#ff9a00,#ff9200,#ff8b00,#ff8400,#ff7e00,#ff7800,#ff7100,#ff6b00,#ff6500,#ff6100,#ff5c00,#ff5700,#ff5300,#ff5100,#ff5300,#ff5900,#ff6200,#ff6b00,#ff7000,#ff7500,#ff7900,#ff7c00,#ff7e00)"></i><i style="background:linear-gradient(90deg,#ff7f00,#ff7700,#ff6f00,#ff6700,#ff6100,#ff5b00,#ff5500,#ff4e00,#ff4800,#ff4300,#ff3e00,#ff3800,#ff3300,#ff3100,#ff3300,#ff3a00,#ff4300,#ff4c00,#ff5100,#ff5600,#ff5900,#ff5c00,#ff5e00)"></i><i style="background:linear-gradient(90deg,#ff6000,#ff5800,#ff5000,#ff4a00,#ff4400,#ff3f00,#ff3900,#ff3300,#ff2d00,#ff2900,#ff2300,#ff1c00,#ff1600,#ff1400,#ff1600,#ff1d00,#ff2600,#ff2e00,#ff3300,#ff3600,#ff3800,#ff3a00,#ff3a00)"></i><i style="background:linear-gradient(90deg,#ff4100,#ff3a00,#ff3500,#ff3000,#ff2c00,#ff2800,#ff2300,#ff1e00,#ff1900,#ff1400,#ff0e00,#ff0600,#fe0000,#fb0000,#fe0000,#ff0500,#ff0e00,#ff1500,#ff1800,#ff1a00,#ff1a00,#ff1a00,#ff1700)"></i><i style="background:linear-gradient(90deg,#ff2800,#ff2400,#ff2100,#ff1e00,#ff1b00,#ff1900,#ff1500,#ff1000,#ff0b00,#ff0600,#fe0000,#f50000,#ed0000,#ea0000,#ec0000,#f30000,#fc0000,#ff0300,#ff0600,#ff0600,#ff0400,#ff0100,#fb0000)"></i><i style="background:linear-gradient(90deg,#ff1800,#ff1500,#ff1300,#ff1100,#ff0f00,#ff0d00,#ff0900,#ff0400,#fe0000,#f90000,#f10000,#e70000,#de0000,#da0000,#dd0000,#e40000,#ed0000,#f40000,#f60000,#f50000,#f30000,#ee0000,#e70000)"></i><i style="background:linear-gradient(90deg,#ff0b00,#ff0900,#ff0700,#ff0600,#ff0400,#ff0300,#fe0000,#fa0000,#f40000,#ee0000,#e60000,#db0000,#d10000,#cd0000,#d00000,#d80000,#e10000,#e80000,#e90000,#e80000,#e40000,#de0000,#d60000)"></i><i style="background:linear-gradient(90deg,#ff0100,#fe0000,#fd0000,#fc0000,#fb0000,#fa0000,#f70000,#f20000,#ec0000,#e60000,#dd0000,#d10000,#c70000,#c20000,#c50000,#ce0000,#d70000,#de0000,#df0000,#dd0000,#d90000,#d20000,#c80000)"></i><i style="background:linear-gradient(90deg,#f80000,#f70000,#f60000,#f60000,#f50000,#f50000,#f10000,#ec0000,#e60000,#e00000,#d70000,#ca0000,#bf0000,#ba0000,#bd0000,#c60000,#d00000,#d70000,#d80000,#d60000,#d00000,#c80000,#be0000)"></i><i style="background:linear-gradient(90deg,#f20000,#f10000,#f10000,#f00000,#f00000,#ef0000,#ec0000,#e70000,#e10000,#da0000,#d10000,#c30000,#b70000,#b20000,#b60000,#bf0000,#c90000,#d00000,#d10000,#cf0000,#c90000,#c10000,#b50000)"></i><i style="background:linear-gradient(90deg,#ec0000,#eb0000,#eb0000,#eb0000,#ea0000,#ea0000,#e70000,#e20000,#dc0000,#d50000,#cb0000,#bd0000,#b10000,#ac0000,#b00000,#b90000,#c30000,#ca0000,#cb0000,#c80000,#c30000,#ba0000,#ae0000)"></i><i style="background:linear-gradient(90deg,#e70000,#e70000,#e60000,#e60000,#e60000,#e60000,#e30000,#de0000,#d80000,#d20000,#c80000,#ba0000,#ae0000,#a90000,#ad0000,#b60000,#c00000,#c70000,#c70000,#c40000,#be0000,#b50000,#a90000)"></i><i style="background:linear-gradient(90deg,#e50000,#e50000,#e50000,#e50000,#e50000,#e50000,#e20000,#dd0000,#d70000,#d10000,#c70000,#ba0000,#ae0000,#a90000,#ad0000,#b60000,#bf0000,#c60000,#c70000,#c40000,#be0000,#b50000,#a90000)"></i><i style="background:linear-gradient(90deg,#e60000,#e70000,#e70000,#e70000,#e70000,#e70000,#e40000,#e00000,#da0000,#d40000,#cb0000,#be0000,#b30000,#ae0000,#b20000,#ba0000,#c30000,#c90000,#ca0000,#c70000,#c10000,#b90000,#ad0000)"></i><i style="background:linear-gradient(90deg,#eb0000,#eb0000,#eb0000,#eb0000,#eb0000,#eb0000,#e90000,#e50000,#df0000,#da0000,#d10000,#c50000,#ba0000,#b60000,#b90000,#c10000,#ca0000,#d00000,#d00000,#cd0000,#c80000,#c00000,#b50000)"></i><i style="background:linear-gradient(90deg,#f00000,#f00000,#f00000,#f00000,#f00000,#f00000,#ee0000,#ea0000,#e50000,#e00000,#d80000,#cd0000,#c30000,#bf0000,#c20000,#c90000,#d10000,#d70000,#d70000,#d50000,#d00000,#c90000,#bf0000)"></i><i style="background:linear-gradient(90deg,#f80000,#f80000,#f80000,#f80000,#f80000,#f70000,#f50000,#f20000,#ed0000,#e80000,#e10000,#d70000,#ce0000,#ca0000,#cd0000,#d40000,#db0000,#e00000,#e10000,#df0000,#da0000,#d40000,#cb0000)"></i><i style="background:linear-gradient(90deg,#ff0500,#ff0500,#ff0400,#ff0400,#ff0400,#ff0400,#ff0100,#fd0000,#f90000,#f50000,#ee0000,#e50000,#dd0000,#da0000,#dd0000,#e30000,#ea0000,#ee0000,#ef0000,#ed0000,#ea0000,#e40000,#dc0000)"></i><i style="background:linear-gradient(90deg,#ff1500,#ff1400,#ff1400,#ff1300,#ff1300,#ff1200,#ff1000,#ff0d00,#ff0900,#ff0500,#ff0000,#f70000,#f00000,#ed0000,#f00000,#f50000,#fb0000,#ff0100,#ff0100,#ff0000,#fc0000,#f80000,#f20000)"></i><i style="background:linear-gradient(90deg,#ff2a00,#ff2900,#ff2800,#ff2700,#ff2600,#ff2500,#ff2300,#ff2000,#ff1c00,#ff1900,#ff1300,#ff0d00,#ff0700,#ff0500,#ff0700,#ff0c00,#ff1200,#ff1600,#ff1700,#ff1700,#ff1500,#ff1200,#ff0d00)"></i><i style="background:linear-gradient(90deg,#ff4900,#ff4700,#ff4500,#ff4400,#ff4200,#ff4000,#ff3e00,#ff3b00,#ff3700,#ff3400,#ff2f00,#ff2900,#ff2500,#ff2400,#ff2600,#ff2b00,#ff3000,#ff3400,#ff3600,#ff3600,#ff3600,#ff3400,#ff3100)"></i><i style="background:linear-gradient(90deg,#ff6e00,#ff6b00,#ff6900,#ff6600,#ff6400,#ff6200,#ff5f00,#ff5c00,#ff5800,#ff5500,#ff5100,#ff4c00,#ff4800,#ff4800,#ff4a00,#ff4f00,#ff5400,#ff5800,#ff5a00,#ff5b00,#ff5c00,#ff5b00,#ff5a00)"></i><i style="background:linear-gradient(90deg,#ff9200,#ff8f00,#ff8c00,#ff8a00,#ff8700,#ff8500,#ff8200,#ff7e00,#ff7b00,#ff7800,#ff7400,#ff7000,#ff6d00,#ff6d00,#ff7000,#ff7400,#ff7800,#ff7c00,#ff7f00,#ff8100,#ff8200,#ff8200,#ff8200)"></i><i style="background:linear-gradient(90deg,#ffb600,#ffb200,#ffaf00,#ffac00,#ffa900,#ffa600,#ffa300,#ff9f00,#ff9c00,#ff9900,#ff9600,#ff9200,#ff9000,#ff9100,#ff9300,#ff9700,#ff9b00,#ff9f00,#ffa200,#ffa500,#ffa700,#ffa900,#ffaa00)"></i><i style="background:linear-gradient(90deg,#ffdb00,#ffd700,#ffd300,#ffcf00,#ffcc00,#ffc800,#ffc500,#ffc100,#ffbe00,#ffbb00,#ffb700,#ffb400,#ffb300,#ffb400,#ffb700,#ffbb00,#ffbf00,#ffc300,#ffc700,#ffca00,#ffcd00,#ffcf00,#ffd200)"></i><i style="background:linear-gradient(90deg,#fcff03,#fffd00,#fff800,#fff400,#fff000,#ffec00,#ffe800,#ffe400,#ffe100,#ffdd00,#ffda00,#ffd800,#ffd700,#ffd900,#ffdb00,#ffdf00,#ffe400,#ffe800,#ffec00,#fff000,#fff400,#fff700,#fffb00)"></i><i style="background:linear-gradient(90deg,#d3ff2c,#d9ff26,#deff21,#e4ff1b,#e9ff16,#edff12,#f2ff0d,#f6ff09,#f9ff06,#fdff02,#fffe00,#fffc00,#fffc00,#fffe00,#fdff02,#f9ff06,#f5ff0a,#f0ff0f,#ebff14,#e7ff18,#e2ff1d,#ddff22,#d8ff27)"></i><i style="background:linear-gradient(90deg,#a9ff56,#afff50,#b5ff4a,#bbff44,#c0ff3f,#c5ff3a,#caff35,#cfff30,#d3ff2c,#d7ff28,#daff25,#dcff23,#dbff24,#d9ff26,#d6ff29,#d2ff2d,#cdff32,#c8ff37,#c3ff3c,#bdff42,#b8ff47,#b2ff4d,#adff52)"></i><i style="background:linear-gradient(90deg,#81ff7e,#87ff78,#8dff72,#93ff6c,#98ff67,#9dff62,#a2ff5d,#a7ff58,#abff54,#afff50,#b2ff4d,#b4ff4b,#b3ff4c,#b1ff4e,#aeff51,#a9ff56,#a5ff5a,#9fff60,#9aff65,#95ff6a,#8fff70,#8aff75,#84ff7b)"></i><i style="background:linear-gradient(90deg,#5effa1,#64ff9b,#69ff96,#6fff90,#74ff8b,#79ff86,#7dff82,#81ff7e,#85ff7a,#89ff76,#8cff73,#8dff72,#8dff72,#8bff74,#88ff77,#84ff7b,#7fff80,#7bff84,#76ff89,#71ff8e,#6bff94,#66ff99,#60ff9f)"></i><i style="background:linear-gradient(90deg,#3cffc3,#41ffbe,#47ffb8,#4cffb3,#51ffae,#56ffa9,#5bffa4,#5fffa0,#63ff9c,#66ff99,#69ff96,#6aff95,#6aff95,#68ff97,#65ff9a,#61ff9e,#5dffa2,#58ffa7,#53ffac,#4effb1,#49ffb6,#43ffbc,#3effc1)"></i><i style="background:linear-gradient(90deg,#1dffe2,#22ffdd,#27ffd8,#2bffd4,#30ffcf,#35ffca,#39ffc6,#3dffc2,#41ffbe,#44ffbb,#47ffb8,#48ffb7,#48ffb7,#46ffb9,#43ffbc,#3fffc0,#3bffc4,#37ffc8,#32ffcd,#2dffd2,#29ffd6,#24ffdb,#1fffe0)"></i><i style="background:linear-gradient(90deg,#01fffe,#05fffa,#09fff6,#0efff1,#12ffed,#16ffe9,#1affe5,#1effe1,#21ffde,#24ffdb,#27ffd8,#28ffd7,#28ffd7,#26ffd9,#23ffdc,#20ffdf,#1dffe2,#19ffe6,#14ffeb,#10ffef,#0cfff3,#07fff8,#03fffc)"></i><i style="background:linear-gradient(90deg,#00e7ff,#00ebff,#00eeff,#00f2ff,#00f6ff,#00faff,#00fdff,#02fffd,#05fffa,#08fff7,#0afff5,#0cfff3,#0cfff3,#0afff5,#08fff7,#05fffa,#02fffd,#00fdff,#00f9ff,#00f5ff,#00f1ff,#00edff,#00e9ff)"></i><i style="background:linear-gradient(90deg,#00cfff,#00d2ff,#00d6ff,#00daff,#00ddff,#00e1ff,#00e5ff,#00e9ff,#00edff,#00f0ff,#00f2ff,#00f4ff,#00f3ff,#00f2ff,#00f0ff,#00edff,#00eaff,#00e6ff,#00e2ff,#00deff,#00daff,#00d6ff,#00d2ff)"></i><i style="background:linear-gradient(90deg,#00b8ff,#00bbff,#00bfff,#00c2ff,#00c6ff,#00cbff,#00cfff,#00d3ff,#00d7ff,#00daff,#00ddff,#00dfff,#00dfff,#00deff,#00dcff,#00d9ff,#00d5ff,#00d1ff,#00ccff,#00c8ff,#00c3ff,#00bfff,#00bbff)"></i><i style="background:linear-gradient(90deg,#00a2ff,#00a5ff,#00a9ff,#00adff,#00b1ff,#00b5ff,#00baff,#00bfff,#00c3ff,#00c7ff,#00caff,#00ccff,#00ccff,#00cbff,#00c9ff,#00c6ff,#00c2ff,#00bdff,#00b8ff,#00b3ff,#00afff,#00aaff,#00a6ff)"></i><i style="background:linear-gradient(90deg,#008eff,#0091ff,#0095ff,#0099ff,#009dff,#00a2ff,#00a7ff,#00adff,#00b1ff,#00b6ff,#00b9ff,#00bbff,#00bcff,#00bbff,#00b8ff,#00b5ff,#00b0ff,#00abff,#00a6ff,#00a1ff,#009cff,#0097ff,#0093ff)"></i><i style="background:linear-gradient(90deg,#007aff,#007dff,#0081ff,#0085ff,#008aff,#0090ff,#0095ff,#009bff,#00a1ff,#00a5ff,#00a9ff,#00acff,#00acff,#00abff,#00a9ff,#00a5ff,#00a0ff,#009aff,#0094ff,#008fff,#0089ff,#0084ff,#0080ff)"></i><i style="background:linear-gradient(90deg,#0066ff,#0069ff,#006dff,#0072ff,#0078ff,#007eff,#0084ff,#008bff,#0091ff,#0096ff,#009bff,#009dff,#009eff,#009dff,#009aff,#0096ff,#0090ff,#008aff,#0084ff,#007dff,#0077ff,#0071ff,#006dff)"></i><i style="background:linear-gradient(90deg,#0053ff,#0056ff,#005bff,#0060ff,#0066ff,#006dff,#0074ff,#007bff,#0082ff,#0088ff,#008dff,#0090ff,#0091ff,#0090ff,#008dff,#0088ff,#0082ff,#007bff,#0073ff,#006cff,#0066ff,#005fff,#005aff)"></i><i style="background:linear-gradient(90deg,#0041ff,#0045ff,#0049ff,#004fff,#0055ff,#005dff,#0065ff,#006dff,#0074ff,#007bff,#0080ff,#0083ff,#0084ff,#0083ff,#0080ff,#007aff,#0074ff,#006cff,#0064ff,#005cff,#0055ff,#004fff,#0049ff)"></i><i style="background:linear-gradient(90deg,#0031ff,#0035ff,#003aff,#0040ff,#0047ff,#004eff,#0057ff,#005fff,#0067ff,#006eff,#0074ff,#0077ff,#0078ff,#0077ff,#0074ff,#006eff,#0067ff,#005fff,#0056ff,#004eff,#0046ff,#003fff,#0039ff)"></i><i style="background:linear-gradient(90deg,#0024ff,#0028ff,#002dff,#0033ff,#003aff,#0042ff,#004aff,#0053ff,#005cff,#0063ff,#0069ff,#006cff,#006dff,#006cff,#0068ff,#0063ff,#005bff,#0053ff,#004aff,#0042ff,#003aff,#0033ff,#002dff)"></i><i style="background:linear-gradient(90deg,#0019ff,#001dff,#0022ff,#0028ff,#002fff,#0037ff,#0040ff,#0049ff,#0051ff,#0059ff,#005fff,#0062ff,#0064ff,#0062ff,#005eff,#0059ff,#0051ff,#0049ff,#0040ff,#0037ff,#002fff,#0028ff,#0022ff)"></i><i style="background:linear-gradient(90deg,#0010ff,#0013ff,#0018ff,#001eff,#0026ff,#002eff,#0037ff,#0040ff,#0048ff,#0050ff,#0056ff,#0059ff,#005bff,#0059ff,#0056ff,#0050ff,#0048ff,#003fff,#0036ff,#002eff,#0026ff,#001eff,#0018ff)"></i><i style="background:linear-gradient(90deg,#0007ff,#000bff,#0010ff,#0016ff,#001dff,#0025ff,#002eff,#0037ff,#0040ff,#0048ff,#004eff,#0052ff,#0053ff,#0051ff,#004eff,#0048ff,#0040ff,#0037ff,#002eff,#0025ff,#001dff,#0016ff,#0010ff)"></i><i style="background:linear-gradient(90deg,#0000fe,#0003ff,#0007ff,#000eff,#0015ff,#001dff,#0026ff,#002fff,#0038ff,#0040ff,#0046ff,#004aff,#004bff,#004aff,#0046ff,#0040ff,#0038ff,#002fff,#0026ff,#001dff,#0015ff,#000eff,#0007ff)"></i><i style="background:linear-gradient(90deg,#0000f6,#0000fa,#0000fe,#0006ff,#000dff,#0015ff,#001eff,#0027ff,#0030ff,#0038ff,#003eff,#0042ff,#0044ff,#0042ff,#003eff,#0038ff,#0030ff,#0027ff,#001eff,#0015ff,#000dff,#0006ff,#0000fe)"></i><i style="background:linear-gradient(90deg,#0000ef,#0000f2,#0000f7,#0000fd,#0006ff,#000eff,#0017ff,#0020ff,#0029ff,#0031ff,#0038ff,#003cff,#003dff,#003cff,#0038ff,#0031ff,#0029ff,#0020ff,#0017ff,#000eff,#0006ff,#0000fd,#0000f7)"></i><i style="background:linear-gradient(90deg,#0000e9,#0000ec,#0000f1,#0000f7,#0000ff,#0008ff,#0011ff,#001bff,#0024ff,#002cff,#0032ff,#0036ff,#0038ff,#0036ff,#0032ff,#002cff,#0024ff,#001bff,#0011ff,#0008ff,#0000ff,#0000f7,#0000f1)"></i><i style="background:linear-gradient(90deg,#0000e4,#0000e8,#0000ed,#0000f3,#0000fa,#0004ff,#000dff,#0016ff,#0020ff,#0028ff,#002fff,#0033ff,#0034ff,#0033ff,#002fff,#0028ff,#0020ff,#0016ff,#000dff,#0004ff,#0000fa,#0000f3,#0000ed)"></i><i style="background:linear-gradient(90deg,#0000e1,#0000e5,#0000ea,#0000f0,#0000f7,#0001ff,#000aff,#0014ff,#001dff,#0026ff,#002cff,#0031ff,#0032ff,#0031ff,#002cff,#0026ff,#001dff,#0014ff,#000aff,#0001ff,#0000f7,#0000f0,#0000ea)"></i><i style="background:linear-gradient(90deg,#0000de,#0000e2,#0000e7,#0000ed,#0000f5,#0000fd,#0008ff,#0012ff,#001bff,#0024ff,#002bff,#002fff,#0031ff,#002fff,#002bff,#0024ff,#001bff,#0012ff,#0008ff,#0000fd,#0000f5,#0000ed,#0000e7)"></i><i style="background:linear-gradient(90deg,#0000dc,#0000df,#0000e4,#0000eb,#0000f2,#0000fb,#0006ff,#0010ff,#001aff,#0022ff,#0029ff,#002eff,#002fff,#002eff,#0029ff,#0022ff,#001aff,#0010ff,#0006ff,#0000fb,#0000f2,#0000eb,#0000e4)"></i><i style="background:linear-gradient(90deg,#0000d9,#0000dd,#0000e2,#0000e8,#0000f0,#0000f9,#0004ff,#000eff,#0018ff,#0021ff,#0028ff,#002dff,#002eff,#002dff,#0028ff,#0021ff,#0018ff,#000eff,#0004ff,#0000f9,#0000f0,#0000e8,#0000e2)"></i><i style="background:linear-gradient(90deg,#0000d7,#0000db,#0000df,#0000e6,#0000ed,#0000f7,#0002ff,#000cff,#0016ff,#0020ff,#0027ff,#002cff,#002dff,#002cff,#0027ff,#0020ff,#0016ff,#000cff,#0002ff,#0000f7,#0000ed,#0000e6,#0000df)"></i><i style="background:linear-gradient(90deg,#0000d5,#0000d8,#0000dd,#0000e3,#0000eb,#0000f4,#0000ff,#000aff,#0015ff,#001eff,#0026ff,#002bff,#002dff,#002bff,#0026ff,#001eff,#0015ff,#000aff,#0000ff,#0000f4,#0000eb,#0000e3,#0000dd)"></i><i style="background:linear-gradient(90deg,#0000d3,#0000d6,#0000db,#0000e1,#0000e9,#0000f3,#0000fd,#0009ff,#0014ff,#001eff,#0025ff,#002aff,#002cff,#002aff,#0025ff,#001eff,#0014ff,#0009ff,#0000fd,#0000f3,#0000e9,#0000e1,#0000db)"></i><i style="background:linear-gradient(90deg,#0000d1,#0000d4,#0000d9,#0000df,#0000e7,#0000f1,#0000fb,#0008ff,#0013ff,#001dff,#0025ff,#002aff,#002cff,#002aff,#0025ff,#001dff,#0013ff,#0008ff,#0000fb,#0000f1,#0000e7,#0000df,#0000d9)"></i><i style="background:linear-gradient(90deg,#0000cf,#0000d3,#0000d8,#0000de,#0000e6,#0000f0,#0000fa,#0007ff,#0012ff,#001dff,#0025ff,#002aff,#002cff,#002aff,#0025ff,#001dff,#0012ff,#0007ff,#0000fa,#0000f0,#0000e6,#0000de,#0000d8)"></i><i style="background:linear-gradient(90deg,#0000cf,#0000d2,#0000d7,#0000dd,#0000e5,#0000ef,#0000fa,#0007ff,#0013ff,#001dff,#0026ff,#002cff,#002dff,#002cff,#0026ff,#001dff,#0013ff,#0007ff,#0000fa,#0000ef,#0000e5,#0000dd,#0000d7)"></i><i style="background:linear-gradient(90deg,#0000ce,#0000d2,#0000d7,#0000dd,#0000e5,#0000ef,#0000fa,#0008ff,#0014ff,#001fff,#0028ff,#002eff,#0030ff,#002eff,#0028ff,#001fff,#0014ff,#0008ff,#0000fa,#0000ef,#0000e5,#0000dd,#0000d7)"></i><i style="background:linear-gradient(90deg,#0000cf,#0000d2,#0000d7,#0000dd,#0000e6,#0000f0,#0000fb,#0009ff,#0015ff,#0021ff,#002aff,#0030ff,#0032ff,#0030ff,#002aff,#0021ff,#0015ff,#0009ff,#0000fb,#0000f0,#0000e6,#0000dd,#0000d7)"></i><i style="background:linear-gradient(90deg,#0000cf,#0000d3,#0000d7,#0000de,#0000e6,#0000f1,#0000fc,#000aff,#0017ff,#0023ff,#002dff,#0033ff,#0035ff,#0033ff,#002dff,#0023ff,#0017ff,#000aff,#0000fc,#0000f1,#0000e6,#0000de,#0000d7)"></i><i style="background:linear-gradient(90deg,#0000d0,#0000d3,#0000d8,#0000df,#0000e7,#0000f1,#0000fe,#000cff,#0019ff,#0026ff,#0030ff,#0036ff,#0038ff,#0036ff,#0030ff,#0026ff,#0019ff,#000cff,#0000fe,#0000f1,#0000e7,#0000df,#0000d8)"></i><i style="background:linear-gradient(90deg,#0000d1,#0000d4,#0000d9,#0000df,#0000e8,#0000f2,#0000ff,#000dff,#001bff,#0028ff,#0032ff,#0039ff,#003cff,#0039ff,#0032ff,#0028ff,#001bff,#000dff,#0000ff,#0000f2,#0000e8,#0000df,#0000d9)"></i><i style="background:linear-gradient(90deg,#0000d1,#0000d4,#0000d9,#0000e0,#0000e8,#0000f3,#0001ff,#000fff,#001dff,#002aff,#0035ff,#003cff,#003fff,#003cff,#0035ff,#002aff,#001dff,#000fff,#0001ff,#0000f3,#0000e8,#0000e0,#0000d9)"></i><i style="background:linear-gradient(90deg,#0000d2,#0000d5,#0000da,#0000e0,#0000e9,#0000f4,#0002ff,#0011ff,#0020ff,#002dff,#0039ff,#0040ff,#0042ff,#0040ff,#0039ff,#002dff,#0020ff,#0011ff,#0002ff,#0000f4,#0000e9,#0000e0,#0000da)"></i><i style="background:linear-gradient(90deg,#0000d3,#0000d6,#0000db,#0000e1,#0000ea,#0000f6,#0004ff,#0013ff,#0022ff,#0031ff,#003cff,#0044ff,#0047ff,#0044ff,#003cff,#0031ff,#0022ff,#0013ff,#0004ff,#0000f6,#0000ea,#0000e1,#0000db)"></i><i style="background:linear-gradient(90deg,#0000d4,#0000d7,#0000dc,#0000e3,#0000ec,#0000f7,#0006ff,#0015ff,#0025ff,#0034ff,#0040ff,#0048ff,#004bff,#0048ff,#0040ff,#0034ff,#0025ff,#0015ff,#0006ff,#0000f7,#0000ec,#0000e3,#0000dc)"></i><i style="background:linear-gradient(90deg,#0000d6,#0000d9,#0000dd,#0000e4,#0000ed,#0000f9,#0008ff,#0018ff,#0029ff,#0038ff,#0045ff,#004dff,#0050ff,#004dff,#0045ff,#0038ff,#0029ff,#0018ff,#0008ff,#0000f9,#0000ed,#0000e4,#0000dd)"></i><i style="background:linear-gradient(90deg,#0000d7,#0000da,#0000df,#0000e6,#0000ef,#0000fb,#000bff,#001bff,#002cff,#003cff,#0049ff,#0052ff,#0055ff,#0052ff,#0049ff,#003cff,#002cff,#001bff,#000bff,#0000fb,#0000ef,#0000e6,#0000df)"></i><i style="background:linear-gradient(90deg,#0000d9,#0000dc,#0000e1,#0000e8,#0000f1,#0000fd,#000dff,#001eff,#0030ff,#0040ff,#004eff,#0057ff,#005aff,#0057ff,#004eff,#0040ff,#0030ff,#001eff,#000dff,#0000fd,#0000f1,#0000e8,#0000e1)"></i><i style="background:linear-gradient(90deg,#0000da,#0000de,#0000e2,#0000e9,#0000f3,#0001ff,#0010ff,#0021ff,#0033ff,#0045ff,#0053ff,#005cff,#005fff,#005cff,#0053ff,#0045ff,#0033ff,#0021ff,#0010ff,#0001ff,#0000f3,#0000e9,#0000e2)"></i><i style="background:linear-gradient(90deg,#0000dc,#0000df,#0000e4,#0000eb,#0000f5,#0003ff,#0013ff,#0025ff,#0037ff,#0049ff,#0057ff,#0061ff,#0064ff,#0061ff,#0057ff,#0049ff,#0037ff,#0025ff,#0013ff,#0003ff,#0000f5,#0000eb,#0000e4)"></i><i style="background:linear-gradient(90deg,#0000de,#0000e1,#0000e6,#0000ed,#0000f7,#0005ff,#0015ff,#0028ff,#003bff,#004dff,#005cff,#0066ff,#0069ff,#0066ff,#005cff,#004dff,#003bff,#0028ff,#0015ff,#0005ff,#0000f7,#0000ed,#0000e6)"></i><i style="background:linear-gradient(90deg,#0000df,#0000e2,#0000e7,#0000ef,#0000f9,#0007ff,#0018ff,#002bff,#003eff,#0051ff,#0060ff,#006aff,#006eff,#006aff,#0060ff,#0051ff,#003eff,#002bff,#0018ff,#0007ff,#0000f9,#0000ef,#0000e7)"></i><i style="background:linear-gradient(90deg,#0000e0,#0000e3,#0000e8,#0000f0,#0000fb,#0009ff,#001aff,#002eff,#0042ff,#0055ff,#0064ff,#006fff,#0072ff,#006fff,#0064ff,#0055ff,#0042ff,#002eff,#001aff,#0009ff,#0000fb,#0000f0,#0000e8)"></i><i style="background:linear-gradient(90deg,#0000e1,#0000e5,#0000ea,#0000f2,#0000fd,#000cff,#001dff,#0030ff,#0045ff,#0058ff,#0068ff,#0073ff,#0076ff,#0073ff,#0068ff,#0058ff,#0045ff,#0030ff,#001dff,#000cff,#0000fd,#0000f2,#0000ea)"></i><i style="background:linear-gradient(90deg,#0000e2,#0000e6,#0000eb,#0000f4,#0000ff,#000eff,#0020ff,#0034ff,#0048ff,#005cff,#006cff,#0077ff,#007aff,#0077ff,#006cff,#005cff,#0048ff,#0034ff,#0020ff,#000eff,#0000ff,#0000f4,#0000eb)"></i><i style="background:linear-gradient(90deg,#0000e4,#0000e7,#0000ed,#0000f5,#0002ff,#0011ff,#0023ff,#0037ff,#004cff,#005fff,#0070ff,#007aff,#007eff,#007aff,#0070ff,#005fff,#004cff,#0037ff,#0023ff,#0011ff,#0002ff,#0000f5,#0000ed)"></i><i style="background:linear-gradient(90deg,#0000e5,#0000e9,#0000ef,#0000f8,#0004ff,#0014ff,#0026ff,#003aff,#004fff,#0063ff,#0073ff,#007eff,#0082ff,#007eff,#0073ff,#0063ff,#004fff,#003aff,#0026ff,#0014ff,#0004ff,#0000f8,#0000ef)"></i><i style="background:linear-gradient(90deg,#0000e6,#0000ea,#0000f1,#0000fa,#0007ff,#0017ff,#0029ff,#003eff,#0053ff,#0067ff,#0077ff,#0082ff,#0085ff,#0082ff,#0077ff,#0067ff,#0053ff,#003eff,#0029ff,#0017ff,#0007ff,#0000fa,#0000f1)"></i><i style="background:linear-gradient(90deg,#0000e7,#0000ec,#0000f3,#0000fc,#000aff,#001aff,#002dff,#0041ff,#0057ff,#006aff,#007bff,#0085ff,#0089ff,#0085ff,#007bff,#006aff,#0057ff,#0041ff,#002dff,#001aff,#000aff,#0000fc,#0000f3)"></i><i style="background:linear-gradient(90deg,#0000e9,#0000ee,#0000f5,#0000ff,#000dff,#001dff,#0030ff,#0045ff,#005aff,#006eff,#007eff,#0089ff,#008cff,#0089ff,#007eff,#006eff,#005aff,#0045ff,#0030ff,#001dff,#000dff,#0000ff,#0000f5)"></i><i style="background:linear-gradient(90deg,#0000ea,#0000ef,#0000f7,#0002ff,#0010ff,#0020ff,#0034ff,#0049ff,#005eff,#0072ff,#0082ff,#008cff,#0090ff,#008cff,#0082ff,#0072ff,#005eff,#0049ff,#0034ff,#0020ff,#0010ff,#0002ff,#0000f7)"></i><i style="background:linear-gradient(90deg,#0000ec,#0000f1,#0000f9,#0005ff,#0013ff,#0024ff,#0037ff,#004dff,#0062ff,#0076ff,#0086ff,#0090ff,#0094ff,#0090ff,#0086ff,#0076ff,#0062ff,#004dff,#0037ff,#0024ff,#0013ff,#0005ff,#0000f9)"></i><i style="background:linear-gradient(90deg,#0000ed,#0000f3,#0000fb,#0007ff,#0016ff,#0027ff,#003bff,#0051ff,#0066ff,#007aff,#008aff,#0094ff,#0098ff,#0094ff,#008aff,#007aff,#0066ff,#0051ff,#003bff,#0027ff,#0016ff,#0007ff,#0000fb)"></i><i style="background:linear-gradient(90deg,#0000ee,#0000f5,#0000fd,#000aff,#0019ff,#002bff,#003fff,#0055ff,#006bff,#007eff,#008eff,#0098ff,#009cff,#0098ff,#008eff,#007eff,#006bff,#0055ff,#003fff,#002bff,#0019ff,#000aff,#0000fd)"></i><i style="background:linear-gradient(90deg,#0000f0,#0000f6,#0001ff,#000dff,#001cff,#002eff,#0043ff,#0059ff,#006fff,#0083ff,#0093ff,#009dff,#00a1ff,#009dff,#0093ff,#0083ff,#006fff,#0059ff,#0043ff,#002eff,#001cff,#000dff,#0001ff)"></i><i style="background:linear-gradient(90deg,#0000f1,#0000f8,#0003ff,#000fff,#001fff,#0032ff,#0047ff,#005dff,#0073ff,#0087ff,#0097ff,#00a2ff,#00a5ff,#00a2ff,#0097ff,#0087ff,#0073ff,#005dff,#0047ff,#0032ff,#001fff,#000fff,#0003ff)"></i><i style="background:linear-gradient(90deg,#0000f3,#0000fa,#0005ff,#0012ff,#0022ff,#0035ff,#004bff,#0062ff,#0078ff,#008cff,#009dff,#00a7ff,#00abff,#00a7ff,#009dff,#008cff,#0078ff,#0062ff,#004bff,#0035ff,#0022ff,#0012ff,#0005ff)"></i><i style="background:linear-gradient(90deg,#0000f4,#0000fc,#0007ff,#0014ff,#0025ff,#0039ff,#004fff,#0066ff,#007dff,#0092ff,#00a3ff,#00adff,#00b1ff,#00adff,#00a3ff,#0092ff,#007dff,#0066ff,#004fff,#0039ff,#0025ff,#0014ff,#0007ff)"></i><i style="background:linear-gradient(90deg,#0000f5,#0000fd,#0009ff,#0017ff,#0029ff,#003eff,#0055ff,#006dff,#0085ff,#009aff,#00acff,#00b7ff,#00baff,#00b7ff,#00acff,#009aff,#0085ff,#006dff,#0055ff,#003eff,#0029ff,#0017ff,#0009ff)"></i><i style="background:linear-gradient(90deg,#0000f6,#0000ff,#000bff,#001aff,#002dff,#0042ff,#005bff,#0074ff,#008dff,#00a3ff,#00b5ff,#00c0ff,#00c4ff,#00c0ff,#00b5ff,#00a3ff,#008dff,#0074ff,#005bff,#0042ff,#002dff,#001aff,#000bff)"></i><i style="background:linear-gradient(90deg,#0000f7,#0001ff,#000dff,#001cff,#002fff,#0046ff,#005fff,#0079ff,#0092ff,#00a9ff,#00bbff,#00c7ff,#00cbff,#00c7ff,#00bbff,#00a9ff,#0092ff,#0079ff,#005fff,#0046ff,#002fff,#001cff,#000dff)"></i><i style="background:linear-gradient(90deg,#0000f7,#0001ff,#000eff,#001dff,#0030ff,#0047ff,#0060ff,#007aff,#0093ff,#00aaff,#00bcff,#00c8ff,#00ccff,#00c8ff,#00bcff,#00aaff,#0093ff,#007aff,#0060ff,#0047ff,#0030ff,#001dff,#000eff)"></i><i style="background:linear-gradient(90deg,#0000f7,#0001ff,#000dff,#001dff,#0030ff,#0046ff,#005fff,#0079ff,#0092ff,#00a9ff,#00bbff,#00c6ff,#00caff,#00c6ff,#00bbff,#00a9ff,#0092ff,#0079ff,#005fff,#0046ff,#0030ff,#001dff,#000dff)"></i><i style="background:linear-gradient(90deg,#0000f5,#0000fe,#000bff,#001bff,#002eff,#0044ff,#005dff,#0077ff,#0090ff,#00a6ff,#00b8ff,#00c3ff,#00c7ff,#00c3ff,#00b8ff,#00a6ff,#0090ff,#0077ff,#005dff,#0044ff,#002eff,#001bff,#000bff)"></i><i style="background:linear-gradient(90deg,#0000f2,#0000fc,#0009ff,#0019ff,#002cff,#0042ff,#005aff,#0074ff,#008dff,#00a3ff,#00b4ff,#00bfff,#00c3ff,#00bfff,#00b4ff,#00a3ff,#008dff,#0074ff,#005aff,#0042ff,#002cff,#0019ff,#0009ff)"></i><i style="background:linear-gradient(90deg,#0000f0,#0000f9,#0006ff,#0016ff,#0029ff,#003fff,#0057ff,#0071ff,#0089ff,#009fff,#00b0ff,#00bbff,#00bfff,#00bbff,#00b0ff,#009fff,#0089ff,#0071ff,#0057ff,#003fff,#0029ff,#0016ff,#0006ff)"></i><i style="background:linear-gradient(90deg,#0000ed,#0000f7,#0004ff,#0014ff,#0026ff,#003cff,#0054ff,#006dff,#0085ff,#009bff,#00acff,#00b7ff,#00baff,#00b7ff,#00acff,#009bff,#0085ff,#006dff,#0054ff,#003cff,#0026ff,#0014ff,#0004ff)"></i><i style="background:linear-gradient(90deg,#0000eb,#0000f5,#0002ff,#0011ff,#0024ff,#0039ff,#0051ff,#0069ff,#0081ff,#0096ff,#00a6ff,#00b1ff,#00b5ff,#00b1ff,#00a6ff,#0096ff,#0081ff,#0069ff,#0051ff,#0039ff,#0024ff,#0011ff,#0002ff)"></i><i style="background:linear-gradient(90deg,#0000e9,#0000f2,#0000fe,#000eff,#0021ff,#0036ff,#004dff,#0064ff,#007bff,#0090ff,#00a0ff,#00aaff,#00aeff,#00aaff,#00a0ff,#0090ff,#007bff,#0064ff,#004dff,#0036ff,#0021ff,#000eff,#0000fe)"></i><i style="background:linear-gradient(90deg,#0000e8,#0000f0,#0000fc,#000cff,#001dff,#0032ff,#0048ff,#005fff,#0075ff,#0089ff,#0099ff,#00a3ff,#00a6ff,#00a3ff,#0099ff,#0089ff,#0075ff,#005fff,#0048ff,#0032ff,#001dff,#000cff,#0000fc)"></i><i style="background:linear-gradient(90deg,#0000e6,#0000ee,#0000f9,#0009ff,#001aff,#002dff,#0043ff,#0059ff,#006eff,#0081ff,#0090ff,#009aff,#009dff,#009aff,#0090ff,#0081ff,#006eff,#0059ff,#0043ff,#002dff,#001aff,#0009ff,#0000f9)"></i><i style="background:linear-gradient(90deg,#0000e4,#0000ec,#0000f7,#0005ff,#0016ff,#0029ff,#003dff,#0052ff,#0067ff,#0079ff,#0087ff,#0091ff,#0094ff,#0091ff,#0087ff,#0079ff,#0067ff,#0052ff,#003dff,#0029ff,#0016ff,#0005ff,#0000f7)"></i></div>
<div class="hm" style="left:531.5px"><i style="background:linear-gradient(90deg,#26ffd9,#21ffde,#19ffe6,#10ffef,#08fff7,#01fffe,#00fcff,#00f9ff,#00f9ff,#00fcff,#01fffe,#07fff8,#0dfff2,#12ffed,#17ffe8,#1bffe4,#1effe1,#21ffde,#24ffdb,#27ffd8,#2bffd4,#2dffd2,#2fffd0)"></i><i style="background:linear-gradient(90deg,#2cffd3,#26ffd9,#1fffe0,#16ffe9,#0efff1,#07fff8,#03fffc,#00ffff,#00ffff,#03fffc,#07fff8,#0dfff2,#12ffed,#18ffe7,#1cffe3,#20ffdf,#23ffdc,#26ffd9,#29ffd6,#2cffd3,#30ffcf,#32ffcd,#34ffcb)"></i><i style="background:linear-gradient(90deg,#32ffcd,#2cffd3,#25ffda,#1cffe3,#15ffea,#0efff1,#0afff5,#08fff7,#08fff7,#0afff5,#0efff1,#13ffec,#18ffe7,#1dffe2,#21ffde,#25ffda,#28ffd7,#2bffd4,#2effd1,#31ffce,#35ffca,#38ffc7,#39ffc6)"></i><i style="background:linear-gradient(90deg,#38ffc7,#32ffcd,#2bffd4,#23ffdc,#1bffe4,#15ffea,#11ffee,#0ffff0,#0ffff0,#11ffee,#15ffea,#1affe5,#1effe1,#23ffdc,#27ffd8,#2affd5,#2cffd3,#2fffd0,#32ffcd,#36ffc9,#3affc5,#3dffc2,#3fffc0)"></i><i style="background:linear-gradient(90deg,#3dffc2,#38ffc7,#31ffce,#29ffd6,#22ffdd,#1dffe2,#19ffe6,#17ffe8,#17ffe8,#19ffe6,#1cffe3,#20ffdf,#24ffdb,#28ffd7,#2cffd3,#2effd1,#31ffce,#33ffcc,#37ffc8,#3affc5,#3effc1,#42ffbd,#44ffbb)"></i><i style="background:linear-gradient(90deg,#43ffbc,#3effc1,#37ffc8,#2fffd0,#29ffd6,#23ffdc,#20ffdf,#1fffe0,#1fffe0,#20ffdf,#23ffdc,#27ffd8,#2affd5,#2dffd2,#30ffcf,#33ffcc,#35ffca,#37ffc8,#3affc5,#3effc1,#42ffbd,#46ffb9,#48ffb7)"></i><i style="background:linear-gradient(90deg,#48ffb7,#43ffbc,#3cffc3,#35ffca,#2effd1,#2affd5,#27ffd8,#25ffda,#26ffd9,#27ffd8,#2affd5,#2dffd2,#30ffcf,#32ffcd,#34ffcb,#36ffc9,#38ffc7,#3bffc4,#3effc1,#42ffbd,#46ffb9,#4affb5,#4cffb3)"></i><i style="background:linear-gradient(90deg,#4dffb2,#48ffb7,#41ffbe,#3affc5,#34ffcb,#2fffd0,#2dffd2,#2cffd3,#2cffd3,#2dffd2,#2fffd0,#32ffcd,#34ffcb,#36ffc9,#38ffc7,#3affc5,#3bffc4,#3effc1,#41ffbe,#45ffba,#49ffb6,#4dffb2,#50ffaf)"></i><i style="background:linear-gradient(90deg,#51ffae,#4cffb3,#46ffb9,#3effc1,#38ffc7,#34ffcb,#32ffcd,#31ffce,#32ffcd,#33ffcc,#35ffca,#37ffc8,#38ffc7,#3affc5,#3bffc4,#3dffc2,#3effc1,#40ffbf,#44ffbb,#48ffb7,#4cffb3,#51ffae,#53ffac)"></i><i style="background:linear-gradient(90deg,#55ffaa,#51ffae,#4affb5,#43ffbc,#3dffc2,#39ffc6,#37ffc8,#36ffc9,#37ffc8,#38ffc7,#39ffc6,#3bffc4,#3cffc3,#3effc1,#3fffc0,#40ffbf,#41ffbe,#43ffbc,#46ffb9,#4bffb4,#50ffaf,#54ffab,#56ffa9)"></i><i style="background:linear-gradient(90deg,#5affa5,#55ffaa,#4effb1,#47ffb8,#41ffbe,#3dffc2,#3cffc3,#3bffc4,#3bffc4,#3cffc3,#3effc1,#3fffc0,#40ffbf,#41ffbe,#42ffbd,#43ffbc,#44ffbb,#46ffb9,#49ffb6,#4dffb2,#52ffad,#57ffa8,#5affa5)"></i><i style="background:linear-gradient(90deg,#5effa1,#59ffa6,#52ffad,#4bffb4,#45ffba,#41ffbe,#40ffbf,#3fffc0,#40ffbf,#41ffbe,#42ffbd,#43ffbc,#44ffbb,#44ffbb,#45ffba,#45ffba,#46ffb9,#48ffb7,#4cffb3,#50ffaf,#55ffaa,#5affa5,#5dffa2)"></i><i style="background:linear-gradient(90deg,#62ff9d,#5dffa2,#56ffa9,#4effb1,#48ffb7,#45ffba,#43ffbc,#43ffbc,#43ffbc,#44ffbb,#45ffba,#46ffb9,#47ffb8,#47ffb8,#48ffb7,#48ffb7,#49ffb6,#4bffb4,#4effb1,#53ffac,#58ffa7,#5dffa2,#60ff9f)"></i><i style="background:linear-gradient(90deg,#66ff99,#61ff9e,#59ffa6,#52ffad,#4bffb4,#48ffb7,#46ffb9,#46ffb9,#47ffb8,#48ffb7,#49ffb6,#4affb5,#4affb5,#4affb5,#4affb5,#4bffb4,#4bffb4,#4dffb2,#50ffaf,#55ffaa,#5bffa4,#5fffa0,#62ff9d)"></i><i style="background:linear-gradient(90deg,#6aff95,#65ff9a,#5dffa2,#55ffaa,#4effb1,#4bffb4,#49ffb6,#49ffb6,#4affb5,#4bffb4,#4cffb3,#4dffb2,#4dffb2,#4dffb2,#4dffb2,#4dffb2,#4effb1,#4fffb0,#53ffac,#58ffa7,#5dffa2,#62ff9d,#65ff9a)"></i><i style="background:linear-gradient(90deg,#6eff91,#69ff96,#60ff9f,#58ffa7,#51ffae,#4dffb2,#4cffb3,#4cffb3,#4cffb3,#4dffb2,#4effb1,#4fffb0,#50ffaf,#50ffaf,#50ffaf,#4fffb0,#50ffaf,#52ffad,#55ffaa,#5affa5,#5fffa0,#64ff9b,#67ff98)"></i><i style="background:linear-gradient(90deg,#72ff8d,#6cff93,#63ff9c,#5affa5,#54ffab,#50ffaf,#4effb1,#4effb1,#4fffb0,#50ffaf,#51ffae,#52ffad,#52ffad,#52ffad,#52ffad,#52ffad,#52ffad,#54ffab,#57ffa8,#5cffa3,#62ff9d,#67ff98,#6aff95)"></i><i style="background:linear-gradient(90deg,#76ff89,#70ff8f,#67ff98,#5dffa2,#56ffa9,#52ffad,#50ffaf,#50ffaf,#51ffae,#52ffad,#54ffab,#54ffab,#55ffaa,#55ffaa,#54ffab,#54ffab,#54ffab,#56ffa9,#59ffa6,#5effa1,#64ff9b,#69ff96,#6cff93)"></i><i style="background:linear-gradient(90deg,#7aff85,#73ff8c,#6aff95,#60ff9f,#58ffa7,#54ffab,#52ffad,#52ffad,#53ffac,#55ffaa,#56ffa9,#57ffa8,#57ffa8,#57ffa8,#56ffa9,#56ffa9,#56ffa9,#58ffa7,#5bffa4,#60ff9f,#65ff9a,#6bff94,#6eff91)"></i><i style="background:linear-gradient(90deg,#7dff82,#77ff88,#6cff93,#62ff9d,#5affa5,#56ffa9,#54ffab,#54ffab,#55ffaa,#57ffa8,#58ffa7,#59ffa6,#59ffa6,#59ffa6,#59ffa6,#58ffa7,#58ffa7,#5affa5,#5dffa2,#62ff9d,#67ff98,#6cff93,#6fff90)"></i><i style="background:linear-gradient(90deg,#81ff7e,#7aff85,#6fff90,#64ff9b,#5cffa3,#58ffa7,#56ffa9,#56ffa9,#57ffa8,#59ffa6,#5affa5,#5bffa4,#5bffa4,#5bffa4,#5bffa4,#5affa5,#5affa5,#5bffa4,#5effa1,#63ff9c,#69ff96,#6eff91,#71ff8e)"></i><i style="background:linear-gradient(90deg,#84ff7b,#7dff82,#72ff8d,#67ff98,#5effa1,#5affa5,#58ffa7,#58ffa7,#59ffa6,#5bffa4,#5cffa3,#5dffa2,#5effa1,#5dffa2,#5dffa2,#5cffa3,#5cffa3,#5dffa2,#60ff9f,#64ff9b,#6aff95,#6fff90,#72ff8d)"></i><i style="background:linear-gradient(90deg,#87ff78,#80ff7f,#74ff8b,#69ff96,#60ff9f,#5bffa4,#59ffa6,#59ffa6,#5bffa4,#5cffa3,#5effa1,#5fffa0,#5fffa0,#5fffa0,#5effa1,#5effa1,#5dffa2,#5effa1,#61ff9e,#66ff99,#6bff94,#70ff8f,#73ff8c)"></i><i style="background:linear-gradient(90deg,#8aff75,#83ff7c,#77ff88,#6bff94,#62ff9d,#5dffa2,#5bffa4,#5bffa4,#5cffa3,#5effa1,#60ff9f,#61ff9e,#61ff9e,#61ff9e,#60ff9f,#5fffa0,#5fffa0,#60ff9f,#62ff9d,#67ff98,#6cff93,#71ff8e,#74ff8b)"></i><i style="background:linear-gradient(90deg,#8dff72,#85ff7a,#79ff86,#6cff93,#63ff9c,#5effa1,#5cffa3,#5cffa3,#5effa1,#5fffa0,#61ff9e,#62ff9d,#63ff9c,#63ff9c,#62ff9d,#61ff9e,#60ff9f,#61ff9e,#63ff9c,#68ff97,#6dff92,#71ff8e,#74ff8b)"></i><i style="background:linear-gradient(90deg,#90ff6f,#88ff77,#7bff84,#6eff91,#65ff9a,#5fffa0,#5dffa2,#5dffa2,#5fffa0,#61ff9e,#63ff9c,#64ff9b,#64ff9b,#64ff9b,#63ff9c,#62ff9d,#61ff9e,#62ff9d,#64ff9b,#68ff97,#6dff92,#72ff8d,#74ff8b)"></i><i style="background:linear-gradient(90deg,#92ff6d,#8aff75,#7dff82,#70ff8f,#66ff99,#60ff9f,#5effa1,#5fffa0,#60ff9f,#62ff9d,#64ff9b,#65ff9a,#66ff99,#66ff99,#64ff9b,#63ff9c,#62ff9d,#63ff9c,#65ff9a,#69ff96,#6dff92,#72ff8d,#74ff8b)"></i><i style="background:linear-gradient(90deg,#94ff6b,#8cff73,#7eff81,#71ff8e,#67ff98,#61ff9e,#5fffa0,#60ff9f,#61ff9e,#63ff9c,#65ff9a,#67ff98,#67ff98,#67ff98,#66ff99,#64ff9b,#63ff9c,#64ff9b,#66ff99,#69ff96,#6eff91,#72ff8d,#74ff8b)"></i><i style="background:linear-gradient(90deg,#96ff69,#8eff71,#80ff7f,#72ff8d,#68ff97,#62ff9d,#60ff9f,#60ff9f,#62ff9d,#64ff9b,#66ff99,#68ff97,#68ff97,#68ff97,#67ff98,#65ff9a,#64ff9b,#64ff9b,#66ff99,#69ff96,#6eff91,#71ff8e,#74ff8b)"></i><i style="background:linear-gradient(90deg,#98ff67,#8fff70,#81ff7e,#73ff8c,#69ff96,#63ff9c,#61ff9e,#61ff9e,#63ff9c,#65ff9a,#67ff98,#68ff97,#69ff96,#69ff96,#67ff98,#66ff99,#65ff9a,#65ff9a,#66ff99,#69ff96,#6dff92,#71ff8e,#73ff8c)"></i><i style="background:linear-gradient(90deg,#99ff66,#90ff6f,#82ff7d,#74ff8b,#69ff96,#63ff9c,#61ff9e,#61ff9e,#63ff9c,#65ff9a,#68ff97,#69ff96,#6aff95,#69ff96,#68ff97,#66ff99,#65ff9a,#65ff9a,#66ff99,#69ff96,#6dff92,#70ff8f,#72ff8d)"></i><i style="background:linear-gradient(90deg,#9aff65,#91ff6e,#83ff7c,#74ff8b,#69ff96,#63ff9c,#61ff9e,#62ff9d,#63ff9c,#66ff99,#68ff97,#6aff95,#6aff95,#6aff95,#68ff97,#67ff98,#65ff9a,#65ff9a,#66ff99,#69ff96,#6cff93,#6fff90,#71ff8e)"></i><i style="background:linear-gradient(90deg,#9bff64,#92ff6d,#83ff7c,#75ff8a,#6aff95,#64ff9b,#61ff9e,#62ff9d,#64ff9b,#66ff99,#68ff97,#6aff95,#6bff94,#6aff95,#69ff96,#67ff98,#65ff9a,#65ff9a,#66ff99,#68ff97,#6bff94,#6eff91,#70ff8f)"></i><i style="background:linear-gradient(90deg,#9cff63,#92ff6d,#84ff7b,#75ff8a,#6aff95,#64ff9b,#61ff9e,#62ff9d,#64ff9b,#66ff99,#68ff97,#6aff95,#6bff94,#6aff95,#69ff96,#67ff98,#65ff9a,#65ff9a,#65ff9a,#67ff98,#6aff95,#6dff92,#6fff90)"></i><i style="background:linear-gradient(90deg,#9cff63,#93ff6c,#84ff7b,#75ff8a,#6aff95,#64ff9b,#61ff9e,#62ff9d,#64ff9b,#66ff99,#68ff97,#6aff95,#6bff94,#6aff95,#69ff96,#67ff98,#65ff9a,#64ff9b,#65ff9a,#67ff98,#69ff96,#6cff93,#6eff91)"></i><i style="background:linear-gradient(90deg,#9cff63,#93ff6c,#84ff7b,#75ff8a,#6aff95,#63ff9c,#61ff9e,#62ff9d,#64ff9b,#66ff99,#68ff97,#6aff95,#6bff94,#6aff95,#69ff96,#67ff98,#65ff9a,#64ff9b,#64ff9b,#66ff99,#68ff97,#6bff94,#6cff93)"></i><i style="background:linear-gradient(90deg,#9cff63,#93ff6c,#84ff7b,#75ff8a,#69ff96,#63ff9c,#61ff9e,#61ff9e,#63ff9c,#66ff99,#68ff97,#6aff95,#6bff94,#6aff95,#69ff96,#67ff98,#65ff9a,#64ff9b,#64ff9b,#65ff9a,#67ff98,#69ff96,#6bff94)"></i><i style="background:linear-gradient(90deg,#9cff63,#92ff6d,#83ff7c,#74ff8b,#69ff96,#63ff9c,#61ff9e,#61ff9e,#63ff9c,#66ff99,#68ff97,#6aff95,#6aff95,#6aff95,#68ff97,#66ff99,#64ff9b,#63ff9c,#63ff9c,#64ff9b,#66ff99,#68ff97,#69ff96)"></i><i style="background:linear-gradient(90deg,#9cff63,#92ff6d,#83ff7c,#74ff8b,#69ff96,#63ff9c,#60ff9f,#61ff9e,#63ff9c,#65ff9a,#68ff97,#69ff96,#6aff95,#69ff96,#68ff97,#66ff99,#64ff9b,#63ff9c,#62ff9d,#63ff9c,#65ff9a,#67ff98,#68ff97)"></i><i style="background:linear-gradient(90deg,#9bff64,#91ff6e,#82ff7d,#74ff8b,#68ff97,#62ff9d,#60ff9f,#60ff9f,#62ff9d,#65ff9a,#67ff98,#69ff96,#69ff96,#69ff96,#67ff98,#65ff9a,#63ff9c,#62ff9d,#62ff9d,#62ff9d,#64ff9b,#65ff9a,#66ff99)"></i><i style="background:linear-gradient(90deg,#9aff65,#91ff6e,#82ff7d,#73ff8c,#68ff97,#62ff9d,#60ff9f,#60ff9f,#62ff9d,#64ff9b,#67ff98,#68ff97,#69ff96,#68ff97,#67ff98,#65ff9a,#63ff9c,#61ff9e,#61ff9e,#61ff9e,#63ff9c,#64ff9b,#65ff9a)"></i><i style="background:linear-gradient(90deg,#99ff66,#90ff6f,#81ff7e,#72ff8d,#67ff98,#61ff9e,#5fffa0,#60ff9f,#61ff9e,#64ff9b,#66ff99,#68ff97,#68ff97,#68ff97,#66ff99,#64ff9b,#62ff9d,#61ff9e,#60ff9f,#61ff9e,#62ff9d,#63ff9c,#64ff9b)"></i><i style="background:linear-gradient(90deg,#98ff67,#8eff71,#80ff7f,#72ff8d,#67ff98,#61ff9e,#5fffa0,#5fffa0,#61ff9e,#63ff9c,#65ff9a,#67ff98,#67ff98,#67ff98,#65ff9a,#63ff9c,#61ff9e,#60ff9f,#5fffa0,#60ff9f,#60ff9f,#61ff9e,#62ff9d)"></i><i style="background:linear-gradient(90deg,#96ff69,#8dff72,#7fff80,#71ff8e,#66ff99,#60ff9f,#5effa1,#5effa1,#60ff9f,#62ff9d,#65ff9a,#66ff99,#67ff98,#66ff99,#65ff9a,#63ff9c,#61ff9e,#5fffa0,#5effa1,#5fffa0,#5fffa0,#60ff9f,#61ff9e)"></i><i style="background:linear-gradient(90deg,#95ff6a,#8cff73,#7eff81,#70ff8f,#65ff9a,#5fffa0,#5dffa2,#5effa1,#5fffa0,#62ff9d,#64ff9b,#65ff9a,#66ff99,#65ff9a,#64ff9b,#62ff9d,#60ff9f,#5effa1,#5effa1,#5effa1,#5effa1,#5fffa0,#5fffa0)"></i><i style="background:linear-gradient(90deg,#93ff6c,#8aff75,#7cff83,#6fff90,#64ff9b,#5fffa0,#5dffa2,#5dffa2,#5fffa0,#61ff9e,#63ff9c,#64ff9b,#65ff9a,#64ff9b,#63ff9c,#61ff9e,#5fffa0,#5effa1,#5dffa2,#5dffa2,#5dffa2,#5effa1,#5effa1)"></i><i style="background:linear-gradient(90deg,#91ff6e,#89ff76,#7bff84,#6eff91,#64ff9b,#5effa1,#5cffa3,#5cffa3,#5effa1,#60ff9f,#62ff9d,#63ff9c,#64ff9b,#63ff9c,#62ff9d,#60ff9f,#5effa1,#5dffa2,#5cffa3,#5cffa3,#5cffa3,#5cffa3,#5dffa2)"></i><i style="background:linear-gradient(90deg,#8fff70,#87ff78,#7aff85,#6dff92,#63ff9c,#5dffa2,#5bffa4,#5bffa4,#5dffa2,#5fffa0,#61ff9e,#62ff9d,#63ff9c,#62ff9d,#61ff9e,#5fffa0,#5dffa2,#5cffa3,#5bffa4,#5bffa4,#5bffa4,#5bffa4,#5cffa3)"></i><i style="background:linear-gradient(90deg,#8dff72,#85ff7a,#78ff87,#6bff94,#62ff9d,#5cffa3,#5affa5,#5affa5,#5cffa3,#5effa1,#60ff9f,#61ff9e,#61ff9e,#61ff9e,#60ff9f,#5effa1,#5cffa3,#5bffa4,#5affa5,#59ffa6,#5affa5,#5affa5,#5affa5)"></i><i style="background:linear-gradient(90deg,#8aff75,#82ff7d,#76ff89,#69ff96,#60ff9f,#5bffa4,#59ffa6,#59ffa6,#5bffa4,#5cffa3,#5effa1,#5fffa0,#60ff9f,#5fffa0,#5effa1,#5dffa2,#5bffa4,#59ffa6,#58ffa7,#58ffa7,#58ffa7,#58ffa7,#59ffa6)"></i><i style="background:linear-gradient(90deg,#87ff78,#80ff7f,#74ff8b,#68ff97,#5fffa0,#59ffa6,#58ffa7,#58ffa7,#59ffa6,#5bffa4,#5cffa3,#5effa1,#5effa1,#5effa1,#5dffa2,#5bffa4,#59ffa6,#58ffa7,#57ffa8,#57ffa8,#57ffa8,#57ffa8,#57ffa8)"></i><i style="background:linear-gradient(90deg,#84ff7b,#7dff82,#71ff8e,#65ff9a,#5dffa2,#58ffa7,#56ffa9,#56ffa9,#57ffa8,#59ffa6,#5bffa4,#5cffa3,#5cffa3,#5cffa3,#5bffa4,#59ffa6,#58ffa7,#56ffa9,#55ffaa,#55ffaa,#55ffaa,#55ffaa,#55ffaa)"></i><i style="background:linear-gradient(90deg,#81ff7e,#79ff86,#6eff91,#63ff9c,#5bffa4,#56ffa9,#54ffab,#54ffab,#55ffaa,#57ffa8,#58ffa7,#5affa5,#5affa5,#5affa5,#59ffa6,#57ffa8,#56ffa9,#54ffab,#53ffac,#53ffac,#53ffac,#53ffac,#53ffac)"></i><i style="background:linear-gradient(90deg,#7dff82,#76ff89,#6bff94,#61ff9e,#59ffa6,#54ffab,#52ffad,#52ffad,#53ffac,#55ffaa,#56ffa9,#57ffa8,#58ffa7,#57ffa8,#56ffa9,#55ffaa,#54ffab,#52ffad,#51ffae,#51ffae,#51ffae,#51ffae,#51ffae)"></i><i style="background:linear-gradient(90deg,#79ff86,#73ff8c,#68ff97,#5effa1,#56ffa9,#52ffad,#50ffaf,#50ffaf,#51ffae,#53ffac,#54ffab,#55ffaa,#55ffaa,#55ffaa,#54ffab,#53ffac,#51ffae,#50ffaf,#4fffb0,#4fffb0,#4fffb0,#4fffb0,#4fffb0)"></i><i style="background:linear-gradient(90deg,#75ff8a,#6fff90,#65ff9a,#5bffa4,#54ffab,#50ffaf,#4effb1,#4effb1,#4fffb0,#50ffaf,#52ffad,#52ffad,#53ffac,#52ffad,#52ffad,#50ffaf,#4fffb0,#4effb1,#4dffb2,#4dffb2,#4dffb2,#4dffb2,#4dffb2)"></i><i style="background:linear-gradient(90deg,#71ff8e,#6bff94,#62ff9d,#59ffa6,#52ffad,#4dffb2,#4cffb3,#4cffb3,#4dffb2,#4effb1,#4fffb0,#50ffaf,#50ffaf,#50ffaf,#4fffb0,#4effb1,#4dffb2,#4cffb3,#4bffb4,#4bffb4,#4affb5,#4affb5,#4affb5)"></i><i style="background:linear-gradient(90deg,#6dff92,#68ff97,#5fffa0,#56ffa9,#4fffb0,#4bffb4,#4affb5,#4affb5,#4affb5,#4bffb4,#4cffb3,#4dffb2,#4effb1,#4dffb2,#4dffb2,#4cffb3,#4affb5,#49ffb6,#49ffb6,#48ffb7,#48ffb7,#48ffb7,#48ffb7)"></i><i style="background:linear-gradient(90deg,#69ff96,#64ff9b,#5bffa4,#53ffac,#4cffb3,#49ffb6,#47ffb8,#47ffb8,#48ffb7,#49ffb6,#4affb5,#4bffb4,#4bffb4,#4bffb4,#4affb5,#49ffb6,#48ffb7,#47ffb8,#46ffb9,#46ffb9,#46ffb9,#46ffb9,#46ffb9)"></i><i style="background:linear-gradient(90deg,#65ff9a,#60ff9f,#58ffa7,#50ffaf,#4affb5,#46ffb9,#45ffba,#45ffba,#45ffba,#46ffb9,#47ffb8,#48ffb7,#48ffb7,#48ffb7,#47ffb8,#47ffb8,#46ffb9,#45ffba,#44ffbb,#44ffbb,#44ffbb,#43ffbc,#43ffbc)"></i><i style="background:linear-gradient(90deg,#61ff9e,#5cffa3,#55ffaa,#4dffb2,#47ffb8,#44ffbb,#42ffbd,#42ffbd,#43ffbc,#44ffbb,#45ffba,#45ffba,#46ffb9,#45ffba,#45ffba,#44ffbb,#43ffbc,#42ffbd,#42ffbd,#41ffbe,#41ffbe,#41ffbe,#41ffbe)"></i><i style="background:linear-gradient(90deg,#5dffa2,#58ffa7,#51ffae,#4affb5,#45ffba,#41ffbe,#40ffbf,#40ffbf,#40ffbf,#41ffbe,#42ffbd,#43ffbc,#43ffbc,#43ffbc,#42ffbd,#42ffbd,#41ffbe,#40ffbf,#40ffbf,#3fffc0,#3fffc0,#3fffc0,#3fffc0)"></i><i style="background:linear-gradient(90deg,#59ffa6,#55ffaa,#4effb1,#47ffb8,#42ffbd,#3fffc0,#3effc1,#3effc1,#3effc1,#3fffc0,#3fffc0,#40ffbf,#40ffbf,#40ffbf,#40ffbf,#3fffc0,#3effc1,#3effc1,#3dffc2,#3dffc2,#3dffc2,#3dffc2,#3dffc2)"></i><i style="background:linear-gradient(90deg,#55ffaa,#51ffae,#4affb5,#44ffbb,#3fffc0,#3cffc3,#3bffc4,#3bffc4,#3bffc4,#3cffc3,#3dffc2,#3dffc2,#3dffc2,#3dffc2,#3dffc2,#3cffc3,#3cffc3,#3bffc4,#3bffc4,#3affc5,#3affc5,#3affc5,#3affc5)"></i><i style="background:linear-gradient(90deg,#50ffaf,#4dffb2,#47ffb8,#41ffbe,#3cffc3,#39ffc6,#38ffc7,#38ffc7,#38ffc7,#39ffc6,#3affc5,#3affc5,#3bffc4,#3affc5,#3affc5,#3affc5,#39ffc6,#38ffc7,#38ffc7,#38ffc7,#38ffc7,#38ffc7,#38ffc7)"></i><i style="background:linear-gradient(90deg,#4cffb3,#48ffb7,#43ffbc,#3dffc2,#39ffc6,#36ffc9,#35ffca,#35ffca,#35ffca,#36ffc9,#37ffc8,#37ffc8,#37ffc8,#37ffc8,#37ffc8,#37ffc8,#36ffc9,#36ffc9,#35ffca,#35ffca,#35ffca,#35ffca,#35ffca)"></i><i style="background:linear-gradient(90deg,#48ffb7,#44ffbb,#3fffc0,#3affc5,#36ffc9,#33ffcc,#32ffcd,#32ffcd,#32ffcd,#33ffcc,#34ffcb,#34ffcb,#34ffcb,#34ffcb,#34ffcb,#34ffcb,#33ffcc,#33ffcc,#32ffcd,#32ffcd,#32ffcd,#32ffcd,#32ffcd)"></i><i style="background:linear-gradient(90deg,#43ffbc,#40ffbf,#3bffc4,#36ffc9,#32ffcd,#30ffcf,#2fffd0,#2fffd0,#2fffd0,#30ffcf,#30ffcf,#31ffce,#31ffce,#31ffce,#31ffce,#31ffce,#30ffcf,#30ffcf,#2fffd0,#2fffd0,#2fffd0,#2fffd0,#2fffd0)"></i><i style="background:linear-gradient(90deg,#3fffc0,#3cffc3,#37ffc8,#33ffcc,#2fffd0,#2dffd2,#2cffd3,#2cffd3,#2cffd3,#2dffd2,#2dffd2,#2effd1,#2effd1,#2effd1,#2effd1,#2dffd2,#2dffd2,#2dffd2,#2cffd3,#2cffd3,#2cffd3,#2cffd3,#2cffd3)"></i><i style="background:linear-gradient(90deg,#3affc5,#38ffc7,#33ffcc,#2fffd0,#2cffd3,#2affd5,#29ffd6,#29ffd6,#29ffd6,#29ffd6,#2affd5,#2affd5,#2bffd4,#2bffd4,#2bffd4,#2affd5,#2affd5,#2affd5,#29ffd6,#29ffd6,#29ffd6,#29ffd6,#29ffd6)"></i><i style="background:linear-gradient(90deg,#36ffc9,#34ffcb,#30ffcf,#2cffd3,#29ffd6,#27ffd8,#26ffd9,#25ffda,#26ffd9,#26ffd9,#27ffd8,#27ffd8,#28ffd7,#28ffd7,#28ffd7,#27ffd8,#27ffd8,#27ffd8,#27ffd8,#26ffd9,#26ffd9,#26ffd9,#26ffd9)"></i><i style="background:linear-gradient(90deg,#32ffcd,#30ffcf,#2cffd3,#28ffd7,#25ffda,#23ffdc,#23ffdc,#22ffdd,#23ffdc,#23ffdc,#24ffdb,#24ffdb,#25ffda,#25ffda,#25ffda,#24ffdb,#24ffdb,#24ffdb,#24ffdb,#24ffdb,#23ffdc,#23ffdc,#23ffdc)"></i><i style="background:linear-gradient(90deg,#2effd1,#2cffd3,#28ffd7,#25ffda,#22ffdd,#20ffdf,#1fffe0,#1fffe0,#1fffe0,#20ffdf,#20ffdf,#21ffde,#21ffde,#22ffdd,#22ffdd,#21ffde,#21ffde,#21ffde,#21ffde,#21ffde,#20ffdf,#20ffdf,#20ffdf)"></i><i style="background:linear-gradient(90deg,#2affd5,#28ffd7,#25ffda,#21ffde,#1fffe0,#1dffe2,#1cffe3,#1cffe3,#1cffe3,#1cffe3,#1dffe2,#1effe1,#1effe1,#1effe1,#1effe1,#1effe1,#1effe1,#1effe1,#1effe1,#1dffe2,#1dffe2,#1dffe2,#1dffe2)"></i><i style="background:linear-gradient(90deg,#26ffd9,#24ffdb,#21ffde,#1effe1,#1bffe4,#19ffe6,#19ffe6,#18ffe7,#18ffe7,#19ffe6,#1affe5,#1affe5,#1bffe4,#1bffe4,#1bffe4,#1bffe4,#1bffe4,#1bffe4,#1bffe4,#1affe5,#1affe5,#1affe5,#1affe5)"></i><i style="background:linear-gradient(90deg,#22ffdd,#20ffdf,#1dffe2,#1affe5,#18ffe7,#16ffe9,#15ffea,#15ffea,#15ffea,#16ffe9,#16ffe9,#17ffe8,#18ffe7,#18ffe7,#18ffe7,#18ffe7,#18ffe7,#18ffe7,#18ffe7,#17ffe8,#17ffe8,#17ffe8,#17ffe8)"></i><i style="background:linear-gradient(90deg,#1effe1,#1cffe3,#1affe5,#17ffe8,#14ffeb,#13ffec,#12ffed,#11ffee,#12ffed,#12ffed,#13ffec,#14ffeb,#15ffea,#15ffea,#15ffea,#15ffea,#15ffea,#15ffea,#15ffea,#14ffeb,#14ffeb,#14ffeb,#14ffeb)"></i><i style="background:linear-gradient(90deg,#1affe5,#19ffe6,#16ffe9,#14ffeb,#11ffee,#0ffff0,#0efff1,#0efff1,#0efff1,#0ffff0,#10ffef,#11ffee,#12ffed,#12ffed,#12ffed,#12ffed,#12ffed,#12ffed,#12ffed,#11ffee,#11ffee,#11ffee,#11ffee)"></i><i style="background:linear-gradient(90deg,#17ffe8,#15ffea,#13ffec,#10ffef,#0efff1,#0cfff3,#0bfff4,#0bfff4,#0bfff4,#0cfff3,#0dfff2,#0efff1,#0ffff0,#0ffff0,#10ffef,#10ffef,#10ffef,#0ffff0,#0ffff0,#0ffff0,#0efff1,#0efff1,#0ffff0)"></i><i style="background:linear-gradient(90deg,#14ffeb,#12ffed,#10ffef,#0efff1,#0bfff4,#0afff5,#08fff7,#08fff7,#08fff7,#09fff6,#0afff5,#0cfff3,#0cfff3,#0dfff2,#0dfff2,#0dfff2,#0dfff2,#0dfff2,#0dfff2,#0cfff3,#0cfff3,#0cfff3,#0cfff3)"></i><i style="background:linear-gradient(90deg,#11ffee,#10ffef,#0dfff2,#0bfff4,#09fff6,#07fff8,#06fff9,#05fffa,#06fff9,#07fff8,#08fff7,#09fff6,#0afff5,#0bfff4,#0bfff4,#0bfff4,#0bfff4,#0bfff4,#0afff5,#0afff5,#0afff5,#0afff5,#0afff5)"></i><i style="background:linear-gradient(90deg,#0efff1,#0dfff2,#0bfff4,#09fff6,#06fff9,#04fffb,#03fffc,#03fffc,#03fffc,#04fffb,#06fff9,#07fff8,#08fff7,#09fff6,#09fff6,#09fff6,#09fff6,#09fff6,#08fff7,#08fff7,#07fff8,#07fff8,#08fff7)"></i><i style="background:linear-gradient(90deg,#0cfff3,#0bfff4,#09fff6,#06fff9,#04fffb,#02fffd,#01fffe,#00ffff,#01fffe,#02fffd,#03fffc,#05fffa,#06fff9,#07fff8,#07fff8,#07fff8,#07fff8,#07fff8,#06fff9,#06fff9,#05fffa,#05fffa,#05fffa)"></i><i style="background:linear-gradient(90deg,#0afff5,#08fff7,#06fff9,#04fffb,#02fffd,#00feff,#00fdff,#00fdff,#00fdff,#00feff,#01fffe,#03fffc,#04fffb,#05fffa,#05fffa,#06fff9,#05fffa,#05fffa,#04fffb,#04fffb,#03fffc,#03fffc,#03fffc)"></i><i style="background:linear-gradient(90deg,#07fff8,#06fff9,#04fffb,#02fffd,#00feff,#00fcff,#00fbff,#00faff,#00fbff,#00fcff,#00feff,#01fffe,#02fffd,#03fffc,#04fffb,#04fffb,#04fffb,#03fffc,#02fffd,#02fffd,#01fffe,#01fffe,#01fffe)"></i><i style="background:linear-gradient(90deg,#05fffa,#04fffb,#02fffd,#00ffff,#00fcff,#00faff,#00f8ff,#00f8ff,#00f8ff,#00faff,#00fcff,#00feff,#00ffff,#02fffd,#02fffd,#02fffd,#02fffd,#01fffe,#01fffe,#00ffff,#00feff,#00feff,#00feff)"></i><i style="background:linear-gradient(90deg,#03fffc,#02fffd,#00ffff,#00fdff,#00faff,#00f7ff,#00f6ff,#00f5ff,#00f6ff,#00f8ff,#00faff,#00fcff,#00feff,#00ffff,#01fffe,#01fffe,#00ffff,#00ffff,#00feff,#00fdff,#00fcff,#00fcff,#00fcff)"></i><i style="background:linear-gradient(90deg,#02fffd,#00ffff,#00fdff,#00fbff,#00f8ff,#00f5ff,#00f3ff,#00f3ff,#00f3ff,#00f5ff,#00f8ff,#00faff,#00fcff,#00fdff,#00feff,#00feff,#00feff,#00fdff,#00fcff,#00fbff,#00faff,#00faff,#00faff)"></i><i style="background:linear-gradient(90deg,#00ffff,#00fdff,#00fbff,#00f9ff,#00f5ff,#00f3ff,#00f1ff,#00f0ff,#00f1ff,#00f3ff,#00f6ff,#00f8ff,#00faff,#00fcff,#00fcff,#00fdff,#00fcff,#00fbff,#00faff,#00f9ff,#00f8ff,#00f8ff,#00f8ff)"></i><i style="background:linear-gradient(90deg,#00fdff,#00fcff,#00f9ff,#00f7ff,#00f3ff,#00f0ff,#00eeff,#00eeff,#00eeff,#00f1ff,#00f4ff,#00f6ff,#00f9ff,#00faff,#00fbff,#00fbff,#00fbff,#00faff,#00f8ff,#00f7ff,#00f6ff,#00f5ff,#00f6ff)"></i><i style="background:linear-gradient(90deg,#00fbff,#00faff,#00f8ff,#00f5ff,#00f1ff,#00eeff,#00ecff,#00ebff,#00ecff,#00eeff,#00f1ff,#00f5ff,#00f7ff,#00f9ff,#00faff,#00faff,#00f9ff,#00f8ff,#00f7ff,#00f5ff,#00f3ff,#00f3ff,#00f4ff)"></i><i style="background:linear-gradient(90deg,#00faff,#00f8ff,#00f6ff,#00f3ff,#00efff,#00ecff,#00e9ff,#00e8ff,#00e9ff,#00ecff,#00efff,#00f3ff,#00f5ff,#00f7ff,#00f8ff,#00f8ff,#00f8ff,#00f7ff,#00f5ff,#00f3ff,#00f1ff,#00f1ff,#00f2ff)"></i><i style="background:linear-gradient(90deg,#00f8ff,#00f7ff,#00f4ff,#00f1ff,#00edff,#00e9ff,#00e7ff,#00e6ff,#00e7ff,#00eaff,#00edff,#00f1ff,#00f4ff,#00f6ff,#00f7ff,#00f7ff,#00f6ff,#00f5ff,#00f3ff,#00f1ff,#00efff,#00efff,#00f0ff)"></i><i style="background:linear-gradient(90deg,#00f6ff,#00f5ff,#00f2ff,#00efff,#00ebff,#00e7ff,#00e4ff,#00e3ff,#00e4ff,#00e7ff,#00ebff,#00efff,#00f2ff,#00f4ff,#00f5ff,#00f5ff,#00f5ff,#00f3ff,#00f1ff,#00eeff,#00edff,#00ecff,#00edff)"></i><i style="background:linear-gradient(90deg,#00f5ff,#00f3ff,#00f0ff,#00edff,#00e8ff,#00e4ff,#00e1ff,#00e0ff,#00e2ff,#00e5ff,#00e9ff,#00edff,#00f0ff,#00f3ff,#00f4ff,#00f4ff,#00f3ff,#00f1ff,#00efff,#00ecff,#00eaff,#00eaff,#00ebff)"></i><i style="background:linear-gradient(90deg,#00f3ff,#00f1ff,#00efff,#00ebff,#00e6ff,#00e2ff,#00dfff,#00deff,#00dfff,#00e3ff,#00e7ff,#00ebff,#00efff,#00f1ff,#00f2ff,#00f2ff,#00f2ff,#00f0ff,#00edff,#00eaff,#00e8ff,#00e7ff,#00e9ff)"></i><i style="background:linear-gradient(90deg,#00f2ff,#00f0ff,#00edff,#00e9ff,#00e4ff,#00dfff,#00dcff,#00dbff,#00ddff,#00e0ff,#00e5ff,#00e9ff,#00edff,#00efff,#00f1ff,#00f1ff,#00f0ff,#00eeff,#00ebff,#00e8ff,#00e5ff,#00e5ff,#00e6ff)"></i><i style="background:linear-gradient(90deg,#00f0ff,#00eeff,#00ebff,#00e7ff,#00e2ff,#00ddff,#00d9ff,#00d8ff,#00daff,#00deff,#00e3ff,#00e7ff,#00ebff,#00eeff,#00efff,#00efff,#00eeff,#00ecff,#00e9ff,#00e5ff,#00e3ff,#00e2ff,#00e4ff)"></i><i style="background:linear-gradient(90deg,#00efff,#00edff,#00e9ff,#00e5ff,#00e0ff,#00dbff,#00d7ff,#00d6ff,#00d7ff,#00dbff,#00e1ff,#00e6ff,#00eaff,#00ecff,#00eeff,#00eeff,#00edff,#00eaff,#00e7ff,#00e3ff,#00e0ff,#00dfff,#00e1ff)"></i><i style="background:linear-gradient(90deg,#00edff,#00ebff,#00e8ff,#00e3ff,#00deff,#00d8ff,#00d4ff,#00d3ff,#00d5ff,#00d9ff,#00dfff,#00e4ff,#00e8ff,#00ebff,#00edff,#00edff,#00ecff,#00e9ff,#00e5ff,#00e1ff,#00deff,#00ddff,#00dfff)"></i><i style="background:linear-gradient(90deg,#00ecff,#00eaff,#00e6ff,#00e1ff,#00dcff,#00d6ff,#00d2ff,#00d1ff,#00d3ff,#00d7ff,#00ddff,#00e2ff,#00e7ff,#00eaff,#00ebff,#00ebff,#00eaff,#00e7ff,#00e3ff,#00dfff,#00dbff,#00daff,#00ddff)"></i><i style="background:linear-gradient(90deg,#00ebff,#00e9ff,#00e5ff,#00e0ff,#00daff,#00d4ff,#00d0ff,#00cfff,#00d1ff,#00d5ff,#00dbff,#00e1ff,#00e5ff,#00e9ff,#00eaff,#00eaff,#00e9ff,#00e6ff,#00e1ff,#00dcff,#00d9ff,#00d8ff,#00daff)"></i><i style="background:linear-gradient(90deg,#00eaff,#00e7ff,#00e4ff,#00deff,#00d8ff,#00d2ff,#00ceff,#00cdff,#00cfff,#00d3ff,#00d9ff,#00dfff,#00e4ff,#00e8ff,#00e9ff,#00e9ff,#00e8ff,#00e4ff,#00e0ff,#00dbff,#00d7ff,#00d6ff,#00d8ff)"></i><i style="background:linear-gradient(90deg,#00e9ff,#00e6ff,#00e3ff,#00ddff,#00d7ff,#00d1ff,#00ccff,#00cbff,#00cdff,#00d2ff,#00d8ff,#00deff,#00e3ff,#00e7ff,#00e8ff,#00e8ff,#00e7ff,#00e3ff,#00deff,#00d9ff,#00d5ff,#00d4ff,#00d7ff)"></i><i style="background:linear-gradient(90deg,#00e8ff,#00e6ff,#00e2ff,#00dcff,#00d5ff,#00cfff,#00caff,#00c9ff,#00cbff,#00d0ff,#00d7ff,#00ddff,#00e2ff,#00e6ff,#00e8ff,#00e8ff,#00e6ff,#00e2ff,#00ddff,#00d7ff,#00d3ff,#00d2ff,#00d5ff)"></i><i style="background:linear-gradient(90deg,#00e7ff,#00e5ff,#00e1ff,#00dbff,#00d4ff,#00ceff,#00c9ff,#00c7ff,#00caff,#00cfff,#00d6ff,#00dcff,#00e2ff,#00e5ff,#00e7ff,#00e7ff,#00e5ff,#00e1ff,#00dcff,#00d6ff,#00d1ff,#00d0ff,#00d3ff)"></i><i style="background:linear-gradient(90deg,#00e7ff,#00e4ff,#00e0ff,#00daff,#00d3ff,#00ccff,#00c8ff,#00c6ff,#00c8ff,#00ceff,#00d5ff,#00dbff,#00e1ff,#00e4ff,#00e6ff,#00e6ff,#00e4ff,#00e0ff,#00dbff,#00d4ff,#00d0ff,#00cfff,#00d2ff)"></i><i style="background:linear-gradient(90deg,#00e6ff,#00e4ff,#00dfff,#00d9ff,#00d2ff,#00cbff,#00c6ff,#00c5ff,#00c7ff,#00cdff,#00d4ff,#00daff,#00e0ff,#00e4ff,#00e6ff,#00e6ff,#00e4ff,#00e0ff,#00daff,#00d3ff,#00ceff,#00cdff,#00d0ff)"></i><i style="background:linear-gradient(90deg,#00e6ff,#00e3ff,#00dfff,#00d8ff,#00d1ff,#00caff,#00c5ff,#00c4ff,#00c6ff,#00ccff,#00d3ff,#00daff,#00dfff,#00e3ff,#00e5ff,#00e5ff,#00e3ff,#00dfff,#00d9ff,#00d2ff,#00cdff,#00ccff,#00cfff)"></i><i style="background:linear-gradient(90deg,#00e5ff,#00e2ff,#00deff,#00d8ff,#00d0ff,#00c9ff,#00c4ff,#00c3ff,#00c5ff,#00cbff,#00d2ff,#00d9ff,#00dfff,#00e3ff,#00e5ff,#00e5ff,#00e2ff,#00deff,#00d8ff,#00d1ff,#00ccff,#00cbff,#00ceff)"></i><i style="background:linear-gradient(90deg,#00e5ff,#00e2ff,#00ddff,#00d7ff,#00d0ff,#00c9ff,#00c3ff,#00c2ff,#00c4ff,#00caff,#00d1ff,#00d8ff,#00deff,#00e2ff,#00e4ff,#00e4ff,#00e2ff,#00ddff,#00d7ff,#00d0ff,#00cbff,#00caff,#00cdff)"></i><i style="background:linear-gradient(90deg,#00e4ff,#00e1ff,#00ddff,#00d7ff,#00cfff,#00c8ff,#00c3ff,#00c1ff,#00c4ff,#00c9ff,#00d1ff,#00d8ff,#00deff,#00e2ff,#00e4ff,#00e4ff,#00e1ff,#00ddff,#00d6ff,#00cfff,#00caff,#00c9ff,#00ccff)"></i><i style="background:linear-gradient(90deg,#00e4ff,#00e1ff,#00dcff,#00d6ff,#00cfff,#00c7ff,#00c2ff,#00c1ff,#00c3ff,#00c9ff,#00d0ff,#00d7ff,#00ddff,#00e1ff,#00e3ff,#00e3ff,#00e1ff,#00dcff,#00d6ff,#00ceff,#00c9ff,#00c8ff,#00cbff)"></i><i style="background:linear-gradient(90deg,#00e3ff,#00e1ff,#00dcff,#00d6ff,#00ceff,#00c7ff,#00c2ff,#00c0ff,#00c3ff,#00c8ff,#00d0ff,#00d7ff,#00ddff,#00e1ff,#00e3ff,#00e3ff,#00e1ff,#00dcff,#00d5ff,#00ceff,#00c9ff,#00c8ff,#00cbff)"></i><i style="background:linear-gradient(90deg,#00e3ff,#00e0ff,#00dcff,#00d6ff,#00ceff,#00c7ff,#00c2ff,#00c0ff,#00c3ff,#00c8ff,#00d0ff,#00d7ff,#00ddff,#00e1ff,#00e3ff,#00e3ff,#00e0ff,#00dcff,#00d5ff,#00ceff,#00c9ff,#00c7ff,#00cbff)"></i><i style="background:linear-gradient(90deg,#00e3ff,#00e0ff,#00dcff,#00d6ff,#00ceff,#00c7ff,#00c2ff,#00c0ff,#00c3ff,#00c8ff,#00d0ff,#00d7ff,#00ddff,#00e1ff,#00e3ff,#00e2ff,#00e0ff,#00dcff,#00d5ff,#00ceff,#00c9ff,#00c7ff,#00cbff)"></i><i style="background:linear-gradient(90deg,#00e3ff,#00e0ff,#00dcff,#00d6ff,#00ceff,#00c7ff,#00c2ff,#00c1ff,#00c3ff,#00c9ff,#00d0ff,#00d7ff,#00ddff,#00e1ff,#00e2ff,#00e2ff,#00e0ff,#00dcff,#00d5ff,#00ceff,#00c9ff,#00c8ff,#00cbff)"></i><i style="background:linear-gradient(90deg,#00e3ff,#00e0ff,#00dcff,#00d6ff,#00cfff,#00c8ff,#00c3ff,#00c1ff,#00c3ff,#00c9ff,#00d0ff,#00d7ff,#00ddff,#00e1ff,#00e3ff,#00e3ff,#00e0ff,#00dcff,#00d5ff,#00ceff,#00c9ff,#00c8ff,#00cbff)"></i><i style="background:linear-gradient(90deg,#00e3ff,#00e1ff,#00ddff,#00d7ff,#00d0ff,#00c9ff,#00c4ff,#00c2ff,#00c5ff,#00caff,#00d1ff,#00d8ff,#00deff,#00e1ff,#00e3ff,#00e3ff,#00e1ff,#00dcff,#00d6ff,#00cfff,#00caff,#00c9ff,#00ccff)"></i><i style="background:linear-gradient(90deg,#00e4ff,#00e2ff,#00deff,#00d8ff,#00d1ff,#00caff,#00c5ff,#00c4ff,#00c6ff,#00cbff,#00d2ff,#00d9ff,#00dfff,#00e2ff,#00e4ff,#00e4ff,#00e2ff,#00deff,#00d7ff,#00d1ff,#00ccff,#00cbff,#00ceff)"></i><i style="background:linear-gradient(90deg,#00e6ff,#00e3ff,#00dfff,#00d9ff,#00d3ff,#00ccff,#00c7ff,#00c6ff,#00c8ff,#00cdff,#00d4ff,#00dbff,#00e0ff,#00e4ff,#00e5ff,#00e5ff,#00e3ff,#00dfff,#00d9ff,#00d3ff,#00ceff,#00cdff,#00d0ff)"></i><i style="background:linear-gradient(90deg,#00e7ff,#00e5ff,#00e1ff,#00dbff,#00d5ff,#00ceff,#00caff,#00c8ff,#00cbff,#00d0ff,#00d6ff,#00ddff,#00e2ff,#00e5ff,#00e7ff,#00e7ff,#00e5ff,#00e1ff,#00dbff,#00d5ff,#00d0ff,#00cfff,#00d2ff)"></i><i style="background:linear-gradient(90deg,#00e9ff,#00e7ff,#00e3ff,#00deff,#00d7ff,#00d1ff,#00cdff,#00cbff,#00cdff,#00d2ff,#00d9ff,#00dfff,#00e4ff,#00e7ff,#00e9ff,#00e9ff,#00e7ff,#00e3ff,#00deff,#00d8ff,#00d3ff,#00d2ff,#00d5ff)"></i><i style="background:linear-gradient(90deg,#00ecff,#00e9ff,#00e6ff,#00e0ff,#00daff,#00d4ff,#00d0ff,#00cfff,#00d1ff,#00d5ff,#00dcff,#00e2ff,#00e6ff,#00eaff,#00ebff,#00ebff,#00eaff,#00e6ff,#00e1ff,#00dbff,#00d7ff,#00d6ff,#00d8ff)"></i><i style="background:linear-gradient(90deg,#00eeff,#00ecff,#00e8ff,#00e3ff,#00ddff,#00d8ff,#00d4ff,#00d2ff,#00d4ff,#00d9ff,#00dfff,#00e4ff,#00e9ff,#00ecff,#00eeff,#00eeff,#00ecff,#00e9ff,#00e4ff,#00deff,#00daff,#00d9ff,#00dcff)"></i><i style="background:linear-gradient(90deg,#00f1ff,#00efff,#00ebff,#00e6ff,#00e1ff,#00dbff,#00d7ff,#00d6ff,#00d8ff,#00dcff,#00e2ff,#00e7ff,#00ecff,#00efff,#00f1ff,#00f1ff,#00efff,#00ecff,#00e7ff,#00e2ff,#00deff,#00ddff,#00e0ff)"></i><i style="background:linear-gradient(90deg,#00f4ff,#00f2ff,#00eeff,#00eaff,#00e4ff,#00dfff,#00dbff,#00daff,#00dcff,#00e0ff,#00e5ff,#00ebff,#00efff,#00f2ff,#00f3ff,#00f3ff,#00f2ff,#00efff,#00eaff,#00e5ff,#00e2ff,#00e1ff,#00e3ff)"></i><i style="background:linear-gradient(90deg,#00f7ff,#00f5ff,#00f2ff,#00edff,#00e8ff,#00e3ff,#00dfff,#00deff,#00e0ff,#00e4ff,#00e9ff,#00eeff,#00f2ff,#00f5ff,#00f6ff,#00f6ff,#00f5ff,#00f2ff,#00eeff,#00e9ff,#00e6ff,#00e5ff,#00e7ff)"></i><i style="background:linear-gradient(90deg,#00faff,#00f8ff,#00f5ff,#00f1ff,#00ecff,#00e7ff,#00e4ff,#00e3ff,#00e4ff,#00e8ff,#00edff,#00f2ff,#00f6ff,#00f8ff,#00faff,#00faff,#00f8ff,#00f6ff,#00f2ff,#00eeff,#00eaff,#00eaff,#00ecff)"></i><i style="background:linear-gradient(90deg,#00feff,#00fdff,#00faff,#00f6ff,#00f1ff,#00edff,#00e9ff,#00e8ff,#00eaff,#00eeff,#00f2ff,#00f7ff,#00faff,#00fdff,#00feff,#00feff,#00fdff,#00fbff,#00f7ff,#00f3ff,#00f0ff,#00f0ff,#00f1ff)"></i><i style="background:linear-gradient(90deg,#05fffa,#03fffc,#01fffe,#00fcff,#00f8ff,#00f3ff,#00f0ff,#00efff,#00f1ff,#00f4ff,#00f9ff,#00fdff,#01fffe,#04fffb,#05fffa,#05fffa,#04fffb,#02fffd,#00fdff,#00faff,#00f7ff,#00f6ff,#00f8ff)"></i><i style="background:linear-gradient(90deg,#0bfff4,#0afff5,#07fff8,#04fffb,#00ffff,#00fbff,#00f8ff,#00f7ff,#00f8ff,#00fbff,#01fffe,#05fffa,#08fff7,#0afff5,#0bfff4,#0bfff4,#0afff5,#08fff7,#05fffa,#02fffd,#00feff,#00feff,#00ffff)"></i><i style="background:linear-gradient(90deg,#12ffed,#10ffef,#0efff1,#0bfff4,#07fff8,#03fffc,#00ffff,#00ffff,#01fffe,#04fffb,#08fff7,#0cfff3,#0ffff0,#11ffee,#12ffed,#12ffed,#11ffee,#0ffff0,#0cfff3,#09fff6,#07fff8,#06fff9,#08fff7)"></i><i style="background:linear-gradient(90deg,#18ffe7,#17ffe8,#14ffeb,#11ffee,#0efff1,#0afff5,#08fff7,#07fff8,#08fff7,#0bfff4,#0ffff0,#12ffed,#15ffea,#17ffe8,#18ffe7,#18ffe7,#17ffe8,#16ffe9,#13ffec,#10ffef,#0efff1,#0efff1,#0ffff0)"></i><i style="background:linear-gradient(90deg,#1effe1,#1dffe2,#1bffe4,#18ffe7,#14ffeb,#11ffee,#0ffff0,#0efff1,#0ffff0,#12ffed,#16ffe9,#19ffe6,#1bffe4,#1dffe2,#1effe1,#1effe1,#1effe1,#1cffe3,#1affe5,#17ffe8,#15ffea,#15ffea,#16ffe9)"></i><i style="background:linear-gradient(90deg,#24ffdb,#23ffdc,#21ffde,#1effe1,#1bffe4,#18ffe7,#16ffe9,#15ffea,#17ffe8,#19ffe6,#1cffe3,#1fffe0,#22ffdd,#24ffdb,#24ffdb,#24ffdb,#24ffdb,#22ffdd,#20ffdf,#1effe1,#1cffe3,#1cffe3,#1dffe2)"></i><i style="background:linear-gradient(90deg,#2affd5,#29ffd6,#27ffd8,#25ffda,#22ffdd,#1fffe0,#1dffe2,#1dffe2,#1effe1,#20ffdf,#23ffdc,#26ffd9,#28ffd7,#2affd5,#2bffd4,#2bffd4,#2affd5,#29ffd6,#27ffd8,#25ffda,#24ffdb,#23ffdc,#24ffdb)"></i><i style="background:linear-gradient(90deg,#30ffcf,#2fffd0,#2effd1,#2cffd3,#29ffd6,#26ffd9,#25ffda,#24ffdb,#25ffda,#28ffd7,#2bffd4,#2dffd2,#2fffd0,#31ffce,#32ffcd,#32ffcd,#31ffce,#30ffcf,#2effd1,#2cffd3,#2bffd4,#2bffd4,#2cffd3)"></i><i style="background:linear-gradient(90deg,#37ffc8,#36ffc9,#35ffca,#33ffcc,#30ffcf,#2effd1,#2cffd3,#2cffd3,#2dffd2,#30ffcf,#32ffcd,#35ffca,#37ffc8,#38ffc7,#39ffc6,#39ffc6,#38ffc7,#37ffc8,#35ffca,#34ffcb,#32ffcd,#32ffcd,#33ffcc)"></i><i style="background:linear-gradient(90deg,#3effc1,#3dffc2,#3cffc3,#3affc5,#38ffc7,#36ffc9,#34ffcb,#34ffcb,#35ffca,#38ffc7,#3affc5,#3dffc2,#3effc1,#3fffc0,#40ffbf,#40ffbf,#3fffc0,#3effc1,#3dffc2,#3bffc4,#3affc5,#3affc5,#3bffc4)"></i><i style="background:linear-gradient(90deg,#45ffba,#44ffbb,#43ffbc,#41ffbe,#3fffc0,#3dffc2,#3cffc3,#3cffc3,#3dffc2,#40ffbf,#42ffbd,#44ffbb,#46ffb9,#47ffb8,#48ffb7,#48ffb7,#47ffb8,#46ffb9,#44ffbb,#43ffbc,#42ffbd,#42ffbd,#43ffbc)"></i><i style="background:linear-gradient(90deg,#4cffb3,#4bffb4,#4affb5,#49ffb6,#47ffb8,#45ffba,#44ffbb,#44ffbb,#46ffb9,#48ffb7,#4affb5,#4dffb2,#4effb1,#4fffb0,#50ffaf,#4fffb0,#4fffb0,#4dffb2,#4cffb3,#4bffb4,#4affb5,#4affb5,#4bffb4)"></i><i style="background:linear-gradient(90deg,#53ffac,#53ffac,#52ffad,#50ffaf,#4fffb0,#4dffb2,#4cffb3,#4cffb3,#4effb1,#51ffae,#53ffac,#55ffaa,#57ffa8,#58ffa7,#58ffa7,#58ffa7,#57ffa8,#55ffaa,#54ffab,#53ffac,#53ffac,#53ffac,#54ffab)"></i><i style="background:linear-gradient(90deg,#5bffa4,#5bffa4,#5affa5,#58ffa7,#57ffa8,#55ffaa,#54ffab,#55ffaa,#57ffa8,#5affa5,#5dffa2,#5fffa0,#60ff9f,#61ff9e,#61ff9e,#61ff9e,#60ff9f,#5effa1,#5dffa2,#5cffa3,#5cffa3,#5cffa3,#5dffa2)"></i><i style="background:linear-gradient(90deg,#64ff9b,#63ff9c,#62ff9d,#61ff9e,#5fffa0,#5effa1,#5dffa2,#5effa1,#61ff9e,#65ff9a,#67ff98,#69ff96,#6aff95,#6bff94,#6cff93,#6bff94,#69ff96,#68ff97,#66ff99,#66ff99,#65ff9a,#66ff99,#67ff98)"></i><i style="background:linear-gradient(90deg,#6dff92,#6cff93,#6bff94,#6aff95,#69ff96,#68ff97,#67ff98,#68ff97,#6cff93,#70ff8f,#73ff8c,#75ff8a,#76ff89,#77ff88,#77ff88,#77ff88,#75ff8a,#72ff8d,#71ff8e,#70ff8f,#70ff8f,#71ff8e,#72ff8d)"></i><i style="background:linear-gradient(90deg,#77ff88,#76ff89,#76ff89,#75ff8a,#73ff8c,#72ff8d,#72ff8d,#73ff8c,#78ff87,#7eff81,#82ff7d,#85ff7a,#86ff79,#86ff79,#87ff78,#85ff7a,#82ff7d,#7fff80,#7eff81,#7dff82,#7dff82,#7eff81,#80ff7f)"></i><i style="background:linear-gradient(90deg,#84ff7b,#83ff7c,#82ff7d,#81ff7e,#80ff7f,#7fff80,#7fff80,#81ff7e,#88ff77,#90ff6f,#95ff6a,#98ff67,#98ff67,#99ff66,#99ff66,#97ff68,#94ff6b,#90ff6f,#8dff72,#8dff72,#8dff72,#8eff71,#91ff6e)"></i><i style="background:linear-gradient(90deg,#93ff6c,#93ff6c,#92ff6d,#91ff6e,#90ff6f,#8fff70,#8eff71,#92ff6d,#9aff65,#a3ff5c,#a8ff57,#abff54,#acff53,#acff53,#adff52,#abff54,#a6ff59,#a2ff5d,#9fff60,#9fff60,#9fff60,#a1ff5e,#a3ff5c)"></i><i style="background:linear-gradient(90deg,#a4ff5b,#a3ff5c,#a2ff5d,#a2ff5d,#a1ff5e,#a0ff5f,#9fff60,#a3ff5c,#adff52,#b6ff49,#bbff44,#bfff40,#bfff40,#c0ff3f,#c0ff3f,#beff41,#b9ff46,#b4ff4b,#b2ff4d,#b2ff4d,#b2ff4d,#b3ff4c,#b6ff49)"></i><i style="background:linear-gradient(90deg,#b6ff49,#b5ff4a,#b4ff4b,#b3ff4c,#b2ff4d,#b1ff4e,#b1ff4e,#b5ff4a,#beff41,#c8ff37,#cdff32,#d0ff2f,#d1ff2e,#d1ff2e,#d1ff2e,#cfff30,#cbff34,#c6ff39,#c3ff3c,#c3ff3c,#c4ff3b,#c5ff3a,#c8ff37)"></i><i style="background:linear-gradient(90deg,#c6ff39,#c5ff3a,#c4ff3b,#c3ff3c,#c3ff3c,#c2ff3d,#c2ff3d,#c6ff39,#cfff30,#d9ff26,#dfff20,#e2ff1d,#e2ff1d,#e3ff1c,#e3ff1c,#e1ff1e,#dcff23,#d6ff29,#d4ff2b,#d4ff2b,#d4ff2b,#d6ff29,#d9ff26)"></i><i style="background:linear-gradient(90deg,#d6ff29,#d5ff2a,#d4ff2b,#d3ff2c,#d3ff2c,#d2ff2d,#d2ff2d,#d6ff29,#e0ff1f,#ebff14,#f1ff0e,#f4ff0b,#f5ff0a,#f5ff0a,#f5ff0a,#f3ff0c,#edff12,#e7ff18,#e5ff1a,#e5ff1a,#e5ff1a,#e7ff18,#eaff15)"></i><i style="background:linear-gradient(90deg,#e7ff18,#e6ff19,#e5ff1a,#e4ff1b,#e3ff1c,#e3ff1c,#e2ff1d,#e7ff18,#f2ff0d,#fdff02,#fffa00,#fff600,#fff500,#fff500,#fff500,#fff800,#fffe00,#f9ff06,#f6ff09,#f6ff09,#f7ff08,#f9ff06,#fdff02)"></i><i style="background:linear-gradient(90deg,#f9ff06,#f7ff08,#f6ff09,#f5ff0a,#f5ff0a,#f4ff0b,#f4ff0b,#f9ff06,#fff900,#ffec00,#ffe400,#ffe000,#ffe000,#ffe000,#ffe000,#ffe300,#ffea00,#fff100,#fff400,#fff400,#fff300,#fff100,#ffed00)"></i><i style="background:linear-gradient(90deg,#fff100,#fff300,#fff400,#fff500,#fff600,#fff600,#fff700,#fff100,#ffe400,#ffd600,#ffce00,#ffca00,#ffc900,#ffc900,#ffc900,#ffcd00,#ffd400,#ffdb00,#ffdf00,#ffdf00,#ffde00,#ffdc00,#ffd700)"></i><i style="background:linear-gradient(90deg,#ffdb00,#ffdd00,#ffdf00,#ffe000,#ffe000,#ffe100,#ffe100,#ffdb00,#ffcd00,#ffbf00,#ffb700,#ffb200,#ffb200,#ffb200,#ffb200,#ffb500,#ffbd00,#ffc500,#ffc900,#ffc900,#ffc800,#ffc500,#ffc000)"></i><i style="background:linear-gradient(90deg,#ffc300,#ffc600,#ffc700,#ffc900,#ffc900,#ffca00,#ffca00,#ffc400,#ffb500,#ffa700,#ff9f00,#ff9b00,#ff9a00,#ff9a00,#ff9a00,#ff9e00,#ffa500,#ffae00,#ffb200,#ffb100,#ffb000,#ffae00,#ffa800)"></i><i style="background:linear-gradient(90deg,#ffaa00,#ffad00,#ffaf00,#ffb000,#ffb100,#ffb200,#ffb200,#ffab00,#ff9d00,#ff8f00,#ff8700,#ff8300,#ff8200,#ff8200,#ff8200,#ff8600,#ff8d00,#ff9600,#ff9a00,#ff9a00,#ff9800,#ff9500,#ff9000)"></i><i style="background:linear-gradient(90deg,#ff9000,#ff9300,#ff9600,#ff9700,#ff9800,#ff9900,#ff9900,#ff9200,#ff8400,#ff7600,#ff6e00,#ff6900,#ff6900,#ff6900,#ff6900,#ff6d00,#ff7400,#ff7d00,#ff8200,#ff8100,#ff8000,#ff7d00,#ff7700)"></i><i style="background:linear-gradient(90deg,#ff7500,#ff7900,#ff7c00,#ff7e00,#ff7f00,#ff7f00,#ff8000,#ff7900,#ff6a00,#ff5b00,#ff5300,#ff4e00,#ff4e00,#ff4e00,#ff4e00,#ff5200,#ff5a00,#ff6300,#ff6800,#ff6700,#ff6600,#ff6300,#ff5c00)"></i><i style="background:linear-gradient(90deg,#ff5700,#ff5c00,#ff6000,#ff6200,#ff6300,#ff6400,#ff6400,#ff5d00,#ff4e00,#ff4000,#ff3800,#ff3300,#ff3300,#ff3300,#ff3300,#ff3600,#ff3e00,#ff4700,#ff4c00,#ff4c00,#ff4a00,#ff4700,#ff4000)"></i><i style="background:linear-gradient(90deg,#ff3900,#ff3e00,#ff4200,#ff4500,#ff4600,#ff4700,#ff4700,#ff4100,#ff3200,#ff2500,#ff1e00,#ff1a00,#ff1900,#ff1900,#ff1900,#ff1d00,#ff2300,#ff2d00,#ff3200,#ff3100,#ff3000,#ff2c00,#ff2500)"></i><i style="background:linear-gradient(90deg,#ff1c00,#ff2200,#ff2700,#ff2a00,#ff2b00,#ff2c00,#ff2c00,#ff2600,#ff1900,#ff0d00,#ff0700,#ff0300,#ff0200,#ff0200,#ff0300,#ff0600,#ff0b00,#ff1400,#ff1900,#ff1900,#ff1700,#ff1300,#ff0c00)"></i><i style="background:linear-gradient(90deg,#ff0300,#ff0a00,#ff0f00,#ff1200,#ff1400,#ff1500,#ff1500,#ff1000,#ff0400,#f80000,#f20000,#ee0000,#ed0000,#ed0000,#ee0000,#f10000,#f60000,#ff0000,#ff0500,#ff0500,#ff0300,#fe0000,#f60000)"></i><i style="background:linear-gradient(90deg,#ec0000,#f40000,#fa0000,#fe0000,#ff0100,#ff0200,#ff0200,#fb0000,#ef0000,#e50000,#df0000,#db0000,#da0000,#db0000,#dc0000,#de0000,#e30000,#ed0000,#f20000,#f10000,#ef0000,#eb0000,#e20000)"></i><i style="background:linear-gradient(90deg,#d80000,#e10000,#e70000,#eb0000,#ee0000,#ef0000,#ef0000,#e90000,#de0000,#d40000,#ce0000,#ca0000,#c90000,#c90000,#ca0000,#cd0000,#d20000,#db0000,#e10000,#e10000,#de0000,#d90000,#d00000)"></i><i style="background:linear-gradient(90deg,#c60000,#d00000,#d70000,#db0000,#de0000,#df0000,#df0000,#da0000,#ce0000,#c40000,#bf0000,#bb0000,#ba0000,#ba0000,#bb0000,#be0000,#c20000,#cc0000,#d20000,#d20000,#cf0000,#ca0000,#c10000)"></i><i style="background:linear-gradient(90deg,#b70000,#c20000,#c90000,#ce0000,#d10000,#d20000,#d20000,#cd0000,#c10000,#b80000,#b30000,#af0000,#ad0000,#ae0000,#af0000,#b10000,#b60000,#c00000,#c60000,#c60000,#c30000,#bd0000,#b40000)"></i><i style="background:linear-gradient(90deg,#ab0000,#b60000,#be0000,#c30000,#c60000,#c80000,#c80000,#c20000,#b60000,#ad0000,#a80000,#a40000,#a20000,#a20000,#a40000,#a60000,#ab0000,#b50000,#bc0000,#bb0000,#b90000,#b30000,#a80000)"></i><i style="background:linear-gradient(90deg,#9f0000,#ab0000,#b30000,#b80000,#bb0000,#bd0000,#bd0000,#b70000,#ab0000,#a20000,#9d0000,#990000,#970000,#980000,#990000,#9b0000,#a00000,#ab0000,#b10000,#b10000,#ae0000,#a80000,#9d0000)"></i><i style="background:linear-gradient(90deg,#950000,#a10000,#aa0000,#af0000,#b20000,#b40000,#b40000,#ae0000,#a20000,#990000,#940000,#900000,#8f0000,#8f0000,#900000,#920000,#970000,#a20000,#a90000,#a80000,#a50000,#9f0000,#940000)"></i><i style="background:linear-gradient(90deg,#8f0000,#9c0000,#a40000,#a90000,#ac0000,#ae0000,#ae0000,#a80000,#9d0000,#940000,#8f0000,#8c0000,#8a0000,#8a0000,#8c0000,#8e0000,#920000,#9d0000,#a40000,#a30000,#a00000,#9a0000,#8f0000)"></i><i style="background:linear-gradient(90deg,#900000,#9c0000,#a40000,#a90000,#ac0000,#ae0000,#ae0000,#a80000,#9e0000,#950000,#910000,#8d0000,#8b0000,#8c0000,#8d0000,#8f0000,#930000,#9e0000,#a40000,#a30000,#a10000,#9b0000,#900000)"></i><i style="background:linear-gradient(90deg,#970000,#a20000,#aa0000,#af0000,#b20000,#b30000,#b30000,#ae0000,#a40000,#9c0000,#970000,#940000,#920000,#930000,#940000,#960000,#9a0000,#a40000,#aa0000,#a90000,#a70000,#a10000,#970000)"></i><i style="background:linear-gradient(90deg,#a10000,#ac0000,#b30000,#b80000,#ba0000,#bc0000,#bc0000,#b70000,#ad0000,#a60000,#a20000,#9e0000,#9d0000,#9d0000,#9f0000,#a00000,#a40000,#ad0000,#b30000,#b30000,#b00000,#ab0000,#a20000)"></i><i style="background:linear-gradient(90deg,#ad0000,#b60000,#bd0000,#c10000,#c40000,#c50000,#c50000,#c10000,#b80000,#b10000,#ad0000,#aa0000,#a80000,#a90000,#aa0000,#ac0000,#af0000,#b80000,#bd0000,#bd0000,#ba0000,#b50000,#ad0000)"></i><i style="background:linear-gradient(90deg,#b90000,#c20000,#c80000,#cc0000,#ce0000,#cf0000,#cf0000,#cb0000,#c30000,#bc0000,#b90000,#b60000,#b50000,#b50000,#b60000,#b80000,#bb0000,#c30000,#c80000,#c70000,#c60000,#c10000,#ba0000)"></i><i style="background:linear-gradient(90deg,#c90000,#d00000,#d60000,#d90000,#db0000,#db0000,#db0000,#d80000,#d00000,#cb0000,#c70000,#c50000,#c40000,#c40000,#c50000,#c70000,#ca0000,#d10000,#d50000,#d50000,#d30000,#d00000,#c90000)"></i><i style="background:linear-gradient(90deg,#dc0000,#e20000,#e60000,#e90000,#ea0000,#eb0000,#eb0000,#e70000,#e10000,#dc0000,#d90000,#d70000,#d60000,#d60000,#d70000,#d90000,#db0000,#e20000,#e60000,#e60000,#e40000,#e10000,#dc0000)"></i><i style="background:linear-gradient(90deg,#f10000,#f70000,#fa0000,#fc0000,#fd0000,#fd0000,#fd0000,#fa0000,#f40000,#ef0000,#ed0000,#eb0000,#ea0000,#eb0000,#ec0000,#ed0000,#f00000,#f50000,#f90000,#f90000,#f80000,#f60000,#f20000)"></i><i style="background:linear-gradient(90deg,#ff0c00,#ff1000,#ff1200,#ff1300,#ff1400,#ff1300,#ff1300,#ff1000,#ff0b00,#ff0700,#ff0500,#ff0300,#ff0300,#ff0300,#ff0400,#ff0600,#ff0800,#ff0d00,#ff1000,#ff1100,#ff1100,#ff1000,#ff0c00)"></i><i style="background:linear-gradient(90deg,#ff3000,#ff3200,#ff3300,#ff3300,#ff3300,#ff3200,#ff3000,#ff2e00,#ff2900,#ff2500,#ff2300,#ff2200,#ff2100,#ff2200,#ff2400,#ff2500,#ff2800,#ff2c00,#ff3000,#ff3100,#ff3200,#ff3200,#ff3000)"></i><i style="background:linear-gradient(90deg,#ff5a00,#ff5b00,#ff5b00,#ff5a00,#ff5900,#ff5700,#ff5600,#ff5300,#ff4e00,#ff4b00,#ff4900,#ff4700,#ff4700,#ff4800,#ff4a00,#ff4c00,#ff4e00,#ff5300,#ff5700,#ff5800,#ff5a00,#ff5b00,#ff5a00)"></i><i style="background:linear-gradient(90deg,#ff8500,#ff8500,#ff8400,#ff8300,#ff8100,#ff7f00,#ff7d00,#ff7a00,#ff7600,#ff7300,#ff7100,#ff7000,#ff7000,#ff7100,#ff7300,#ff7500,#ff7800,#ff7c00,#ff7f00,#ff8200,#ff8300,#ff8500,#ff8500)"></i><i style="background:linear-gradient(90deg,#ffb300,#ffb100,#ffaf00,#ffad00,#ffab00,#ffa800,#ffa600,#ffa200,#ff9f00,#ff9c00,#ff9a00,#ff9800,#ff9900,#ff9a00,#ff9c00,#ff9e00,#ffa100,#ffa500,#ffa900,#ffac00,#ffaf00,#ffb100,#ffb300)"></i><i style="background:linear-gradient(90deg,#ffe200,#ffe000,#ffdd00,#ffda00,#ffd700,#ffd400,#ffd100,#ffce00,#ffca00,#ffc700,#ffc500,#ffc400,#ffc400,#ffc600,#ffc800,#ffcb00,#ffce00,#ffd200,#ffd600,#ffd900,#ffdc00,#ffdf00,#ffe200)"></i><i style="background:linear-gradient(90deg,#f1ff0e,#f3ff0c,#f6ff09,#f9ff06,#fdff02,#fffe00,#fffc00,#fff800,#fff500,#fff200,#fff000,#ffef00,#fff000,#fff100,#fff300,#fff600,#fff900,#fffd00,#fdff02,#faff05,#f7ff08,#f4ff0b,#f1ff0e)"></i><i style="background:linear-gradient(90deg,#c9ff36,#ccff33,#cfff30,#d2ff2d,#d6ff29,#d9ff26,#dcff23,#dfff20,#e2ff1d,#e5ff1a,#e7ff18,#e8ff17,#e7ff18,#e5ff1a,#e3ff1c,#e1ff1e,#deff21,#daff25,#d6ff29,#d3ff2c,#d0ff2f,#ccff33,#c9ff36)"></i><i style="background:linear-gradient(90deg,#a3ff5c,#a6ff59,#aaff55,#adff52,#b0ff4f,#b4ff4b,#b7ff48,#baff45,#bdff42,#c0ff3f,#c1ff3e,#c2ff3d,#c2ff3d,#c0ff3f,#beff41,#bcff43,#b9ff46,#b5ff4a,#b1ff4e,#aeff51,#aaff55,#a7ff58,#a3ff5c)"></i><i style="background:linear-gradient(90deg,#7eff81,#82ff7d,#86ff79,#89ff76,#8dff72,#90ff6f,#93ff6c,#96ff69,#99ff66,#9cff63,#9eff61,#9fff60,#9eff61,#9dff62,#9aff65,#98ff67,#95ff6a,#91ff6e,#8eff71,#8aff75,#86ff79,#83ff7c,#7fff80)"></i><i style="background:linear-gradient(90deg,#5affa5,#5effa1,#62ff9d,#66ff99,#69ff96,#6dff92,#70ff8f,#74ff8b,#77ff88,#79ff86,#7bff84,#7cff83,#7bff84,#7aff85,#78ff87,#75ff8a,#72ff8d,#6eff91,#6bff94,#67ff98,#63ff9c,#5fffa0,#5bffa4)"></i><i style="background:linear-gradient(90deg,#36ffc9,#3affc5,#3effc1,#41ffbe,#45ffba,#49ffb6,#4cffb3,#50ffaf,#53ffac,#55ffaa,#57ffa8,#58ffa7,#57ffa8,#56ffa9,#54ffab,#51ffae,#4effb1,#4affb5,#47ffb8,#43ffbc,#3fffc0,#3bffc4,#37ffc8)"></i><i style="background:linear-gradient(90deg,#14ffeb,#18ffe7,#1bffe4,#1fffe0,#22ffdd,#26ffd9,#29ffd6,#2cffd3,#2fffd0,#32ffcd,#34ffcb,#35ffca,#34ffcb,#33ffcc,#31ffce,#2effd1,#2bffd4,#28ffd7,#24ffdb,#20ffdf,#1dffe2,#19ffe6,#15ffea)"></i><i style="background:linear-gradient(90deg,#00f5ff,#00f8ff,#00fbff,#00feff,#02fffd,#06fff9,#09fff6,#0cfff3,#0ffff0,#12ffed,#14ffeb,#15ffea,#14ffeb,#13ffec,#11ffee,#0ffff0,#0cfff3,#08fff7,#05fffa,#02fffd,#00fdff,#00faff,#00f7ff)"></i><i style="background:linear-gradient(90deg,#00dcff,#00deff,#00e1ff,#00e4ff,#00e7ff,#00ebff,#00eeff,#00f2ff,#00f5ff,#00f7ff,#00f9ff,#00faff,#00faff,#00f9ff,#00f7ff,#00f5ff,#00f2ff,#00eeff,#00ebff,#00e7ff,#00e4ff,#00e1ff,#00deff)"></i><i style="background:linear-gradient(90deg,#00c4ff,#00c6ff,#00c9ff,#00cdff,#00d0ff,#00d4ff,#00d8ff,#00dcff,#00dfff,#00e2ff,#00e5ff,#00e6ff,#00e6ff,#00e5ff,#00e3ff,#00e0ff,#00ddff,#00d9ff,#00d5ff,#00d1ff,#00cdff,#00c9ff,#00c6ff)"></i><i style="background:linear-gradient(90deg,#00aeff,#00b0ff,#00b4ff,#00b7ff,#00bbff,#00c0ff,#00c4ff,#00c8ff,#00ccff,#00d0ff,#00d3ff,#00d4ff,#00d4ff,#00d3ff,#00d1ff,#00ceff,#00caff,#00c5ff,#00c1ff,#00bcff,#00b8ff,#00b4ff,#00b1ff)"></i><i style="background:linear-gradient(90deg,#009aff,#009dff,#00a0ff,#00a4ff,#00a8ff,#00adff,#00b2ff,#00b7ff,#00bcff,#00bfff,#00c2ff,#00c4ff,#00c4ff,#00c3ff,#00c1ff,#00bdff,#00b9ff,#00b4ff,#00afff,#00aaff,#00a5ff,#00a1ff,#009dff)"></i><i style="background:linear-gradient(90deg,#0086ff,#0089ff,#008dff,#0091ff,#0096ff,#009bff,#00a1ff,#00a7ff,#00acff,#00b0ff,#00b4ff,#00b5ff,#00b6ff,#00b4ff,#00b2ff,#00aeff,#00a9ff,#00a3ff,#009eff,#0098ff,#0093ff,#008eff,#008aff)"></i><i style="background:linear-gradient(90deg,#0072ff,#0076ff,#007aff,#007eff,#0084ff,#008aff,#0090ff,#0097ff,#009dff,#00a2ff,#00a6ff,#00a8ff,#00a8ff,#00a7ff,#00a4ff,#009fff,#009aff,#0093ff,#008dff,#0087ff,#0081ff,#007bff,#0077ff)"></i><i style="background:linear-gradient(90deg,#005fff,#0063ff,#0067ff,#006cff,#0073ff,#0079ff,#0081ff,#0088ff,#008eff,#0094ff,#0098ff,#009bff,#009bff,#009aff,#0096ff,#0091ff,#008bff,#0084ff,#007dff,#0076ff,#006fff,#0069ff,#0064ff)"></i><i style="background:linear-gradient(90deg,#004dff,#0051ff,#0056ff,#005cff,#0062ff,#006aff,#0072ff,#0079ff,#0081ff,#0087ff,#008cff,#008eff,#008fff,#008dff,#008aff,#0084ff,#007dff,#0075ff,#006eff,#0066ff,#005fff,#0059ff,#0053ff)"></i><i style="background:linear-gradient(90deg,#003eff,#0042ff,#0047ff,#004dff,#0054ff,#005cff,#0064ff,#006cff,#0074ff,#007bff,#0080ff,#0083ff,#0084ff,#0082ff,#007eff,#0078ff,#0070ff,#0068ff,#0060ff,#0058ff,#0050ff,#0049ff,#0044ff)"></i><i style="background:linear-gradient(90deg,#0030ff,#0035ff,#003aff,#0040ff,#0047ff,#004fff,#0058ff,#0061ff,#0069ff,#0070ff,#0075ff,#0078ff,#0079ff,#0077ff,#0073ff,#006cff,#0065ff,#005cff,#0054ff,#004bff,#0043ff,#003dff,#0037ff)"></i><i style="background:linear-gradient(90deg,#0025ff,#002aff,#002fff,#0035ff,#003cff,#0045ff,#004dff,#0056ff,#005eff,#0066ff,#006bff,#006eff,#006fff,#006dff,#0068ff,#0062ff,#005aff,#0052ff,#0049ff,#0040ff,#0039ff,#0032ff,#002cff)"></i><i style="background:linear-gradient(90deg,#001bff,#001fff,#0024ff,#002bff,#0032ff,#003bff,#0043ff,#004cff,#0055ff,#005cff,#0061ff,#0065ff,#0065ff,#0063ff,#005fff,#0059ff,#0051ff,#0048ff,#003fff,#0036ff,#002eff,#0027ff,#0022ff)"></i><i style="background:linear-gradient(90deg,#0012ff,#0016ff,#001bff,#0021ff,#0029ff,#0031ff,#003aff,#0043ff,#004cff,#0053ff,#0058ff,#005cff,#005cff,#005aff,#0056ff,#004fff,#0047ff,#003fff,#0036ff,#002dff,#0025ff,#001eff,#0018ff)"></i><i style="background:linear-gradient(90deg,#0008ff,#000cff,#0011ff,#0017ff,#001fff,#0027ff,#0030ff,#003aff,#0042ff,#004aff,#004fff,#0052ff,#0053ff,#0051ff,#004dff,#0046ff,#003eff,#0035ff,#002cff,#0023ff,#001bff,#0014ff,#000eff)"></i><i style="background:linear-gradient(90deg,#0000fd,#0002ff,#0007ff,#000eff,#0015ff,#001eff,#0027ff,#0030ff,#0039ff,#0040ff,#0046ff,#0049ff,#004aff,#0048ff,#0043ff,#003dff,#0034ff,#002bff,#0022ff,#0019ff,#0011ff,#000aff,#0004ff)"></i><i style="background:linear-gradient(90deg,#0000f4,#0000f8,#0000fd,#0005ff,#000cff,#0015ff,#001eff,#0027ff,#0030ff,#0038ff,#003dff,#0041ff,#0042ff,#003fff,#003bff,#0034ff,#002cff,#0023ff,#0019ff,#0010ff,#0008ff,#0001ff,#0000fa)"></i><i style="background:linear-gradient(90deg,#0000ec,#0000f0,#0000f5,#0000fc,#0004ff,#000dff,#0016ff,#0020ff,#0029ff,#0030ff,#0036ff,#003aff,#003aff,#0038ff,#0034ff,#002dff,#0024ff,#001bff,#0012ff,#0009ff,#0000ff,#0000f8,#0000f2)"></i><i style="background:linear-gradient(90deg,#0000e6,#0000ea,#0000ef,#0000f6,#0000fd,#0007ff,#0011ff,#001aff,#0023ff,#002bff,#0031ff,#0035ff,#0035ff,#0033ff,#002eff,#0027ff,#001fff,#0015ff,#000cff,#0003ff,#0000f9,#0000f2,#0000ec)"></i><i style="background:linear-gradient(90deg,#0000e2,#0000e6,#0000eb,#0000f2,#0000fa,#0004ff,#000dff,#0017ff,#0020ff,#0028ff,#002eff,#0032ff,#0033ff,#0030ff,#002bff,#0024ff,#001cff,#0012ff,#0008ff,#0000fe,#0000f6,#0000ef,#0000e9)"></i><i style="background:linear-gradient(90deg,#0000e0,#0000e3,#0000e9,#0000ef,#0000f7,#0001ff,#000bff,#0015ff,#001eff,#0026ff,#002dff,#0030ff,#0031ff,#002fff,#002aff,#0022ff,#001aff,#0010ff,#0006ff,#0000fb,#0000f3,#0000ec,#0000e6)"></i><i style="background:linear-gradient(90deg,#0000dd,#0000e1,#0000e6,#0000ed,#0000f5,#0000fe,#0008ff,#0013ff,#001cff,#0025ff,#002bff,#002fff,#002fff,#002dff,#0028ff,#0021ff,#0018ff,#000eff,#0003ff,#0000f9,#0000f0,#0000e9,#0000e3)"></i><i style="background:linear-gradient(90deg,#0000da,#0000de,#0000e3,#0000ea,#0000f2,#0000fb,#0006ff,#0011ff,#001aff,#0023ff,#002aff,#002dff,#002eff,#002cff,#0027ff,#001fff,#0016ff,#000bff,#0001ff,#0000f7,#0000ee,#0000e7,#0000e1)"></i><i style="background:linear-gradient(90deg,#0000d8,#0000dc,#0000e1,#0000e8,#0000f0,#0000f9,#0004ff,#000fff,#0019ff,#0022ff,#0028ff,#002cff,#002dff,#002bff,#0025ff,#001eff,#0014ff,#000aff,#0000fe,#0000f4,#0000eb,#0000e4,#0000de)"></i><i style="background:linear-gradient(90deg,#0000d6,#0000d9,#0000df,#0000e5,#0000ee,#0000f7,#0002ff,#000dff,#0018ff,#0021ff,#0028ff,#002cff,#002cff,#002aff,#0024ff,#001cff,#0012ff,#0008ff,#0000fc,#0000f2,#0000e9,#0000e2,#0000dc)"></i><i style="background:linear-gradient(90deg,#0000d3,#0000d7,#0000dd,#0000e3,#0000eb,#0000f5,#0001ff,#000cff,#0016ff,#0020ff,#0027ff,#002bff,#002cff,#0029ff,#0024ff,#001bff,#0011ff,#0006ff,#0000fa,#0000f0,#0000e7,#0000e0,#0000da)"></i><i style="background:linear-gradient(90deg,#0000d2,#0000d5,#0000db,#0000e1,#0000ea,#0000f3,#0000fe,#000bff,#0015ff,#001fff,#0026ff,#002bff,#002cff,#0029ff,#0023ff,#001bff,#0010ff,#0005ff,#0000f9,#0000ee,#0000e5,#0000de,#0000d8)"></i><i style="background:linear-gradient(90deg,#0000d0,#0000d4,#0000d9,#0000e0,#0000e8,#0000f2,#0000fd,#000aff,#0015ff,#001fff,#0027ff,#002bff,#002cff,#0029ff,#0023ff,#001aff,#0010ff,#0004ff,#0000f8,#0000ed,#0000e4,#0000dc,#0000d6)"></i><i style="background:linear-gradient(90deg,#0000cf,#0000d3,#0000d8,#0000df,#0000e8,#0000f2,#0000fd,#000aff,#0016ff,#0020ff,#0028ff,#002cff,#002dff,#002aff,#0024ff,#001bff,#0010ff,#0004ff,#0000f7,#0000ec,#0000e3,#0000db,#0000d5)"></i><i style="background:linear-gradient(90deg,#0000cf,#0000d3,#0000d8,#0000df,#0000e8,#0000f2,#0000fd,#000bff,#0017ff,#0021ff,#002aff,#002eff,#002fff,#002cff,#0026ff,#001cff,#0011ff,#0005ff,#0000f8,#0000ec,#0000e3,#0000db,#0000d5)"></i><i style="background:linear-gradient(90deg,#0000d0,#0000d3,#0000d8,#0000df,#0000e8,#0000f2,#0000fe,#000cff,#0018ff,#0023ff,#002cff,#0031ff,#0032ff,#002fff,#0028ff,#001eff,#0012ff,#0006ff,#0000f8,#0000ed,#0000e3,#0000dc,#0000d6)"></i><i style="background:linear-gradient(90deg,#0000d0,#0000d4,#0000d9,#0000e0,#0000e9,#0000f3,#0001ff,#000eff,#001aff,#0026ff,#002fff,#0034ff,#0035ff,#0032ff,#002bff,#0020ff,#0014ff,#0007ff,#0000f9,#0000ee,#0000e4,#0000dc,#0000d6)"></i><i style="background:linear-gradient(90deg,#0000d1,#0000d4,#0000d9,#0000e0,#0000e9,#0000f4,#0002ff,#000fff,#001dff,#0028ff,#0032ff,#0037ff,#0038ff,#0035ff,#002dff,#0023ff,#0016ff,#0009ff,#0000fa,#0000ef,#0000e5,#0000dd,#0000d7)"></i><i style="background:linear-gradient(90deg,#0000d1,#0000d5,#0000da,#0000e1,#0000ea,#0000f5,#0003ff,#0011ff,#001fff,#002bff,#0035ff,#003aff,#003bff,#0038ff,#0030ff,#0025ff,#0018ff,#000aff,#0000fc,#0000ef,#0000e5,#0000dd,#0000d7)"></i><i style="background:linear-gradient(90deg,#0000d2,#0000d5,#0000da,#0000e1,#0000eb,#0000f6,#0004ff,#0013ff,#0021ff,#002dff,#0037ff,#003dff,#003fff,#003bff,#0033ff,#0027ff,#001aff,#000bff,#0000fd,#0000f0,#0000e6,#0000de,#0000d8)"></i><i style="background:linear-gradient(90deg,#0000d3,#0000d6,#0000db,#0000e2,#0000ec,#0000f7,#0006ff,#0014ff,#0023ff,#0030ff,#003bff,#0041ff,#0042ff,#003eff,#0036ff,#002aff,#001cff,#000dff,#0000fe,#0000f1,#0000e7,#0000de,#0000d8)"></i><i style="background:linear-gradient(90deg,#0000d4,#0000d7,#0000dc,#0000e3,#0000ed,#0000f9,#0008ff,#0017ff,#0026ff,#0034ff,#003fff,#0045ff,#0046ff,#0042ff,#003aff,#002dff,#001eff,#000fff,#0000ff,#0000f2,#0000e8,#0000df,#0000d9)"></i><i style="background:linear-gradient(90deg,#0000d5,#0000d8,#0000dd,#0000e5,#0000ee,#0000fa,#000aff,#0019ff,#0029ff,#0037ff,#0043ff,#004aff,#004bff,#0047ff,#003eff,#0031ff,#0021ff,#0011ff,#0002ff,#0000f4,#0000e9,#0000e1,#0000db)"></i><i style="background:linear-gradient(90deg,#0000d6,#0000da,#0000df,#0000e6,#0000f0,#0000fc,#000cff,#001cff,#002dff,#003cff,#0047ff,#004eff,#0050ff,#004bff,#0042ff,#0034ff,#0025ff,#0014ff,#0005ff,#0000f6,#0000eb,#0000e2,#0000dc)"></i><i style="background:linear-gradient(90deg,#0000d8,#0000db,#0000e0,#0000e8,#0000f2,#0000ff,#000fff,#001fff,#0030ff,#0040ff,#004cff,#0053ff,#0055ff,#0050ff,#0046ff,#0038ff,#0028ff,#0017ff,#0007ff,#0000f8,#0000ed,#0000e4,#0000de)"></i><i style="background:linear-gradient(90deg,#0000d9,#0000dd,#0000e2,#0000ea,#0000f4,#0002ff,#0011ff,#0023ff,#0034ff,#0044ff,#0051ff,#0058ff,#005aff,#0055ff,#004bff,#003cff,#002bff,#001aff,#0009ff,#0000fa,#0000ee,#0000e6,#0000df)"></i><i style="background:linear-gradient(90deg,#0000db,#0000df,#0000e4,#0000ec,#0000f6,#0004ff,#0014ff,#0026ff,#0038ff,#0048ff,#0056ff,#005dff,#005fff,#005aff,#0050ff,#0040ff,#002fff,#001dff,#000cff,#0000fc,#0000f0,#0000e7,#0000e1)"></i><i style="background:linear-gradient(90deg,#0000dd,#0000e0,#0000e6,#0000ed,#0000f8,#0007ff,#0017ff,#0029ff,#003cff,#004dff,#005aff,#0062ff,#0064ff,#005fff,#0054ff,#0045ff,#0033ff,#0020ff,#000fff,#0000fe,#0000f2,#0000e9,#0000e3)"></i><i style="background:linear-gradient(90deg,#0000de,#0000e2,#0000e7,#0000ef,#0000fa,#0009ff,#001aff,#002cff,#003fff,#0051ff,#005fff,#0067ff,#0069ff,#0064ff,#0059ff,#0049ff,#0036ff,#0023ff,#0011ff,#0002ff,#0000f4,#0000eb,#0000e4)"></i><i style="background:linear-gradient(90deg,#0000e0,#0000e3,#0000e9,#0000f1,#0000fc,#000bff,#001cff,#0030ff,#0043ff,#0055ff,#0063ff,#006cff,#006eff,#0068ff,#005dff,#004cff,#0039ff,#0026ff,#0014ff,#0004ff,#0000f6,#0000ec,#0000e6)"></i><i style="background:linear-gradient(90deg,#0000e1,#0000e4,#0000ea,#0000f2,#0000fe,#000dff,#001fff,#0033ff,#0047ff,#0059ff,#0067ff,#0070ff,#0072ff,#006dff,#0061ff,#0050ff,#003dff,#0029ff,#0016ff,#0006ff,#0000f8,#0000ee,#0000e7)"></i><i style="background:linear-gradient(90deg,#0000e2,#0000e6,#0000ec,#0000f4,#0001ff,#0010ff,#0022ff,#0036ff,#004aff,#005dff,#006bff,#0074ff,#0076ff,#0071ff,#0065ff,#0054ff,#0040ff,#002bff,#0018ff,#0008ff,#0000fa,#0000f0,#0000e8)"></i><i style="background:linear-gradient(90deg,#0000e3,#0000e7,#0000ed,#0000f6,#0003ff,#0012ff,#0025ff,#0039ff,#004dff,#0060ff,#006fff,#0078ff,#007aff,#0075ff,#0068ff,#0057ff,#0043ff,#002eff,#001bff,#000aff,#0000fc,#0000f1,#0000ea)"></i><i style="background:linear-gradient(90deg,#0000e4,#0000e9,#0000ef,#0000f8,#0005ff,#0015ff,#0028ff,#003cff,#0051ff,#0064ff,#0073ff,#007cff,#007eff,#0078ff,#006cff,#005bff,#0047ff,#0032ff,#001eff,#000dff,#0000fe,#0000f3,#0000eb)"></i><i style="background:linear-gradient(90deg,#0000e6,#0000ea,#0000f1,#0000fa,#0008ff,#0018ff,#002bff,#0040ff,#0054ff,#0068ff,#0077ff,#0080ff,#0081ff,#007cff,#0070ff,#005eff,#004aff,#0035ff,#0021ff,#000fff,#0001ff,#0000f5,#0000ed)"></i><i style="background:linear-gradient(90deg,#0000e7,#0000ec,#0000f3,#0000fd,#000bff,#001bff,#002eff,#0043ff,#0058ff,#006bff,#007aff,#0083ff,#0085ff,#007fff,#0073ff,#0062ff,#004eff,#0038ff,#0024ff,#0012ff,#0004ff,#0000f7,#0000ef)"></i><i style="background:linear-gradient(90deg,#0000e8,#0000ed,#0000f5,#0000ff,#000dff,#001eff,#0032ff,#0047ff,#005cff,#006fff,#007eff,#0087ff,#0089ff,#0083ff,#0077ff,#0066ff,#0051ff,#003cff,#0028ff,#0015ff,#0006ff,#0000f9,#0000f1)"></i><i style="background:linear-gradient(90deg,#0000ea,#0000ef,#0000f7,#0003ff,#0010ff,#0021ff,#0035ff,#004aff,#0060ff,#0073ff,#0081ff,#008aff,#008cff,#0087ff,#007bff,#0069ff,#0055ff,#0040ff,#002bff,#0019ff,#0009ff,#0000fc,#0000f3)"></i><i style="background:linear-gradient(90deg,#0000eb,#0000f1,#0000f9,#0005ff,#0013ff,#0025ff,#0039ff,#004eff,#0063ff,#0076ff,#0085ff,#008eff,#0090ff,#008aff,#007eff,#006dff,#0059ff,#0044ff,#002fff,#001cff,#000cff,#0000fe,#0000f5)"></i><i style="background:linear-gradient(90deg,#0000ed,#0000f3,#0000fb,#0008ff,#0017ff,#0028ff,#003dff,#0052ff,#0067ff,#007aff,#0089ff,#0092ff,#0094ff,#008eff,#0082ff,#0071ff,#005dff,#0047ff,#0032ff,#001fff,#000fff,#0002ff,#0000f7)"></i><i style="background:linear-gradient(90deg,#0000ee,#0000f5,#0000fe,#000bff,#001aff,#002cff,#0041ff,#0056ff,#006cff,#007eff,#008dff,#0096ff,#0098ff,#0092ff,#0086ff,#0075ff,#0061ff,#004bff,#0036ff,#0023ff,#0012ff,#0004ff,#0000f9)"></i><i style="background:linear-gradient(90deg,#0000f0,#0000f7,#0001ff,#000dff,#001dff,#0030ff,#0044ff,#005aff,#0070ff,#0083ff,#0091ff,#009aff,#009cff,#0097ff,#008bff,#007aff,#0065ff,#004fff,#003aff,#0026ff,#0015ff,#0007ff,#0000fb)"></i><i style="background:linear-gradient(90deg,#0000f1,#0000f8,#0003ff,#0010ff,#0020ff,#0033ff,#0048ff,#005fff,#0074ff,#0087ff,#0096ff,#009fff,#00a0ff,#009bff,#008fff,#007eff,#006aff,#0053ff,#003eff,#0029ff,#0018ff,#0009ff,#0000fd)"></i><i style="background:linear-gradient(90deg,#0000f3,#0000fa,#0006ff,#0013ff,#0023ff,#0037ff,#004cff,#0063ff,#0079ff,#008cff,#009bff,#00a3ff,#00a5ff,#00a0ff,#0094ff,#0083ff,#006eff,#0058ff,#0041ff,#002dff,#001bff,#000cff,#0000ff)"></i><i style="background:linear-gradient(90deg,#0000f4,#0000fc,#0008ff,#0015ff,#0026ff,#003aff,#0050ff,#0067ff,#007dff,#0091ff,#00a0ff,#00a9ff,#00aaff,#00a5ff,#0099ff,#0088ff,#0073ff,#005cff,#0045ff,#0030ff,#001eff,#000eff,#0002ff)"></i><i style="background:linear-gradient(90deg,#0000f6,#0000fe,#000aff,#0018ff,#002aff,#003eff,#0055ff,#006cff,#0083ff,#0097ff,#00a6ff,#00afff,#00b1ff,#00abff,#009fff,#008dff,#0078ff,#0060ff,#0049ff,#0034ff,#0021ff,#0011ff,#0004ff)"></i><i style="background:linear-gradient(90deg,#0000f7,#0001ff,#000cff,#001bff,#002eff,#0043ff,#005bff,#0073ff,#008bff,#009fff,#00afff,#00b8ff,#00baff,#00b4ff,#00a8ff,#0095ff,#007fff,#0067ff,#004fff,#0038ff,#0024ff,#0013ff,#0006ff)"></i><i style="background:linear-gradient(90deg,#0000f8,#0002ff,#000fff,#001eff,#0032ff,#0048ff,#0061ff,#007aff,#0093ff,#00a8ff,#00b8ff,#00c2ff,#00c4ff,#00beff,#00b1ff,#009eff,#0087ff,#006eff,#0054ff,#003dff,#0028ff,#0016ff,#0008ff)"></i><i style="background:linear-gradient(90deg,#0000f9,#0004ff,#0010ff,#0021ff,#0035ff,#004cff,#0065ff,#007fff,#0098ff,#00aeff,#00bfff,#00c9ff,#00cbff,#00c5ff,#00b7ff,#00a4ff,#008cff,#0072ff,#0058ff,#0040ff,#002aff,#0018ff,#000aff)"></i><i style="background:linear-gradient(90deg,#0000f9,#0004ff,#0011ff,#0022ff,#0036ff,#004dff,#0066ff,#0080ff,#0099ff,#00afff,#00c0ff,#00c9ff,#00ccff,#00c6ff,#00b8ff,#00a5ff,#008dff,#0073ff,#0059ff,#0041ff,#002bff,#0019ff,#000aff)"></i><i style="background:linear-gradient(90deg,#0000f9,#0003ff,#0010ff,#0021ff,#0035ff,#004cff,#0065ff,#007fff,#0098ff,#00aeff,#00beff,#00c8ff,#00caff,#00c4ff,#00b7ff,#00a3ff,#008cff,#0072ff,#0059ff,#0040ff,#002bff,#0018ff,#000aff)"></i><i style="background:linear-gradient(90deg,#0000f7,#0002ff,#000fff,#001fff,#0033ff,#004aff,#0064ff,#007dff,#0096ff,#00abff,#00bbff,#00c5ff,#00c7ff,#00c1ff,#00b4ff,#00a1ff,#008aff,#0070ff,#0057ff,#003fff,#0029ff,#0017ff,#0008ff)"></i><i style="background:linear-gradient(90deg,#0000f4,#0000fe,#000dff,#001dff,#0031ff,#0048ff,#0061ff,#007aff,#0092ff,#00a8ff,#00b8ff,#00c1ff,#00c3ff,#00bdff,#00b0ff,#009dff,#0087ff,#006eff,#0054ff,#003cff,#0027ff,#0014ff,#0006ff)"></i><i style="background:linear-gradient(90deg,#0000f2,#0000fc,#000aff,#001bff,#002eff,#0045ff,#005eff,#0077ff,#008fff,#00a4ff,#00b3ff,#00bdff,#00bfff,#00b9ff,#00acff,#009aff,#0083ff,#006aff,#0051ff,#0039ff,#0024ff,#0012ff,#0003ff)"></i><i style="background:linear-gradient(90deg,#0000f0,#0000fa,#0008ff,#0018ff,#002cff,#0042ff,#005bff,#0073ff,#008bff,#009fff,#00afff,#00b8ff,#00baff,#00b5ff,#00a8ff,#0096ff,#007fff,#0067ff,#004eff,#0037ff,#0021ff,#000fff,#0001ff)"></i><i style="background:linear-gradient(90deg,#0000ed,#0000f7,#0005ff,#0015ff,#0029ff,#003fff,#0057ff,#006fff,#0086ff,#009aff,#00aaff,#00b3ff,#00b5ff,#00afff,#00a3ff,#0091ff,#007bff,#0063ff,#004bff,#0034ff,#001fff,#000dff,#0000fd)"></i><i style="background:linear-gradient(90deg,#0000eb,#0000f5,#0003ff,#0013ff,#0026ff,#003bff,#0053ff,#006aff,#0081ff,#0094ff,#00a3ff,#00acff,#00aeff,#00a8ff,#009cff,#008bff,#0076ff,#005eff,#0047ff,#0030ff,#001cff,#000aff,#0000fb)"></i><i style="background:linear-gradient(90deg,#0000e9,#0000f3,#0000ff,#0010ff,#0022ff,#0037ff,#004eff,#0065ff,#007bff,#008dff,#009cff,#00a4ff,#00a6ff,#00a1ff,#0095ff,#0084ff,#0070ff,#0059ff,#0042ff,#002cff,#0019ff,#0008ff,#0000f9)"></i><i style="background:linear-gradient(90deg,#0000e8,#0000f1,#0000fd,#000dff,#001eff,#0033ff,#0048ff,#005eff,#0073ff,#0086ff,#0093ff,#009bff,#009dff,#0098ff,#008dff,#007dff,#0069ff,#0053ff,#003dff,#0028ff,#0015ff,#0005ff,#0000f6)"></i><i style="background:linear-gradient(90deg,#0000e5,#0000ee,#0000fa,#0009ff,#001aff,#002eff,#0042ff,#0058ff,#006cff,#007dff,#008aff,#0092ff,#0094ff,#008fff,#0084ff,#0075ff,#0062ff,#004dff,#0038ff,#0024ff,#0011ff,#0002ff,#0000f4)"></i></div>
<div class="cb" style="left:310.6px"></div><div class="cb" style="left:655.6px"></div>
<svg width="685" height="313" viewBox="0 0 685 313">
<defs><clipPath id="one"><rect x="0" y="-20" width="20" height="18.0"/><rect x="4.5" y="-3" width="2.5" height="4"/></clipPath></defs>
<g fill="none" stroke="#262626" stroke-width="1.3">
<rect x="49.20" y="2.70" width="115.10" height="269.60"/>
<path d="M54.25 272.30v-3.6M54.25 2.70v3.6M106.75 272.30v-3.6M106.75 2.70v3.6M159.25 272.30v-3.6M159.25 2.70v3.6M49.20 230.90h3.6M164.30 230.90h-3.6M49.20 189.50h3.6M164.30 189.50h-3.6M49.20 148.10h3.6M164.30 148.10h-3.6M49.20 106.70h3.6M164.30 106.70h-3.6M49.20 65.30h3.6M164.30 65.30h-3.6M49.20 23.90h3.6M164.30 23.90h-3.6"/>
<rect x="186.50" y="2.70" width="115.20" height="269.60"/>
<path d="M191.60 272.30v-3.6M191.60 2.70v3.6M244.10 272.30v-3.6M244.10 2.70v3.6M296.60 272.30v-3.6M296.60 2.70v3.6M186.50 230.90h3.6M301.70 230.90h-3.6M186.50 189.50h3.6M301.70 189.50h-3.6M186.50 148.10h3.6M301.70 148.10h-3.6M186.50 106.70h3.6M301.70 106.70h-3.6M186.50 65.30h3.6M301.70 65.30h-3.6M186.50 23.90h3.6M301.70 23.90h-3.6"/>
<rect x="393.20" y="2.70" width="115.10" height="269.60"/>
<path d="M398.25 272.30v-3.6M398.25 2.70v3.6M450.75 272.30v-3.6M450.75 2.70v3.6M503.25 272.30v-3.6M503.25 2.70v3.6M393.20 230.90h3.6M508.30 230.90h-3.6M393.20 189.50h3.6M508.30 189.50h-3.6M393.20 148.10h3.6M508.30 148.10h-3.6M393.20 106.70h3.6M508.30 106.70h-3.6M393.20 65.30h3.6M508.30 65.30h-3.6M393.20 23.90h3.6M508.30 23.90h-3.6"/>
<rect x="531.50" y="2.70" width="115.10" height="269.60"/>
<path d="M536.55 272.30v-3.6M536.55 2.70v3.6M589.05 272.30v-3.6M589.05 2.70v3.6M641.55 272.30v-3.6M641.55 2.70v3.6M531.50 230.90h3.6M646.60 230.90h-3.6M531.50 189.50h3.6M646.60 189.50h-3.6M531.50 148.10h3.6M646.60 148.10h-3.6M531.50 106.70h3.6M646.60 106.70h-3.6M531.50 65.30h3.6M646.60 65.30h-3.6M531.50 23.90h3.6M646.60 23.90h-3.6"/>
</g>
<g font-size="13.8">
<text x="53.5" y="291.1" text-anchor="middle">-20</text>
<text x="106.5" y="291.1" text-anchor="middle">0</text>
<text x="159.1" y="291.1" text-anchor="middle">20</text>
<text x="106.8" y="309.8" font-size="14.3" text-anchor="middle">Angle (deg.)</text>
<text x="190.9" y="291.1" text-anchor="middle">-20</text>
<text x="243.9" y="291.1" text-anchor="middle">0</text>
<text x="296.4" y="291.1" text-anchor="middle">20</text>
<text x="244.1" y="309.8" font-size="14.3" text-anchor="middle">Angle (deg.)</text>
<text x="397.6" y="291.1" text-anchor="middle">-20</text>
<text x="450.6" y="291.1" text-anchor="middle">0</text>
<text x="503.1" y="291.1" text-anchor="middle">20</text>
<text x="450.8" y="309.8" font-size="14.3" text-anchor="middle">Angle (deg.)</text>
<text x="535.8" y="291.1" text-anchor="middle">-20</text>
<text x="588.8" y="291.1" text-anchor="middle">0</text>
<text x="641.3" y="291.1" text-anchor="middle">20</text>
<text x="589.0" y="309.8" font-size="14.3" text-anchor="middle">Angle (deg.)</text>
<text x="44.4" y="277.7" text-anchor="end">720</text>
<text x="44.4" y="236.3" text-anchor="end">740</text>
<text x="44.4" y="194.9" text-anchor="end">760</text>
<text x="44.4" y="153.5" text-anchor="end">780</text>
<text x="44.4" y="112.1" text-anchor="end">800</text>
<text x="44.4" y="70.7" text-anchor="end">820</text>
<text x="44.4" y="29.3" text-anchor="end">840</text>
<text x="388.4" y="277.7" text-anchor="end">720</text>
<text x="388.4" y="236.3" text-anchor="end">740</text>
<text x="388.4" y="194.9" text-anchor="end">760</text>
<text x="388.4" y="153.5" text-anchor="end">780</text>
<text x="388.4" y="112.1" text-anchor="end">800</text>
<text x="388.4" y="70.7" text-anchor="end">820</text>
<text x="388.4" y="29.3" text-anchor="end">840</text>
</g>
<text font-size="15.3" transform="translate(12.3 148.1) rotate(-90) scale(1.18 1)">(nm)</text>
<text font-size="17" style="font-family:'DejaVu Sans','Liberation Sans',sans-serif;font-weight:200" transform="translate(11.9 161.4) rotate(-90)">λ</text>
<text font-size="15.3" transform="translate(356.3 148.1) rotate(-90) scale(1.18 1)">(nm)</text>
<text font-size="17" style="font-family:'DejaVu Sans','Liberation Sans',sans-serif;font-weight:200" transform="translate(355.9 161.4) rotate(-90)">λ</text>
<text x="2.2" y="12.2" font-size="16.5">a</text><text x="344.6" y="12.2" font-size="16.5">b</text>
<text x="317.1" y="26.7" font-size="22" text-anchor="middle" stroke="#262626" stroke-width=".3">I</text>
<g transform="translate(330.7 46.6)" clip-path="url(#one)"><text x="0" y="0" font-size="19.5">1</text></g>
<text x="329.8" y="242.3" font-size="19.5">0</text>
<text x="662.1" y="26.7" font-size="22" text-anchor="middle" stroke="#262626" stroke-width=".3">I</text>
<g transform="translate(675.7 46.6)" clip-path="url(#one)"><text x="0" y="0" font-size="19.5">1</text></g>
<text x="674.8" y="242.3" font-size="19.5">0</text>
<text x="51.5" y="26.6" font-size="27.2" style="fill:#fff;stroke:#fff;stroke-width:.45">σ<tspan font-size="18.4" dx="-0.6" dy="-7.6" style="stroke-width:.2">+</tspan></text>
<text x="189.7" y="23.7" font-size="27.2" style="fill:#fff;stroke:#fff;stroke-width:.45">σ<tspan font-size="18.4" dx="-0.6" dy="-9.1" style="stroke-width:.2">-</tspan></text>
<text x="395.9" y="25.8" font-size="27.2" style="fill:#fff;stroke:#fff;stroke-width:.45">σ<tspan font-size="18.4" dx="-0.6" dy="-7.6" style="stroke-width:.2">+</tspan></text>
<text x="533.5" y="24.1" font-size="27.2" style="fill:#fff;stroke:#fff;stroke-width:.45">σ<tspan font-size="18.4" dx="-0.6" dy="-9.3" style="stroke-width:.2">-</tspan></text>
</svg>
</div>
</body></html>
